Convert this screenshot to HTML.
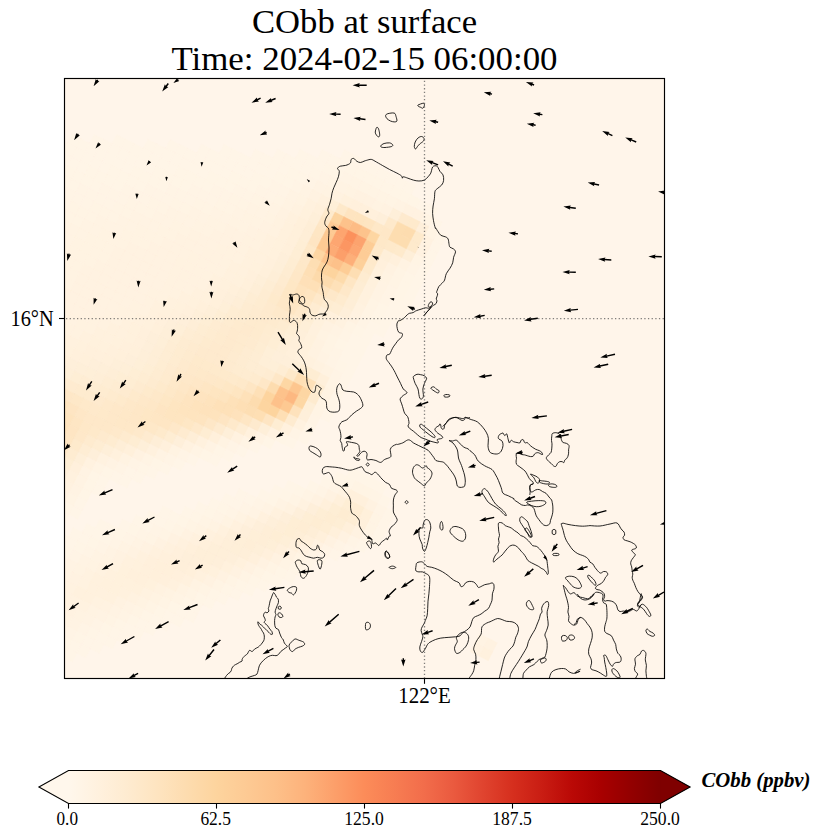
<!DOCTYPE html>
<html><head><meta charset="utf-8"><style>
html,body{margin:0;padding:0;background:#fff;width:820px;height:839px;overflow:hidden}
svg{display:block}
text{font-family:"Liberation Serif","DejaVu Serif",serif;fill:#000}
</style></head><body>
<svg width="820" height="839" viewBox="0 0 820 839">
<defs>
<linearGradient id="cb" x1="68.5" x2="660.5" y1="0" y2="0" gradientUnits="userSpaceOnUse">
<stop offset="0.00" stop-color="#fff7ec"/>
<stop offset="0.05" stop-color="#fff1de"/>
<stop offset="0.10" stop-color="#feebd0"/>
<stop offset="0.15" stop-color="#fee4c0"/>
<stop offset="0.20" stop-color="#fddcaf"/>
<stop offset="0.25" stop-color="#fdd49e"/>
<stop offset="0.30" stop-color="#fdca94"/>
<stop offset="0.35" stop-color="#fdc089"/>
<stop offset="0.40" stop-color="#fdb27b"/>
<stop offset="0.45" stop-color="#fc9f6a"/>
<stop offset="0.50" stop-color="#fc8c59"/>
<stop offset="0.55" stop-color="#f77d52"/>
<stop offset="0.60" stop-color="#f26d4b"/>
<stop offset="0.65" stop-color="#ea5a3f"/>
<stop offset="0.70" stop-color="#e0442f"/>
<stop offset="0.75" stop-color="#d62f1e"/>
<stop offset="0.80" stop-color="#c91d13"/>
<stop offset="0.85" stop-color="#ba0906"/>
<stop offset="0.90" stop-color="#a80000"/>
<stop offset="0.95" stop-color="#930000"/>
<stop offset="1.00" stop-color="#7f0000"/>
</linearGradient>
<clipPath id="ax"><rect x="64.5" y="78.5" width="600" height="600"/></clipPath>
</defs>
<!-- title -->
<text x="364.5" y="33" font-size="34.2" text-anchor="middle" textLength="225" lengthAdjust="spacingAndGlyphs">CObb at surface</text>
<text x="364.5" y="70.2" font-size="34.2" text-anchor="middle" textLength="386" lengthAdjust="spacingAndGlyphs">Time: 2024-02-15 06:00:00</text>
<!-- map -->
<g clip-path="url(#ax)">
<rect x="64.5" y="78.5" width="600" height="600" fill="#fff5ea"/>
<g id="plume"><g>
<path fill="#fff5e7" stroke="#fff5e7" stroke-width="0.6" d="M344.5 149.7l8.91 4.54 -4.54 8.91 -8.91 -4.54zM353.4 154.3l8.91 4.54 -4.54 8.91 -8.91 -4.54zM362.3 158.8l8.91 4.54 -4.54 8.91 -8.91 -4.54zM371.2 163.4l8.91 4.54 -4.54 8.91 -8.91 -4.54zM380.1 167.9l8.91 4.54 -4.54 8.91 -8.91 -4.54zM389.0 172.4l8.91 4.54 -4.54 8.91 -8.91 -4.54zM397.9 177.0l8.91 4.54 -4.54 8.91 -8.91 -4.54zM406.8 181.5l8.91 4.54 -4.54 8.91 -8.91 -4.54zM322.1 149.6l8.91 4.54 -4.54 8.91 -8.91 -4.54zM331.0 154.1l8.91 4.54 -4.54 8.91 -8.91 -4.54zM339.9 158.7l8.91 4.54 -4.54 8.91 -8.91 -4.54zM420.1 199.5l8.91 4.54 -4.54 8.91 -8.91 -4.54zM429.0 204.1l8.91 4.54 -4.54 8.91 -8.91 -4.54zM299.7 149.4l8.91 4.54 -4.54 8.91 -8.91 -4.54zM308.6 153.9l8.91 4.54 -4.54 8.91 -8.91 -4.54zM317.6 158.5l8.91 4.54 -4.54 8.91 -8.91 -4.54zM433.4 217.5l8.91 4.54 -4.54 8.91 -8.91 -4.54zM277.4 149.2l8.91 4.54 -4.54 8.91 -8.91 -4.54zM286.3 153.8l8.91 4.54 -4.54 8.91 -8.91 -4.54zM295.2 158.3l8.91 4.54 -4.54 8.91 -8.91 -4.54zM304.1 162.9l8.91 4.54 -4.54 8.91 -8.91 -4.54zM437.8 231.0l8.91 4.54 -4.54 8.91 -8.91 -4.54zM255.0 149.1l8.91 4.54 -4.54 8.91 -8.91 -4.54zM263.9 153.6l8.91 4.54 -4.54 8.91 -8.91 -4.54zM272.8 158.1l8.91 4.54 -4.54 8.91 -8.91 -4.54zM281.7 162.7l8.91 4.54 -4.54 8.91 -8.91 -4.54zM433.2 239.9l8.91 4.54 -4.54 8.91 -8.91 -4.54zM223.7 144.4l8.91 4.54 -4.54 8.91 -8.91 -4.54zM232.7 148.9l8.91 4.54 -4.54 8.91 -8.91 -4.54zM241.6 153.4l8.91 4.54 -4.54 8.91 -8.91 -4.54zM250.5 158.0l8.91 4.54 -4.54 8.91 -8.91 -4.54zM259.4 162.5l8.91 4.54 -4.54 8.91 -8.91 -4.54zM268.3 167.1l8.91 4.54 -4.54 8.91 -8.91 -4.54zM428.7 248.8l8.91 4.54 -4.54 8.91 -8.91 -4.54zM201.4 144.2l8.91 4.54 -4.54 8.91 -8.91 -4.54zM210.3 148.7l8.91 4.54 -4.54 8.91 -8.91 -4.54zM219.2 153.3l8.91 4.54 -4.54 8.91 -8.91 -4.54zM228.1 157.8l8.91 4.54 -4.54 8.91 -8.91 -4.54zM237.0 162.3l8.91 4.54 -4.54 8.91 -8.91 -4.54zM245.9 166.9l8.91 4.54 -4.54 8.91 -8.91 -4.54zM424.1 257.7l8.91 4.54 -4.54 8.91 -8.91 -4.54zM170.1 139.5l8.91 4.54 -4.54 8.91 -8.91 -4.54zM179.0 144.0l8.91 4.54 -4.54 8.91 -8.91 -4.54zM187.9 148.6l8.91 4.54 -4.54 8.91 -8.91 -4.54zM196.8 153.1l8.91 4.54 -4.54 8.91 -8.91 -4.54zM205.8 157.6l8.91 4.54 -4.54 8.91 -8.91 -4.54zM214.7 162.2l8.91 4.54 -4.54 8.91 -8.91 -4.54zM223.6 166.7l8.91 4.54 -4.54 8.91 -8.91 -4.54zM419.6 266.6l8.91 4.54 -4.54 8.91 -8.91 -4.54zM147.8 139.3l8.91 4.54 -4.54 8.91 -8.91 -4.54zM156.7 143.8l8.91 4.54 -4.54 8.91 -8.91 -4.54zM165.6 148.4l8.91 4.54 -4.54 8.91 -8.91 -4.54zM174.5 152.9l8.91 4.54 -4.54 8.91 -8.91 -4.54zM183.4 157.5l8.91 4.54 -4.54 8.91 -8.91 -4.54zM192.3 162.0l8.91 4.54 -4.54 8.91 -8.91 -4.54zM201.2 166.5l8.91 4.54 -4.54 8.91 -8.91 -4.54zM415.1 275.5l8.91 4.54 -4.54 8.91 -8.91 -4.54zM116.5 134.6l8.91 4.54 -4.54 8.91 -8.91 -4.54zM125.4 139.1l8.91 4.54 -4.54 8.91 -8.91 -4.54zM134.3 143.7l8.91 4.54 -4.54 8.91 -8.91 -4.54zM143.2 148.2l8.91 4.54 -4.54 8.91 -8.91 -4.54zM152.1 152.8l8.91 4.54 -4.54 8.91 -8.91 -4.54zM161.0 157.3l8.91 4.54 -4.54 8.91 -8.91 -4.54zM169.9 161.8l8.91 4.54 -4.54 8.91 -8.91 -4.54zM410.5 284.4l8.91 4.54 -4.54 8.91 -8.91 -4.54zM94.1 134.4l8.91 4.54 -4.54 8.91 -8.91 -4.54zM103.0 139.0l8.91 4.54 -4.54 8.91 -8.91 -4.54zM111.9 143.5l8.91 4.54 -4.54 8.91 -8.91 -4.54zM120.9 148.0l8.91 4.54 -4.54 8.91 -8.91 -4.54zM129.8 152.6l8.91 4.54 -4.54 8.91 -8.91 -4.54zM138.7 157.1l8.91 4.54 -4.54 8.91 -8.91 -4.54zM147.6 161.7l8.91 4.54 -4.54 8.91 -8.91 -4.54zM406.0 293.3l8.91 4.54 -4.54 8.91 -8.91 -4.54zM71.8 134.3l8.91 4.54 -4.54 8.91 -8.91 -4.54zM80.7 138.8l8.91 4.54 -4.54 8.91 -8.91 -4.54zM89.6 143.3l8.91 4.54 -4.54 8.91 -8.91 -4.54zM98.5 147.9l8.91 4.54 -4.54 8.91 -8.91 -4.54zM107.4 152.4l8.91 4.54 -4.54 8.91 -8.91 -4.54zM116.3 157.0l8.91 4.54 -4.54 8.91 -8.91 -4.54zM125.2 161.5l8.91 4.54 -4.54 8.91 -8.91 -4.54zM392.5 297.7l8.91 4.54 -4.54 8.91 -8.91 -4.54zM401.4 302.2l8.91 4.54 -4.54 8.91 -8.91 -4.54zM58.3 138.6l8.91 4.54 -4.54 8.91 -8.91 -4.54zM67.2 143.2l8.91 4.54 -4.54 8.91 -8.91 -4.54zM76.1 147.7l8.91 4.54 -4.54 8.91 -8.91 -4.54zM85.0 152.2l8.91 4.54 -4.54 8.91 -8.91 -4.54zM94.0 156.8l8.91 4.54 -4.54 8.91 -8.91 -4.54zM102.9 161.3l8.91 4.54 -4.54 8.91 -8.91 -4.54zM388.0 306.6l8.91 4.54 -4.54 8.91 -8.91 -4.54zM396.9 311.1l8.91 4.54 -4.54 8.91 -8.91 -4.54zM53.8 147.5l8.91 4.54 -4.54 8.91 -8.91 -4.54zM62.7 152.1l8.91 4.54 -4.54 8.91 -8.91 -4.54zM71.6 156.6l8.91 4.54 -4.54 8.91 -8.91 -4.54zM80.5 161.2l8.91 4.54 -4.54 8.91 -8.91 -4.54zM383.4 315.5l8.91 4.54 -4.54 8.91 -8.91 -4.54zM58.1 161.0l8.91 4.54 -4.54 8.91 -8.91 -4.54zM370.0 319.9l8.91 4.54 -4.54 8.91 -8.91 -4.54zM378.9 324.4l8.91 4.54 -4.54 8.91 -8.91 -4.54zM365.5 328.8l8.91 4.54 -4.54 8.91 -8.91 -4.54zM352.0 333.2l8.91 4.54 -4.54 8.91 -8.91 -4.54zM360.9 337.7l8.91 4.54 -4.54 8.91 -8.91 -4.54zM347.5 342.1l8.91 4.54 -4.54 8.91 -8.91 -4.54zM356.4 346.6l8.91 4.54 -4.54 8.91 -8.91 -4.54zM342.9 351.0l8.91 4.54 -4.54 8.91 -8.91 -4.54zM351.8 355.5l8.91 4.54 -4.54 8.91 -8.91 -4.54zM347.3 364.4l8.91 4.54 -4.54 8.91 -8.91 -4.54zM342.8 373.3l8.91 4.54 -4.54 8.91 -8.91 -4.54zM338.2 382.3l8.91 4.54 -4.54 8.91 -8.91 -4.54zM333.7 391.2l8.91 4.54 -4.54 8.91 -8.91 -4.54zM329.1 400.1l8.91 4.54 -4.54 8.91 -8.91 -4.54zM324.6 409.0l8.91 4.54 -4.54 8.91 -8.91 -4.54zM302.1 431.2l8.91 4.54 -4.54 8.91 -8.91 -4.54zM288.6 435.5l8.91 4.54 -4.54 8.91 -8.91 -4.54zM351.0 467.3l8.91 4.54 -4.54 8.91 -8.91 -4.54zM359.9 471.9l8.91 4.54 -4.54 8.91 -8.91 -4.54zM368.8 476.4l8.91 4.54 -4.54 8.91 -8.91 -4.54zM377.7 480.9l8.91 4.54 -4.54 8.91 -8.91 -4.54zM337.5 471.7l8.91 4.54 -4.54 8.91 -8.91 -4.54zM382.1 494.4l8.91 4.54 -4.54 8.91 -8.91 -4.54zM252.8 439.7l8.91 4.54 -4.54 8.91 -8.91 -4.54zM324.1 476.1l8.91 4.54 -4.54 8.91 -8.91 -4.54zM386.5 507.8l8.91 4.54 -4.54 8.91 -8.91 -4.54zM239.4 444.1l8.91 4.54 -4.54 8.91 -8.91 -4.54zM310.6 480.4l8.91 4.54 -4.54 8.91 -8.91 -4.54zM381.9 516.8l8.91 4.54 -4.54 8.91 -8.91 -4.54zM225.9 448.5l8.91 4.54 -4.54 8.91 -8.91 -4.54zM288.3 480.3l8.91 4.54 -4.54 8.91 -8.91 -4.54zM377.4 525.7l8.91 4.54 -4.54 8.91 -8.91 -4.54zM212.5 452.9l8.91 4.54 -4.54 8.91 -8.91 -4.54zM274.8 484.6l8.91 4.54 -4.54 8.91 -8.91 -4.54zM372.8 534.6l8.91 4.54 -4.54 8.91 -8.91 -4.54zM190.1 452.7l8.91 4.54 -4.54 8.91 -8.91 -4.54zM261.4 489.0l8.91 4.54 -4.54 8.91 -8.91 -4.54zM359.4 538.9l8.91 4.54 -4.54 8.91 -8.91 -4.54zM176.6 457.1l8.91 4.54 -4.54 8.91 -8.91 -4.54zM239.0 488.8l8.91 4.54 -4.54 8.91 -8.91 -4.54zM247.9 493.4l8.91 4.54 -4.54 8.91 -8.91 -4.54zM345.9 543.3l8.91 4.54 -4.54 8.91 -8.91 -4.54zM163.2 461.4l8.91 4.54 -4.54 8.91 -8.91 -4.54zM225.6 493.2l8.91 4.54 -4.54 8.91 -8.91 -4.54zM234.5 497.7l8.91 4.54 -4.54 8.91 -8.91 -4.54zM332.5 547.7l8.91 4.54 -4.54 8.91 -8.91 -4.54zM149.7 465.8l8.91 4.54 -4.54 8.91 -8.91 -4.54zM212.1 497.6l8.91 4.54 -4.54 8.91 -8.91 -4.54zM319.0 552.1l8.91 4.54 -4.54 8.91 -8.91 -4.54zM127.4 465.6l8.91 4.54 -4.54 8.91 -8.91 -4.54zM136.3 470.2l8.91 4.54 -4.54 8.91 -8.91 -4.54zM198.7 501.9l8.91 4.54 -4.54 8.91 -8.91 -4.54zM305.6 556.4l8.91 4.54 -4.54 8.91 -8.91 -4.54zM113.9 470.0l8.91 4.54 -4.54 8.91 -8.91 -4.54zM122.8 474.5l8.91 4.54 -4.54 8.91 -8.91 -4.54zM185.2 506.3l8.91 4.54 -4.54 8.91 -8.91 -4.54zM301.0 565.3l8.91 4.54 -4.54 8.91 -8.91 -4.54zM100.5 474.4l8.91 4.54 -4.54 8.91 -8.91 -4.54zM162.9 506.1l8.91 4.54 -4.54 8.91 -8.91 -4.54zM171.8 510.7l8.91 4.54 -4.54 8.91 -8.91 -4.54zM287.6 569.7l8.91 4.54 -4.54 8.91 -8.91 -4.54zM95.9 483.3l8.91 4.54 -4.54 8.91 -8.91 -4.54zM149.4 510.5l8.91 4.54 -4.54 8.91 -8.91 -4.54zM158.3 515.1l8.91 4.54 -4.54 8.91 -8.91 -4.54zM274.1 574.1l8.91 4.54 -4.54 8.91 -8.91 -4.54zM136.0 514.9l8.91 4.54 -4.54 8.91 -8.91 -4.54zM144.9 519.4l8.91 4.54 -4.54 8.91 -8.91 -4.54zM260.7 578.4l8.91 4.54 -4.54 8.91 -8.91 -4.54zM78.0 496.6l8.91 4.54 -4.54 8.91 -8.91 -4.54zM122.5 519.3l8.91 4.54 -4.54 8.91 -8.91 -4.54zM247.2 582.8l8.91 4.54 -4.54 8.91 -8.91 -4.54zM73.4 505.5l8.91 4.54 -4.54 8.91 -8.91 -4.54zM100.1 519.1l8.91 4.54 -4.54 8.91 -8.91 -4.54zM109.1 523.6l8.91 4.54 -4.54 8.91 -8.91 -4.54zM233.8 587.2l8.91 4.54 -4.54 8.91 -8.91 -4.54zM60.0 509.8l8.91 4.54 -4.54 8.91 -8.91 -4.54zM86.7 523.5l8.91 4.54 -4.54 8.91 -8.91 -4.54zM95.6 528.0l8.91 4.54 -4.54 8.91 -8.91 -4.54zM220.3 591.6l8.91 4.54 -4.54 8.91 -8.91 -4.54zM73.2 527.8l8.91 4.54 -4.54 8.91 -8.91 -4.54zM82.2 532.4l8.91 4.54 -4.54 8.91 -8.91 -4.54zM206.9 595.9l8.91 4.54 -4.54 8.91 -8.91 -4.54zM59.8 532.2l8.91 4.54 -4.54 8.91 -8.91 -4.54zM68.7 536.7l8.91 4.54 -4.54 8.91 -8.91 -4.54zM193.4 600.3l8.91 4.54 -4.54 8.91 -8.91 -4.54zM55.3 541.1l8.91 4.54 -4.54 8.91 -8.91 -4.54zM180.0 604.7l8.91 4.54 -4.54 8.91 -8.91 -4.54zM188.9 609.2l8.91 4.54 -4.54 8.91 -8.91 -4.54zM166.5 609.0l8.91 4.54 -4.54 8.91 -8.91 -4.54zM175.5 613.6l8.91 4.54 -4.54 8.91 -8.91 -4.54zM153.1 613.4l8.91 4.54 -4.54 8.91 -8.91 -4.54zM162.0 617.9l8.91 4.54 -4.54 8.91 -8.91 -4.54zM139.6 617.8l8.91 4.54 -4.54 8.91 -8.91 -4.54zM148.6 622.3l8.91 4.54 -4.54 8.91 -8.91 -4.54zM126.2 622.1l8.91 4.54 -4.54 8.91 -8.91 -4.54zM135.1 626.7l8.91 4.54 -4.54 8.91 -8.91 -4.54zM112.7 626.5l8.91 4.54 -4.54 8.91 -8.91 -4.54zM121.7 631.1l8.91 4.54 -4.54 8.91 -8.91 -4.54zM99.3 630.9l8.91 4.54 -4.54 8.91 -8.91 -4.54zM108.2 635.4l8.91 4.54 -4.54 8.91 -8.91 -4.54zM85.8 635.3l8.91 4.54 -4.54 8.91 -8.91 -4.54zM94.8 639.8l8.91 4.54 -4.54 8.91 -8.91 -4.54zM72.4 639.6l8.91 4.54 -4.54 8.91 -8.91 -4.54zM81.3 644.2l8.91 4.54 -4.54 8.91 -8.91 -4.54zM58.9 644.0l8.91 4.54 -4.54 8.91 -8.91 -4.54zM67.9 648.5l8.91 4.54 -4.54 8.91 -8.91 -4.54z"/>
<path fill="#fff5e6" stroke="#fff5e6" stroke-width="0.6" d="M348.8 163.2l8.91 4.54 -4.54 8.91 -8.91 -4.54zM357.7 167.7l8.91 4.54 -4.54 8.91 -8.91 -4.54zM366.6 172.3l8.91 4.54 -4.54 8.91 -8.91 -4.54zM375.6 176.8l8.91 4.54 -4.54 8.91 -8.91 -4.54zM384.5 181.4l8.91 4.54 -4.54 8.91 -8.91 -4.54zM393.4 185.9l8.91 4.54 -4.54 8.91 -8.91 -4.54zM402.3 190.4l8.91 4.54 -4.54 8.91 -8.91 -4.54zM411.2 195.0l8.91 4.54 -4.54 8.91 -8.91 -4.54zM326.5 163.0l8.91 4.54 -4.54 8.91 -8.91 -4.54zM335.4 167.6l8.91 4.54 -4.54 8.91 -8.91 -4.54zM313.0 167.4l8.91 4.54 -4.54 8.91 -8.91 -4.54zM290.7 167.2l8.91 4.54 -4.54 8.91 -8.91 -4.54zM299.6 171.8l8.91 4.54 -4.54 8.91 -8.91 -4.54zM277.2 171.6l8.91 4.54 -4.54 8.91 -8.91 -4.54zM286.1 176.1l8.91 4.54 -4.54 8.91 -8.91 -4.54zM254.8 171.4l8.91 4.54 -4.54 8.91 -8.91 -4.54zM263.8 176.0l8.91 4.54 -4.54 8.91 -8.91 -4.54zM232.5 171.3l8.91 4.54 -4.54 8.91 -8.91 -4.54zM241.4 175.8l8.91 4.54 -4.54 8.91 -8.91 -4.54zM250.3 180.3l8.91 4.54 -4.54 8.91 -8.91 -4.54zM210.1 171.1l8.91 4.54 -4.54 8.91 -8.91 -4.54zM219.0 175.6l8.91 4.54 -4.54 8.91 -8.91 -4.54zM227.9 180.2l8.91 4.54 -4.54 8.91 -8.91 -4.54zM406.1 271.0l8.91 4.54 -4.54 8.91 -8.91 -4.54zM178.9 166.4l8.91 4.54 -4.54 8.91 -8.91 -4.54zM187.8 170.9l8.91 4.54 -4.54 8.91 -8.91 -4.54zM196.7 175.5l8.91 4.54 -4.54 8.91 -8.91 -4.54zM205.6 180.0l8.91 4.54 -4.54 8.91 -8.91 -4.54zM401.6 279.9l8.91 4.54 -4.54 8.91 -8.91 -4.54zM156.5 166.2l8.91 4.54 -4.54 8.91 -8.91 -4.54zM165.4 170.7l8.91 4.54 -4.54 8.91 -8.91 -4.54zM174.3 175.3l8.91 4.54 -4.54 8.91 -8.91 -4.54zM183.2 179.8l8.91 4.54 -4.54 8.91 -8.91 -4.54zM397.1 288.8l8.91 4.54 -4.54 8.91 -8.91 -4.54zM134.1 166.0l8.91 4.54 -4.54 8.91 -8.91 -4.54zM143.0 170.6l8.91 4.54 -4.54 8.91 -8.91 -4.54zM152.0 175.1l8.91 4.54 -4.54 8.91 -8.91 -4.54zM160.9 179.7l8.91 4.54 -4.54 8.91 -8.91 -4.54zM111.8 165.9l8.91 4.54 -4.54 8.91 -8.91 -4.54zM120.7 170.4l8.91 4.54 -4.54 8.91 -8.91 -4.54zM129.6 174.9l8.91 4.54 -4.54 8.91 -8.91 -4.54zM138.5 179.5l8.91 4.54 -4.54 8.91 -8.91 -4.54zM379.1 302.1l8.91 4.54 -4.54 8.91 -8.91 -4.54zM89.4 165.7l8.91 4.54 -4.54 8.91 -8.91 -4.54zM98.3 170.2l8.91 4.54 -4.54 8.91 -8.91 -4.54zM107.2 174.8l8.91 4.54 -4.54 8.91 -8.91 -4.54zM116.1 179.3l8.91 4.54 -4.54 8.91 -8.91 -4.54zM374.5 311.0l8.91 4.54 -4.54 8.91 -8.91 -4.54zM67.1 165.5l8.91 4.54 -4.54 8.91 -8.91 -4.54zM76.0 170.1l8.91 4.54 -4.54 8.91 -8.91 -4.54zM84.9 174.6l8.91 4.54 -4.54 8.91 -8.91 -4.54zM93.8 179.1l8.91 4.54 -4.54 8.91 -8.91 -4.54zM53.6 169.9l8.91 4.54 -4.54 8.91 -8.91 -4.54zM62.5 174.4l8.91 4.54 -4.54 8.91 -8.91 -4.54zM71.4 179.0l8.91 4.54 -4.54 8.91 -8.91 -4.54zM356.5 324.3l8.91 4.54 -4.54 8.91 -8.91 -4.54zM58.0 183.3l8.91 4.54 -4.54 8.91 -8.91 -4.54zM338.6 337.5l8.91 4.54 -4.54 8.91 -8.91 -4.54zM338.4 359.9l8.91 4.54 -4.54 8.91 -8.91 -4.54zM306.6 422.3l8.91 4.54 -4.54 8.91 -8.91 -4.54zM279.7 431.0l8.91 4.54 -4.54 8.91 -8.91 -4.54zM266.3 435.4l8.91 4.54 -4.54 8.91 -8.91 -4.54zM346.4 476.2l8.91 4.54 -4.54 8.91 -8.91 -4.54zM217.0 443.9l8.91 4.54 -4.54 8.91 -8.91 -4.54zM297.2 484.8l8.91 4.54 -4.54 8.91 -8.91 -4.54zM203.5 448.3l8.91 4.54 -4.54 8.91 -8.91 -4.54zM283.7 489.2l8.91 4.54 -4.54 8.91 -8.91 -4.54zM270.3 493.5l8.91 4.54 -4.54 8.91 -8.91 -4.54zM154.3 456.9l8.91 4.54 -4.54 8.91 -8.91 -4.54zM140.8 461.3l8.91 4.54 -4.54 8.91 -8.91 -4.54zM221.0 502.1l8.91 4.54 -4.54 8.91 -8.91 -4.54zM207.6 506.5l8.91 4.54 -4.54 8.91 -8.91 -4.54zM105.0 465.5l8.91 4.54 -4.54 8.91 -8.91 -4.54zM194.1 510.9l8.91 4.54 -4.54 8.91 -8.91 -4.54zM292.1 560.8l8.91 4.54 -4.54 8.91 -8.91 -4.54zM91.6 469.8l8.91 4.54 -4.54 8.91 -8.91 -4.54zM180.7 515.2l8.91 4.54 -4.54 8.91 -8.91 -4.54zM278.7 565.2l8.91 4.54 -4.54 8.91 -8.91 -4.54zM87.0 478.7l8.91 4.54 -4.54 8.91 -8.91 -4.54zM167.2 519.6l8.91 4.54 -4.54 8.91 -8.91 -4.54zM265.2 569.5l8.91 4.54 -4.54 8.91 -8.91 -4.54zM82.5 487.6l8.91 4.54 -4.54 8.91 -8.91 -4.54zM251.8 573.9l8.91 4.54 -4.54 8.91 -8.91 -4.54zM131.4 523.8l8.91 4.54 -4.54 8.91 -8.91 -4.54zM238.3 578.3l8.91 4.54 -4.54 8.91 -8.91 -4.54zM64.5 500.9l8.91 4.54 -4.54 8.91 -8.91 -4.54zM118.0 528.2l8.91 4.54 -4.54 8.91 -8.91 -4.54zM224.9 582.6l8.91 4.54 -4.54 8.91 -8.91 -4.54zM104.5 532.5l8.91 4.54 -4.54 8.91 -8.91 -4.54zM211.4 587.0l8.91 4.54 -4.54 8.91 -8.91 -4.54zM91.1 536.9l8.91 4.54 -4.54 8.91 -8.91 -4.54zM198.0 591.4l8.91 4.54 -4.54 8.91 -8.91 -4.54zM77.6 541.3l8.91 4.54 -4.54 8.91 -8.91 -4.54zM184.5 595.8l8.91 4.54 -4.54 8.91 -8.91 -4.54zM64.2 545.6l8.91 4.54 -4.54 8.91 -8.91 -4.54zM171.1 600.1l8.91 4.54 -4.54 8.91 -8.91 -4.54zM157.6 604.5l8.91 4.54 -4.54 8.91 -8.91 -4.54zM144.2 608.9l8.91 4.54 -4.54 8.91 -8.91 -4.54zM130.7 613.2l8.91 4.54 -4.54 8.91 -8.91 -4.54zM117.3 617.6l8.91 4.54 -4.54 8.91 -8.91 -4.54zM103.8 622.0l8.91 4.54 -4.54 8.91 -8.91 -4.54zM90.4 626.3l8.91 4.54 -4.54 8.91 -8.91 -4.54zM76.9 630.7l8.91 4.54 -4.54 8.91 -8.91 -4.54zM54.6 630.5l8.91 4.54 -4.54 8.91 -8.91 -4.54zM63.5 635.1l8.91 4.54 -4.54 8.91 -8.91 -4.54z"/>
<path fill="#fff4e5" stroke="#fff4e5" stroke-width="0.6" d="M344.3 172.1l8.91 4.54 -4.54 8.91 -8.91 -4.54zM321.9 171.9l8.91 4.54 -4.54 8.91 -8.91 -4.54zM308.5 176.3l8.91 4.54 -4.54 8.91 -8.91 -4.54zM295.0 180.7l8.91 4.54 -4.54 8.91 -8.91 -4.54zM272.7 180.5l8.91 4.54 -4.54 8.91 -8.91 -4.54zM281.6 185.0l8.91 4.54 -4.54 8.91 -8.91 -4.54zM259.2 184.9l8.91 4.54 -4.54 8.91 -8.91 -4.54zM268.1 189.4l8.91 4.54 -4.54 8.91 -8.91 -4.54zM410.7 262.1l8.91 4.54 -4.54 8.91 -8.91 -4.54zM236.9 184.7l8.91 4.54 -4.54 8.91 -8.91 -4.54zM245.8 189.2l8.91 4.54 -4.54 8.91 -8.91 -4.54zM214.5 184.5l8.91 4.54 -4.54 8.91 -8.91 -4.54zM223.4 189.1l8.91 4.54 -4.54 8.91 -8.91 -4.54zM192.1 184.4l8.91 4.54 -4.54 8.91 -8.91 -4.54zM201.0 188.9l8.91 4.54 -4.54 8.91 -8.91 -4.54zM210.0 193.4l8.91 4.54 -4.54 8.91 -8.91 -4.54zM388.2 284.2l8.91 4.54 -4.54 8.91 -8.91 -4.54zM169.8 184.2l8.91 4.54 -4.54 8.91 -8.91 -4.54zM178.7 188.7l8.91 4.54 -4.54 8.91 -8.91 -4.54zM187.6 193.3l8.91 4.54 -4.54 8.91 -8.91 -4.54zM383.6 293.2l8.91 4.54 -4.54 8.91 -8.91 -4.54zM147.4 184.0l8.91 4.54 -4.54 8.91 -8.91 -4.54zM156.3 188.6l8.91 4.54 -4.54 8.91 -8.91 -4.54zM165.2 193.1l8.91 4.54 -4.54 8.91 -8.91 -4.54zM125.1 183.9l8.91 4.54 -4.54 8.91 -8.91 -4.54zM134.0 188.4l8.91 4.54 -4.54 8.91 -8.91 -4.54zM142.9 192.9l8.91 4.54 -4.54 8.91 -8.91 -4.54zM102.7 183.7l8.91 4.54 -4.54 8.91 -8.91 -4.54zM111.6 188.2l8.91 4.54 -4.54 8.91 -8.91 -4.54zM120.5 192.8l8.91 4.54 -4.54 8.91 -8.91 -4.54zM361.1 315.3l8.91 4.54 -4.54 8.91 -8.91 -4.54zM80.3 183.5l8.91 4.54 -4.54 8.91 -8.91 -4.54zM89.2 188.1l8.91 4.54 -4.54 8.91 -8.91 -4.54zM98.2 192.6l8.91 4.54 -4.54 8.91 -8.91 -4.54zM107.1 197.1l8.91 4.54 -4.54 8.91 -8.91 -4.54zM66.9 187.9l8.91 4.54 -4.54 8.91 -8.91 -4.54zM75.8 192.4l8.91 4.54 -4.54 8.91 -8.91 -4.54zM84.7 197.0l8.91 4.54 -4.54 8.91 -8.91 -4.54zM343.1 328.6l8.91 4.54 -4.54 8.91 -8.91 -4.54zM53.4 192.3l8.91 4.54 -4.54 8.91 -8.91 -4.54zM62.3 196.8l8.91 4.54 -4.54 8.91 -8.91 -4.54zM334.0 346.4l8.91 4.54 -4.54 8.91 -8.91 -4.54zM329.5 355.4l8.91 4.54 -4.54 8.91 -8.91 -4.54zM333.8 368.8l8.91 4.54 -4.54 8.91 -8.91 -4.54zM311.1 413.4l8.91 4.54 -4.54 8.91 -8.91 -4.54zM293.2 426.6l8.91 4.54 -4.54 8.91 -8.91 -4.54zM373.2 489.9l8.91 4.54 -4.54 8.91 -8.91 -4.54zM333.0 480.6l8.91 4.54 -4.54 8.91 -8.91 -4.54zM377.5 503.3l8.91 4.54 -4.54 8.91 -8.91 -4.54zM230.4 439.6l8.91 4.54 -4.54 8.91 -8.91 -4.54zM319.5 485.0l8.91 4.54 -4.54 8.91 -8.91 -4.54zM363.9 530.0l8.91 4.54 -4.54 8.91 -8.91 -4.54zM181.2 448.1l8.91 4.54 -4.54 8.91 -8.91 -4.54zM350.5 534.4l8.91 4.54 -4.54 8.91 -8.91 -4.54zM167.7 452.5l8.91 4.54 -4.54 8.91 -8.91 -4.54zM256.8 497.9l8.91 4.54 -4.54 8.91 -8.91 -4.54zM337.0 538.8l8.91 4.54 -4.54 8.91 -8.91 -4.54zM243.4 502.3l8.91 4.54 -4.54 8.91 -8.91 -4.54zM323.6 543.1l8.91 4.54 -4.54 8.91 -8.91 -4.54zM131.9 456.7l8.91 4.54 -4.54 8.91 -8.91 -4.54zM229.9 506.7l8.91 4.54 -4.54 8.91 -8.91 -4.54zM310.1 547.5l8.91 4.54 -4.54 8.91 -8.91 -4.54zM118.5 461.1l8.91 4.54 -4.54 8.91 -8.91 -4.54zM216.5 511.0l8.91 4.54 -4.54 8.91 -8.91 -4.54zM153.8 524.0l8.91 4.54 -4.54 8.91 -8.91 -4.54zM140.3 528.3l8.91 4.54 -4.54 8.91 -8.91 -4.54zM126.9 532.7l8.91 4.54 -4.54 8.91 -8.91 -4.54zM113.4 537.1l8.91 4.54 -4.54 8.91 -8.91 -4.54zM100.0 541.4l8.91 4.54 -4.54 8.91 -8.91 -4.54zM86.5 545.8l8.91 4.54 -4.54 8.91 -8.91 -4.54zM73.1 550.2l8.91 4.54 -4.54 8.91 -8.91 -4.54zM59.6 554.6l8.91 4.54 -4.54 8.91 -8.91 -4.54zM94.9 617.4l8.91 4.54 -4.54 8.91 -8.91 -4.54zM81.5 621.8l8.91 4.54 -4.54 8.91 -8.91 -4.54zM68.0 626.2l8.91 4.54 -4.54 8.91 -8.91 -4.54z"/>
<path fill="#fff4e4" stroke="#fff4e4" stroke-width="0.6" d="M353.2 176.6l8.91 4.54 -4.54 8.91 -8.91 -4.54zM362.1 181.2l8.91 4.54 -4.54 8.91 -8.91 -4.54zM371.0 185.7l8.91 4.54 -4.54 8.91 -8.91 -4.54zM379.9 190.3l8.91 4.54 -4.54 8.91 -8.91 -4.54zM388.8 194.8l8.91 4.54 -4.54 8.91 -8.91 -4.54zM424.5 213.0l8.91 4.54 -4.54 8.91 -8.91 -4.54zM330.8 176.5l8.91 4.54 -4.54 8.91 -8.91 -4.54zM428.8 226.4l8.91 4.54 -4.54 8.91 -8.91 -4.54zM415.2 253.1l8.91 4.54 -4.54 8.91 -8.91 -4.54zM277.0 194.0l8.91 4.54 -4.54 8.91 -8.91 -4.54zM254.7 193.8l8.91 4.54 -4.54 8.91 -8.91 -4.54zM263.6 198.3l8.91 4.54 -4.54 8.91 -8.91 -4.54zM397.2 266.4l8.91 4.54 -4.54 8.91 -8.91 -4.54zM232.3 193.6l8.91 4.54 -4.54 8.91 -8.91 -4.54zM241.2 198.2l8.91 4.54 -4.54 8.91 -8.91 -4.54zM392.7 275.3l8.91 4.54 -4.54 8.91 -8.91 -4.54zM218.9 198.0l8.91 4.54 -4.54 8.91 -8.91 -4.54zM227.8 202.5l8.91 4.54 -4.54 8.91 -8.91 -4.54zM196.5 197.8l8.91 4.54 -4.54 8.91 -8.91 -4.54zM205.4 202.4l8.91 4.54 -4.54 8.91 -8.91 -4.54zM174.1 197.6l8.91 4.54 -4.54 8.91 -8.91 -4.54zM183.1 202.2l8.91 4.54 -4.54 8.91 -8.91 -4.54zM370.2 297.5l8.91 4.54 -4.54 8.91 -8.91 -4.54zM151.8 197.5l8.91 4.54 -4.54 8.91 -8.91 -4.54zM160.7 202.0l8.91 4.54 -4.54 8.91 -8.91 -4.54zM365.6 306.4l8.91 4.54 -4.54 8.91 -8.91 -4.54zM129.4 197.3l8.91 4.54 -4.54 8.91 -8.91 -4.54zM138.3 201.8l8.91 4.54 -4.54 8.91 -8.91 -4.54zM147.2 206.4l8.91 4.54 -4.54 8.91 -8.91 -4.54zM116.0 201.7l8.91 4.54 -4.54 8.91 -8.91 -4.54zM124.9 206.2l8.91 4.54 -4.54 8.91 -8.91 -4.54zM347.6 319.7l8.91 4.54 -4.54 8.91 -8.91 -4.54zM93.6 201.5l8.91 4.54 -4.54 8.91 -8.91 -4.54zM102.5 206.0l8.91 4.54 -4.54 8.91 -8.91 -4.54zM111.4 210.6l8.91 4.54 -4.54 8.91 -8.91 -4.54zM71.3 201.3l8.91 4.54 -4.54 8.91 -8.91 -4.54zM80.2 205.9l8.91 4.54 -4.54 8.91 -8.91 -4.54zM89.1 210.4l8.91 4.54 -4.54 8.91 -8.91 -4.54zM329.6 333.0l8.91 4.54 -4.54 8.91 -8.91 -4.54zM57.8 205.7l8.91 4.54 -4.54 8.91 -8.91 -4.54zM66.7 210.2l8.91 4.54 -4.54 8.91 -8.91 -4.54zM75.6 214.8l8.91 4.54 -4.54 8.91 -8.91 -4.54zM325.1 341.9l8.91 4.54 -4.54 8.91 -8.91 -4.54zM53.3 214.6l8.91 4.54 -4.54 8.91 -8.91 -4.54zM329.3 377.7l8.91 4.54 -4.54 8.91 -8.91 -4.54zM320.2 395.5l8.91 4.54 -4.54 8.91 -8.91 -4.54zM315.7 404.4l8.91 4.54 -4.54 8.91 -8.91 -4.54zM355.4 480.8l8.91 4.54 -4.54 8.91 -8.91 -4.54zM364.3 485.3l8.91 4.54 -4.54 8.91 -8.91 -4.54zM243.9 435.2l8.91 4.54 -4.54 8.91 -8.91 -4.54zM373.0 512.2l8.91 4.54 -4.54 8.91 -8.91 -4.54zM306.1 489.3l8.91 4.54 -4.54 8.91 -8.91 -4.54zM368.5 521.1l8.91 4.54 -4.54 8.91 -8.91 -4.54zM194.6 443.8l8.91 4.54 -4.54 8.91 -8.91 -4.54zM292.6 493.7l8.91 4.54 -4.54 8.91 -8.91 -4.54zM145.4 452.3l8.91 4.54 -4.54 8.91 -8.91 -4.54zM296.7 551.9l8.91 4.54 -4.54 8.91 -8.91 -4.54zM96.1 460.9l8.91 4.54 -4.54 8.91 -8.91 -4.54zM203.0 515.4l8.91 4.54 -4.54 8.91 -8.91 -4.54zM283.2 556.3l8.91 4.54 -4.54 8.91 -8.91 -4.54zM189.6 519.8l8.91 4.54 -4.54 8.91 -8.91 -4.54zM269.8 560.6l8.91 4.54 -4.54 8.91 -8.91 -4.54zM176.1 524.1l8.91 4.54 -4.54 8.91 -8.91 -4.54zM256.3 565.0l8.91 4.54 -4.54 8.91 -8.91 -4.54zM162.7 528.5l8.91 4.54 -4.54 8.91 -8.91 -4.54zM242.9 569.4l8.91 4.54 -4.54 8.91 -8.91 -4.54zM69.0 492.0l8.91 4.54 -4.54 8.91 -8.91 -4.54zM149.2 532.9l8.91 4.54 -4.54 8.91 -8.91 -4.54zM229.4 573.7l8.91 4.54 -4.54 8.91 -8.91 -4.54zM55.6 496.4l8.91 4.54 -4.54 8.91 -8.91 -4.54zM216.0 578.1l8.91 4.54 -4.54 8.91 -8.91 -4.54zM202.5 582.5l8.91 4.54 -4.54 8.91 -8.91 -4.54zM189.1 586.8l8.91 4.54 -4.54 8.91 -8.91 -4.54zM175.6 591.2l8.91 4.54 -4.54 8.91 -8.91 -4.54zM162.2 595.6l8.91 4.54 -4.54 8.91 -8.91 -4.54zM148.7 600.0l8.91 4.54 -4.54 8.91 -8.91 -4.54zM55.1 563.5l8.91 4.54 -4.54 8.91 -8.91 -4.54zM135.3 604.3l8.91 4.54 -4.54 8.91 -8.91 -4.54zM121.8 608.7l8.91 4.54 -4.54 8.91 -8.91 -4.54zM108.4 613.1l8.91 4.54 -4.54 8.91 -8.91 -4.54zM59.1 621.6l8.91 4.54 -4.54 8.91 -8.91 -4.54z"/>
<path fill="#fff3e3" stroke="#fff3e3" stroke-width="0.6" d="M397.7 199.3l8.91 4.54 -4.54 8.91 -8.91 -4.54zM339.7 181.0l8.91 4.54 -4.54 8.91 -8.91 -4.54zM317.4 180.8l8.91 4.54 -4.54 8.91 -8.91 -4.54zM303.9 185.2l8.91 4.54 -4.54 8.91 -8.91 -4.54zM290.5 189.6l8.91 4.54 -4.54 8.91 -8.91 -4.54zM272.5 202.9l8.91 4.54 -4.54 8.91 -8.91 -4.54zM250.1 202.7l8.91 4.54 -4.54 8.91 -8.91 -4.54zM259.0 207.2l8.91 4.54 -4.54 8.91 -8.91 -4.54zM236.7 207.1l8.91 4.54 -4.54 8.91 -8.91 -4.54zM379.2 279.7l8.91 4.54 -4.54 8.91 -8.91 -4.54zM214.3 206.9l8.91 4.54 -4.54 8.91 -8.91 -4.54zM223.2 211.4l8.91 4.54 -4.54 8.91 -8.91 -4.54zM374.7 288.6l8.91 4.54 -4.54 8.91 -8.91 -4.54zM192.0 206.7l8.91 4.54 -4.54 8.91 -8.91 -4.54zM200.9 211.3l8.91 4.54 -4.54 8.91 -8.91 -4.54zM169.6 206.6l8.91 4.54 -4.54 8.91 -8.91 -4.54zM178.5 211.1l8.91 4.54 -4.54 8.91 -8.91 -4.54zM187.4 215.6l8.91 4.54 -4.54 8.91 -8.91 -4.54zM156.2 210.9l8.91 4.54 -4.54 8.91 -8.91 -4.54zM165.1 215.5l8.91 4.54 -4.54 8.91 -8.91 -4.54zM133.8 210.8l8.91 4.54 -4.54 8.91 -8.91 -4.54zM142.7 215.3l8.91 4.54 -4.54 8.91 -8.91 -4.54zM151.6 219.8l8.91 4.54 -4.54 8.91 -8.91 -4.54zM120.3 215.1l8.91 4.54 -4.54 8.91 -8.91 -4.54zM129.3 219.7l8.91 4.54 -4.54 8.91 -8.91 -4.54zM334.2 324.1l8.91 4.54 -4.54 8.91 -8.91 -4.54zM98.0 215.0l8.91 4.54 -4.54 8.91 -8.91 -4.54zM106.9 219.5l8.91 4.54 -4.54 8.91 -8.91 -4.54zM115.8 224.0l8.91 4.54 -4.54 8.91 -8.91 -4.54zM84.5 219.3l8.91 4.54 -4.54 8.91 -8.91 -4.54zM93.4 223.9l8.91 4.54 -4.54 8.91 -8.91 -4.54zM62.2 219.2l8.91 4.54 -4.54 8.91 -8.91 -4.54zM71.1 223.7l8.91 4.54 -4.54 8.91 -8.91 -4.54zM80.0 228.2l8.91 4.54 -4.54 8.91 -8.91 -4.54zM320.6 350.8l8.91 4.54 -4.54 8.91 -8.91 -4.54zM57.6 228.1l8.91 4.54 -4.54 8.91 -8.91 -4.54zM66.5 232.6l8.91 4.54 -4.54 8.91 -8.91 -4.54zM53.1 237.0l8.91 4.54 -4.54 8.91 -8.91 -4.54zM257.3 430.8l8.91 4.54 -4.54 8.91 -8.91 -4.54zM208.1 439.4l8.91 4.54 -4.54 8.91 -8.91 -4.54zM279.2 498.1l8.91 4.54 -4.54 8.91 -8.91 -4.54zM158.8 448.0l8.91 4.54 -4.54 8.91 -8.91 -4.54zM265.7 502.5l8.91 4.54 -4.54 8.91 -8.91 -4.54zM252.3 506.8l8.91 4.54 -4.54 8.91 -8.91 -4.54zM479.4 633.8l8.91 4.54 -4.54 8.91 -8.91 -4.54zM109.6 456.5l8.91 4.54 -4.54 8.91 -8.91 -4.54zM82.7 465.3l8.91 4.54 -4.54 8.91 -8.91 -4.54zM78.1 474.2l8.91 4.54 -4.54 8.91 -8.91 -4.54zM73.6 483.1l8.91 4.54 -4.54 8.91 -8.91 -4.54zM135.8 537.2l8.91 4.54 -4.54 8.91 -8.91 -4.54zM122.3 541.6l8.91 4.54 -4.54 8.91 -8.91 -4.54zM108.9 546.0l8.91 4.54 -4.54 8.91 -8.91 -4.54zM95.4 550.4l8.91 4.54 -4.54 8.91 -8.91 -4.54zM82.0 554.7l8.91 4.54 -4.54 8.91 -8.91 -4.54zM68.5 559.1l8.91 4.54 -4.54 8.91 -8.91 -4.54zM126.4 599.8l8.91 4.54 -4.54 8.91 -8.91 -4.54zM112.9 604.2l8.91 4.54 -4.54 8.91 -8.91 -4.54zM99.5 608.5l8.91 4.54 -4.54 8.91 -8.91 -4.54zM86.0 612.9l8.91 4.54 -4.54 8.91 -8.91 -4.54zM72.6 617.3l8.91 4.54 -4.54 8.91 -8.91 -4.54z"/>
<path fill="#fff3e2" stroke="#fff3e2" stroke-width="0.6" d="M348.7 185.6l8.91 4.54 -4.54 8.91 -8.91 -4.54zM375.4 199.2l8.91 4.54 -4.54 8.91 -8.91 -4.54zM326.3 185.4l8.91 4.54 -4.54 8.91 -8.91 -4.54zM299.4 194.1l8.91 4.54 -4.54 8.91 -8.91 -4.54zM285.9 198.5l8.91 4.54 -4.54 8.91 -8.91 -4.54zM401.8 257.5l8.91 4.54 -4.54 8.91 -8.91 -4.54zM268.0 211.8l8.91 4.54 -4.54 8.91 -8.91 -4.54zM383.8 270.8l8.91 4.54 -4.54 8.91 -8.91 -4.54zM245.6 211.6l8.91 4.54 -4.54 8.91 -8.91 -4.54zM254.5 216.1l8.91 4.54 -4.54 8.91 -8.91 -4.54zM232.1 216.0l8.91 4.54 -4.54 8.91 -8.91 -4.54zM241.1 220.5l8.91 4.54 -4.54 8.91 -8.91 -4.54zM209.8 215.8l8.91 4.54 -4.54 8.91 -8.91 -4.54zM218.7 220.3l8.91 4.54 -4.54 8.91 -8.91 -4.54zM196.3 220.2l8.91 4.54 -4.54 8.91 -8.91 -4.54zM205.2 224.7l8.91 4.54 -4.54 8.91 -8.91 -4.54zM174.0 220.0l8.91 4.54 -4.54 8.91 -8.91 -4.54zM182.9 224.5l8.91 4.54 -4.54 8.91 -8.91 -4.54zM160.5 224.4l8.91 4.54 -4.54 8.91 -8.91 -4.54zM169.4 228.9l8.91 4.54 -4.54 8.91 -8.91 -4.54zM138.2 224.2l8.91 4.54 -4.54 8.91 -8.91 -4.54zM147.1 228.7l8.91 4.54 -4.54 8.91 -8.91 -4.54zM156.0 233.3l8.91 4.54 -4.54 8.91 -8.91 -4.54zM124.7 228.6l8.91 4.54 -4.54 8.91 -8.91 -4.54zM133.6 233.1l8.91 4.54 -4.54 8.91 -8.91 -4.54zM142.5 237.7l8.91 4.54 -4.54 8.91 -8.91 -4.54zM320.7 328.5l8.91 4.54 -4.54 8.91 -8.91 -4.54zM102.4 228.4l8.91 4.54 -4.54 8.91 -8.91 -4.54zM111.3 232.9l8.91 4.54 -4.54 8.91 -8.91 -4.54zM120.2 237.5l8.91 4.54 -4.54 8.91 -8.91 -4.54zM88.9 232.8l8.91 4.54 -4.54 8.91 -8.91 -4.54zM97.8 237.3l8.91 4.54 -4.54 8.91 -8.91 -4.54zM106.7 241.9l8.91 4.54 -4.54 8.91 -8.91 -4.54zM75.5 237.1l8.91 4.54 -4.54 8.91 -8.91 -4.54zM84.4 241.7l8.91 4.54 -4.54 8.91 -8.91 -4.54zM93.3 246.2l8.91 4.54 -4.54 8.91 -8.91 -4.54zM102.2 250.8l8.91 4.54 -4.54 8.91 -8.91 -4.54zM324.9 364.3l8.91 4.54 -4.54 8.91 -8.91 -4.54zM62.0 241.5l8.91 4.54 -4.54 8.91 -8.91 -4.54zM70.9 246.1l8.91 4.54 -4.54 8.91 -8.91 -4.54zM79.8 250.6l8.91 4.54 -4.54 8.91 -8.91 -4.54zM88.7 255.1l8.91 4.54 -4.54 8.91 -8.91 -4.54zM57.5 250.4l8.91 4.54 -4.54 8.91 -8.91 -4.54zM66.4 255.0l8.91 4.54 -4.54 8.91 -8.91 -4.54zM75.3 259.5l8.91 4.54 -4.54 8.91 -8.91 -4.54zM324.8 386.6l8.91 4.54 -4.54 8.91 -8.91 -4.54zM52.9 259.3l8.91 4.54 -4.54 8.91 -8.91 -4.54zM61.8 263.9l8.91 4.54 -4.54 8.91 -8.91 -4.54zM70.7 268.4l8.91 4.54 -4.54 8.91 -8.91 -4.54zM57.3 272.8l8.91 4.54 -4.54 8.91 -8.91 -4.54zM66.2 277.3l8.91 4.54 -4.54 8.91 -8.91 -4.54zM52.8 281.7l8.91 4.54 -4.54 8.91 -8.91 -4.54zM341.9 485.1l8.91 4.54 -4.54 8.91 -8.91 -4.54zM221.5 435.0l8.91 4.54 -4.54 8.91 -8.91 -4.54zM172.3 443.6l8.91 4.54 -4.54 8.91 -8.91 -4.54zM123.0 452.2l8.91 4.54 -4.54 8.91 -8.91 -4.54zM238.8 511.2l8.91 4.54 -4.54 8.91 -8.91 -4.54zM225.4 515.6l8.91 4.54 -4.54 8.91 -8.91 -4.54zM211.9 519.9l8.91 4.54 -4.54 8.91 -8.91 -4.54zM198.5 524.3l8.91 4.54 -4.54 8.91 -8.91 -4.54zM193.6 577.9l8.91 4.54 -4.54 8.91 -8.91 -4.54zM180.2 582.3l8.91 4.54 -4.54 8.91 -8.91 -4.54zM104.3 554.9l8.91 4.54 -4.54 8.91 -8.91 -4.54zM166.7 586.7l8.91 4.54 -4.54 8.91 -8.91 -4.54zM90.9 559.3l8.91 4.54 -4.54 8.91 -8.91 -4.54zM153.3 591.0l8.91 4.54 -4.54 8.91 -8.91 -4.54zM77.4 563.6l8.91 4.54 -4.54 8.91 -8.91 -4.54zM139.8 595.4l8.91 4.54 -4.54 8.91 -8.91 -4.54zM64.0 568.0l8.91 4.54 -4.54 8.91 -8.91 -4.54zM90.6 604.0l8.91 4.54 -4.54 8.91 -8.91 -4.54zM77.1 608.4l8.91 4.54 -4.54 8.91 -8.91 -4.54zM54.7 608.2l8.91 4.54 -4.54 8.91 -8.91 -4.54zM63.7 612.7l8.91 4.54 -4.54 8.91 -8.91 -4.54z"/>
<path fill="#fff2e1" stroke="#fff2e1" stroke-width="0.6" d="M406.7 203.9l8.91 4.54 -4.54 8.91 -8.91 -4.54zM415.6 208.4l8.91 4.54 -4.54 8.91 -8.91 -4.54zM357.6 190.1l8.91 4.54 -4.54 8.91 -8.91 -4.54zM366.5 194.6l8.91 4.54 -4.54 8.91 -8.91 -4.54zM384.3 203.7l8.91 4.54 -4.54 8.91 -8.91 -4.54zM424.3 235.3l8.91 4.54 -4.54 8.91 -8.91 -4.54zM312.8 189.8l8.91 4.54 -4.54 8.91 -8.91 -4.54zM419.8 244.2l8.91 4.54 -4.54 8.91 -8.91 -4.54zM281.4 207.4l8.91 4.54 -4.54 8.91 -8.91 -4.54zM388.3 261.9l8.91 4.54 -4.54 8.91 -8.91 -4.54zM263.4 220.7l8.91 4.54 -4.54 8.91 -8.91 -4.54zM250.0 225.1l8.91 4.54 -4.54 8.91 -8.91 -4.54zM227.6 224.9l8.91 4.54 -4.54 8.91 -8.91 -4.54zM236.5 229.4l8.91 4.54 -4.54 8.91 -8.91 -4.54zM214.2 229.3l8.91 4.54 -4.54 8.91 -8.91 -4.54zM223.1 233.8l8.91 4.54 -4.54 8.91 -8.91 -4.54zM191.8 229.1l8.91 4.54 -4.54 8.91 -8.91 -4.54zM200.7 233.6l8.91 4.54 -4.54 8.91 -8.91 -4.54zM209.6 238.2l8.91 4.54 -4.54 8.91 -8.91 -4.54zM352.2 310.8l8.91 4.54 -4.54 8.91 -8.91 -4.54zM178.3 233.5l8.91 4.54 -4.54 8.91 -8.91 -4.54zM187.3 238.0l8.91 4.54 -4.54 8.91 -8.91 -4.54zM196.2 242.5l8.91 4.54 -4.54 8.91 -8.91 -4.54zM164.9 237.8l8.91 4.54 -4.54 8.91 -8.91 -4.54zM173.8 242.4l8.91 4.54 -4.54 8.91 -8.91 -4.54zM182.7 246.9l8.91 4.54 -4.54 8.91 -8.91 -4.54zM325.3 319.5l8.91 4.54 -4.54 8.91 -8.91 -4.54zM151.4 242.2l8.91 4.54 -4.54 8.91 -8.91 -4.54zM160.4 246.7l8.91 4.54 -4.54 8.91 -8.91 -4.54zM169.3 251.3l8.91 4.54 -4.54 8.91 -8.91 -4.54zM129.1 242.0l8.91 4.54 -4.54 8.91 -8.91 -4.54zM138.0 246.6l8.91 4.54 -4.54 8.91 -8.91 -4.54zM146.9 251.1l8.91 4.54 -4.54 8.91 -8.91 -4.54zM155.8 255.6l8.91 4.54 -4.54 8.91 -8.91 -4.54zM164.7 260.2l8.91 4.54 -4.54 8.91 -8.91 -4.54zM316.2 337.4l8.91 4.54 -4.54 8.91 -8.91 -4.54zM115.6 246.4l8.91 4.54 -4.54 8.91 -8.91 -4.54zM124.5 250.9l8.91 4.54 -4.54 8.91 -8.91 -4.54zM133.5 255.5l8.91 4.54 -4.54 8.91 -8.91 -4.54zM142.4 260.0l8.91 4.54 -4.54 8.91 -8.91 -4.54zM151.3 264.6l8.91 4.54 -4.54 8.91 -8.91 -4.54zM160.2 269.1l8.91 4.54 -4.54 8.91 -8.91 -4.54zM311.7 346.3l8.91 4.54 -4.54 8.91 -8.91 -4.54zM111.1 255.3l8.91 4.54 -4.54 8.91 -8.91 -4.54zM120.0 259.8l8.91 4.54 -4.54 8.91 -8.91 -4.54zM128.9 264.4l8.91 4.54 -4.54 8.91 -8.91 -4.54zM137.8 268.9l8.91 4.54 -4.54 8.91 -8.91 -4.54zM146.7 273.5l8.91 4.54 -4.54 8.91 -8.91 -4.54zM155.6 278.0l8.91 4.54 -4.54 8.91 -8.91 -4.54zM97.6 259.7l8.91 4.54 -4.54 8.91 -8.91 -4.54zM106.6 264.2l8.91 4.54 -4.54 8.91 -8.91 -4.54zM115.5 268.8l8.91 4.54 -4.54 8.91 -8.91 -4.54zM124.4 273.3l8.91 4.54 -4.54 8.91 -8.91 -4.54zM133.3 277.8l8.91 4.54 -4.54 8.91 -8.91 -4.54zM142.2 282.4l8.91 4.54 -4.54 8.91 -8.91 -4.54zM84.2 264.0l8.91 4.54 -4.54 8.91 -8.91 -4.54zM93.1 268.6l8.91 4.54 -4.54 8.91 -8.91 -4.54zM102.0 273.1l8.91 4.54 -4.54 8.91 -8.91 -4.54zM110.9 277.7l8.91 4.54 -4.54 8.91 -8.91 -4.54zM119.8 282.2l8.91 4.54 -4.54 8.91 -8.91 -4.54zM128.7 286.7l8.91 4.54 -4.54 8.91 -8.91 -4.54zM137.7 291.3l8.91 4.54 -4.54 8.91 -8.91 -4.54zM79.7 273.0l8.91 4.54 -4.54 8.91 -8.91 -4.54zM88.6 277.5l8.91 4.54 -4.54 8.91 -8.91 -4.54zM97.5 282.0l8.91 4.54 -4.54 8.91 -8.91 -4.54zM106.4 286.6l8.91 4.54 -4.54 8.91 -8.91 -4.54zM115.3 291.1l8.91 4.54 -4.54 8.91 -8.91 -4.54zM124.2 295.7l8.91 4.54 -4.54 8.91 -8.91 -4.54zM75.1 281.9l8.91 4.54 -4.54 8.91 -8.91 -4.54zM84.0 286.4l8.91 4.54 -4.54 8.91 -8.91 -4.54zM92.9 290.9l8.91 4.54 -4.54 8.91 -8.91 -4.54zM101.8 295.5l8.91 4.54 -4.54 8.91 -8.91 -4.54zM110.8 300.0l8.91 4.54 -4.54 8.91 -8.91 -4.54zM61.7 286.2l8.91 4.54 -4.54 8.91 -8.91 -4.54zM70.6 290.8l8.91 4.54 -4.54 8.91 -8.91 -4.54zM79.5 295.3l8.91 4.54 -4.54 8.91 -8.91 -4.54zM88.4 299.9l8.91 4.54 -4.54 8.91 -8.91 -4.54zM97.3 304.4l8.91 4.54 -4.54 8.91 -8.91 -4.54zM57.1 295.1l8.91 4.54 -4.54 8.91 -8.91 -4.54zM66.0 299.7l8.91 4.54 -4.54 8.91 -8.91 -4.54zM74.9 304.2l8.91 4.54 -4.54 8.91 -8.91 -4.54zM83.9 308.8l8.91 4.54 -4.54 8.91 -8.91 -4.54zM52.6 304.1l8.91 4.54 -4.54 8.91 -8.91 -4.54zM61.5 308.6l8.91 4.54 -4.54 8.91 -8.91 -4.54zM70.4 313.1l8.91 4.54 -4.54 8.91 -8.91 -4.54zM270.8 426.5l8.91 4.54 -4.54 8.91 -8.91 -4.54zM368.6 498.8l8.91 4.54 -4.54 8.91 -8.91 -4.54zM328.5 489.5l8.91 4.54 -4.54 8.91 -8.91 -4.54zM315.0 493.9l8.91 4.54 -4.54 8.91 -8.91 -4.54zM355.0 525.5l8.91 4.54 -4.54 8.91 -8.91 -4.54zM341.6 529.9l8.91 4.54 -4.54 8.91 -8.91 -4.54zM328.1 534.2l8.91 4.54 -4.54 8.91 -8.91 -4.54zM136.5 447.8l8.91 4.54 -4.54 8.91 -8.91 -4.54zM314.7 538.6l8.91 4.54 -4.54 8.91 -8.91 -4.54zM301.2 543.0l8.91 4.54 -4.54 8.91 -8.91 -4.54zM488.3 638.3l8.91 4.54 -4.54 8.91 -8.91 -4.54zM287.8 547.3l8.91 4.54 -4.54 8.91 -8.91 -4.54zM474.9 642.7l8.91 4.54 -4.54 8.91 -8.91 -4.54zM274.3 551.7l8.91 4.54 -4.54 8.91 -8.91 -4.54zM260.9 556.1l8.91 4.54 -4.54 8.91 -8.91 -4.54zM185.0 528.7l8.91 4.54 -4.54 8.91 -8.91 -4.54zM247.4 560.5l8.91 4.54 -4.54 8.91 -8.91 -4.54zM171.6 533.0l8.91 4.54 -4.54 8.91 -8.91 -4.54zM234.0 564.8l8.91 4.54 -4.54 8.91 -8.91 -4.54zM60.1 487.5l8.91 4.54 -4.54 8.91 -8.91 -4.54zM158.1 537.4l8.91 4.54 -4.54 8.91 -8.91 -4.54zM220.5 569.2l8.91 4.54 -4.54 8.91 -8.91 -4.54zM144.7 541.8l8.91 4.54 -4.54 8.91 -8.91 -4.54zM207.1 573.6l8.91 4.54 -4.54 8.91 -8.91 -4.54zM131.2 546.2l8.91 4.54 -4.54 8.91 -8.91 -4.54zM117.8 550.5l8.91 4.54 -4.54 8.91 -8.91 -4.54zM72.9 572.5l8.91 4.54 -4.54 8.91 -8.91 -4.54zM117.5 595.2l8.91 4.54 -4.54 8.91 -8.91 -4.54zM59.5 576.9l8.91 4.54 -4.54 8.91 -8.91 -4.54zM104.0 599.6l8.91 4.54 -4.54 8.91 -8.91 -4.54zM68.2 603.8l8.91 4.54 -4.54 8.91 -8.91 -4.54z"/>
<path fill="#fff2e0" stroke="#fff2e0" stroke-width="0.6" d="M335.2 189.9l8.91 4.54 -4.54 8.91 -8.91 -4.54zM294.9 203.0l8.91 4.54 -4.54 8.91 -8.91 -4.54zM276.9 216.3l8.91 4.54 -4.54 8.91 -8.91 -4.54zM272.3 225.2l8.91 4.54 -4.54 8.91 -8.91 -4.54zM258.9 229.6l8.91 4.54 -4.54 8.91 -8.91 -4.54zM245.4 234.0l8.91 4.54 -4.54 8.91 -8.91 -4.54zM254.3 238.5l8.91 4.54 -4.54 8.91 -8.91 -4.54zM232.0 238.3l8.91 4.54 -4.54 8.91 -8.91 -4.54zM240.9 242.9l8.91 4.54 -4.54 8.91 -8.91 -4.54zM356.7 301.9l8.91 4.54 -4.54 8.91 -8.91 -4.54zM218.5 242.7l8.91 4.54 -4.54 8.91 -8.91 -4.54zM227.4 247.2l8.91 4.54 -4.54 8.91 -8.91 -4.54zM236.3 251.8l8.91 4.54 -4.54 8.91 -8.91 -4.54zM205.1 247.1l8.91 4.54 -4.54 8.91 -8.91 -4.54zM214.0 251.6l8.91 4.54 -4.54 8.91 -8.91 -4.54zM222.9 256.2l8.91 4.54 -4.54 8.91 -8.91 -4.54zM338.7 315.2l8.91 4.54 -4.54 8.91 -8.91 -4.54zM191.6 251.4l8.91 4.54 -4.54 8.91 -8.91 -4.54zM200.5 256.0l8.91 4.54 -4.54 8.91 -8.91 -4.54zM209.4 260.5l8.91 4.54 -4.54 8.91 -8.91 -4.54zM218.4 265.1l8.91 4.54 -4.54 8.91 -8.91 -4.54zM178.2 255.8l8.91 4.54 -4.54 8.91 -8.91 -4.54zM187.1 260.4l8.91 4.54 -4.54 8.91 -8.91 -4.54zM196.0 264.9l8.91 4.54 -4.54 8.91 -8.91 -4.54zM204.9 269.4l8.91 4.54 -4.54 8.91 -8.91 -4.54zM173.6 264.7l8.91 4.54 -4.54 8.91 -8.91 -4.54zM182.5 269.3l8.91 4.54 -4.54 8.91 -8.91 -4.54zM191.5 273.8l8.91 4.54 -4.54 8.91 -8.91 -4.54zM200.4 278.3l8.91 4.54 -4.54 8.91 -8.91 -4.54zM169.1 273.6l8.91 4.54 -4.54 8.91 -8.91 -4.54zM178.0 278.2l8.91 4.54 -4.54 8.91 -8.91 -4.54zM186.9 282.7l8.91 4.54 -4.54 8.91 -8.91 -4.54zM164.6 282.5l8.91 4.54 -4.54 8.91 -8.91 -4.54zM173.5 287.1l8.91 4.54 -4.54 8.91 -8.91 -4.54zM316.0 359.7l8.91 4.54 -4.54 8.91 -8.91 -4.54zM151.1 286.9l8.91 4.54 -4.54 8.91 -8.91 -4.54zM160.0 291.5l8.91 4.54 -4.54 8.91 -8.91 -4.54zM146.6 295.8l8.91 4.54 -4.54 8.91 -8.91 -4.54zM133.1 300.2l8.91 4.54 -4.54 8.91 -8.91 -4.54zM142.0 304.7l8.91 4.54 -4.54 8.91 -8.91 -4.54zM119.7 304.6l8.91 4.54 -4.54 8.91 -8.91 -4.54zM128.6 309.1l8.91 4.54 -4.54 8.91 -8.91 -4.54zM106.2 308.9l8.91 4.54 -4.54 8.91 -8.91 -4.54zM115.1 313.5l8.91 4.54 -4.54 8.91 -8.91 -4.54zM92.8 313.3l8.91 4.54 -4.54 8.91 -8.91 -4.54zM101.7 317.8l8.91 4.54 -4.54 8.91 -8.91 -4.54zM297.7 417.7l8.91 4.54 -4.54 8.91 -8.91 -4.54zM79.3 317.7l8.91 4.54 -4.54 8.91 -8.91 -4.54zM88.2 322.2l8.91 4.54 -4.54 8.91 -8.91 -4.54zM57.0 317.5l8.91 4.54 -4.54 8.91 -8.91 -4.54zM65.9 322.0l8.91 4.54 -4.54 8.91 -8.91 -4.54zM74.8 326.6l8.91 4.54 -4.54 8.91 -8.91 -4.54zM52.4 326.4l8.91 4.54 -4.54 8.91 -8.91 -4.54zM235.0 430.7l8.91 4.54 -4.54 8.91 -8.91 -4.54zM185.7 439.2l8.91 4.54 -4.54 8.91 -8.91 -4.54zM301.6 498.3l8.91 4.54 -4.54 8.91 -8.91 -4.54zM288.1 502.6l8.91 4.54 -4.54 8.91 -8.91 -4.54zM100.7 452.0l8.91 4.54 -4.54 8.91 -8.91 -4.54zM87.2 456.4l8.91 4.54 -4.54 8.91 -8.91 -4.54zM64.7 478.6l8.91 4.54 -4.54 8.91 -8.91 -4.54zM113.3 559.4l8.91 4.54 -4.54 8.91 -8.91 -4.54zM157.8 582.1l8.91 4.54 -4.54 8.91 -8.91 -4.54zM99.8 563.8l8.91 4.54 -4.54 8.91 -8.91 -4.54zM144.4 586.5l8.91 4.54 -4.54 8.91 -8.91 -4.54zM86.4 568.2l8.91 4.54 -4.54 8.91 -8.91 -4.54zM130.9 590.9l8.91 4.54 -4.54 8.91 -8.91 -4.54zM81.8 577.1l8.91 4.54 -4.54 8.91 -8.91 -4.54zM68.4 581.5l8.91 4.54 -4.54 8.91 -8.91 -4.54zM95.1 595.1l8.91 4.54 -4.54 8.91 -8.91 -4.54zM54.9 585.8l8.91 4.54 -4.54 8.91 -8.91 -4.54zM63.8 590.4l8.91 4.54 -4.54 8.91 -8.91 -4.54zM72.7 594.9l8.91 4.54 -4.54 8.91 -8.91 -4.54zM81.6 599.4l8.91 4.54 -4.54 8.91 -8.91 -4.54zM59.3 599.3l8.91 4.54 -4.54 8.91 -8.91 -4.54z"/>
<path fill="#fff1de" stroke="#fff1de" stroke-width="0.6" d="M321.8 194.3l8.91 4.54 -4.54 8.91 -8.91 -4.54zM308.3 198.7l8.91 4.54 -4.54 8.91 -8.91 -4.54zM290.3 211.9l8.91 4.54 -4.54 8.91 -8.91 -4.54zM267.8 234.1l8.91 4.54 -4.54 8.91 -8.91 -4.54zM365.8 284.1l8.91 4.54 -4.54 8.91 -8.91 -4.54zM263.2 243.0l8.91 4.54 -4.54 8.91 -8.91 -4.54zM361.3 293.0l8.91 4.54 -4.54 8.91 -8.91 -4.54zM249.8 247.4l8.91 4.54 -4.54 8.91 -8.91 -4.54zM258.7 252.0l8.91 4.54 -4.54 8.91 -8.91 -4.54zM245.3 256.3l8.91 4.54 -4.54 8.91 -8.91 -4.54zM231.8 260.7l8.91 4.54 -4.54 8.91 -8.91 -4.54zM240.7 265.2l8.91 4.54 -4.54 8.91 -8.91 -4.54zM227.3 269.6l8.91 4.54 -4.54 8.91 -8.91 -4.54zM213.8 274.0l8.91 4.54 -4.54 8.91 -8.91 -4.54zM311.8 323.9l8.91 4.54 -4.54 8.91 -8.91 -4.54zM209.3 282.9l8.91 4.54 -4.54 8.91 -8.91 -4.54zM195.8 287.3l8.91 4.54 -4.54 8.91 -8.91 -4.54zM182.4 291.6l8.91 4.54 -4.54 8.91 -8.91 -4.54zM307.1 355.2l8.91 4.54 -4.54 8.91 -8.91 -4.54zM168.9 296.0l8.91 4.54 -4.54 8.91 -8.91 -4.54zM155.5 300.4l8.91 4.54 -4.54 8.91 -8.91 -4.54zM150.9 309.3l8.91 4.54 -4.54 8.91 -8.91 -4.54zM137.5 313.6l8.91 4.54 -4.54 8.91 -8.91 -4.54zM124.0 318.0l8.91 4.54 -4.54 8.91 -8.91 -4.54zM110.6 322.4l8.91 4.54 -4.54 8.91 -8.91 -4.54zM119.5 326.9l8.91 4.54 -4.54 8.91 -8.91 -4.54zM97.1 326.8l8.91 4.54 -4.54 8.91 -8.91 -4.54zM106.0 331.3l8.91 4.54 -4.54 8.91 -8.91 -4.54zM284.2 422.1l8.91 4.54 -4.54 8.91 -8.91 -4.54zM83.7 331.1l8.91 4.54 -4.54 8.91 -8.91 -4.54zM61.3 331.0l8.91 4.54 -4.54 8.91 -8.91 -4.54zM70.2 335.5l8.91 4.54 -4.54 8.91 -8.91 -4.54zM199.2 434.9l8.91 4.54 -4.54 8.91 -8.91 -4.54zM149.9 443.4l8.91 4.54 -4.54 8.91 -8.91 -4.54zM274.7 507.0l8.91 4.54 -4.54 8.91 -8.91 -4.54zM261.2 511.4l8.91 4.54 -4.54 8.91 -8.91 -4.54zM247.8 515.7l8.91 4.54 -4.54 8.91 -8.91 -4.54zM234.3 520.1l8.91 4.54 -4.54 8.91 -8.91 -4.54zM483.8 647.2l8.91 4.54 -4.54 8.91 -8.91 -4.54zM220.9 524.5l8.91 4.54 -4.54 8.91 -8.91 -4.54zM207.4 528.8l8.91 4.54 -4.54 8.91 -8.91 -4.54zM69.2 469.7l8.91 4.54 -4.54 8.91 -8.91 -4.54zM194.0 533.2l8.91 4.54 -4.54 8.91 -8.91 -4.54zM180.5 537.6l8.91 4.54 -4.54 8.91 -8.91 -4.54zM167.1 542.0l8.91 4.54 -4.54 8.91 -8.91 -4.54zM153.6 546.3l8.91 4.54 -4.54 8.91 -8.91 -4.54zM198.2 569.0l8.91 4.54 -4.54 8.91 -8.91 -4.54zM140.2 550.7l8.91 4.54 -4.54 8.91 -8.91 -4.54zM184.7 573.4l8.91 4.54 -4.54 8.91 -8.91 -4.54zM126.7 555.1l8.91 4.54 -4.54 8.91 -8.91 -4.54zM171.3 577.8l8.91 4.54 -4.54 8.91 -8.91 -4.54zM108.7 568.3l8.91 4.54 -4.54 8.91 -8.91 -4.54zM95.3 572.7l8.91 4.54 -4.54 8.91 -8.91 -4.54zM122.0 586.3l8.91 4.54 -4.54 8.91 -8.91 -4.54zM90.7 581.6l8.91 4.54 -4.54 8.91 -8.91 -4.54zM99.6 586.2l8.91 4.54 -4.54 8.91 -8.91 -4.54zM108.5 590.7l8.91 4.54 -4.54 8.91 -8.91 -4.54zM77.3 586.0l8.91 4.54 -4.54 8.91 -8.91 -4.54zM86.2 590.5l8.91 4.54 -4.54 8.91 -8.91 -4.54z"/>
<path fill="#fff1dd" stroke="#fff1dd" stroke-width="0.6" d="M344.1 194.5l8.91 4.54 -4.54 8.91 -8.91 -4.54zM303.8 207.6l8.91 4.54 -4.54 8.91 -8.91 -4.54zM285.8 220.9l8.91 4.54 -4.54 8.91 -8.91 -4.54zM374.9 266.3l8.91 4.54 -4.54 8.91 -8.91 -4.54zM281.2 229.8l8.91 4.54 -4.54 8.91 -8.91 -4.54zM370.3 275.2l8.91 4.54 -4.54 8.91 -8.91 -4.54zM276.7 238.7l8.91 4.54 -4.54 8.91 -8.91 -4.54zM272.2 247.6l8.91 4.54 -4.54 8.91 -8.91 -4.54zM254.2 260.9l8.91 4.54 -4.54 8.91 -8.91 -4.54zM236.2 274.1l8.91 4.54 -4.54 8.91 -8.91 -4.54zM316.4 315.0l8.91 4.54 -4.54 8.91 -8.91 -4.54zM222.7 278.5l8.91 4.54 -4.54 8.91 -8.91 -4.54zM307.3 332.8l8.91 4.54 -4.54 8.91 -8.91 -4.54zM204.7 291.8l8.91 4.54 -4.54 8.91 -8.91 -4.54zM302.7 341.7l8.91 4.54 -4.54 8.91 -8.91 -4.54zM191.3 296.2l8.91 4.54 -4.54 8.91 -8.91 -4.54zM298.2 350.6l8.91 4.54 -4.54 8.91 -8.91 -4.54zM177.8 300.5l8.91 4.54 -4.54 8.91 -8.91 -4.54zM164.4 304.9l8.91 4.54 -4.54 8.91 -8.91 -4.54zM146.4 318.2l8.91 4.54 -4.54 8.91 -8.91 -4.54zM132.9 322.6l8.91 4.54 -4.54 8.91 -8.91 -4.54zM128.4 331.5l8.91 4.54 -4.54 8.91 -8.91 -4.54zM115.0 335.8l8.91 4.54 -4.54 8.91 -8.91 -4.54zM92.6 335.7l8.91 4.54 -4.54 8.91 -8.91 -4.54zM101.5 340.2l8.91 4.54 -4.54 8.91 -8.91 -4.54zM79.1 340.0l8.91 4.54 -4.54 8.91 -8.91 -4.54zM248.4 426.3l8.91 4.54 -4.54 8.91 -8.91 -4.54zM56.8 339.9l8.91 4.54 -4.54 8.91 -8.91 -4.54zM65.7 344.4l8.91 4.54 -4.54 8.91 -8.91 -4.54zM114.1 447.6l8.91 4.54 -4.54 8.91 -8.91 -4.54zM238.5 555.9l8.91 4.54 -4.54 8.91 -8.91 -4.54zM55.8 474.0l8.91 4.54 -4.54 8.91 -8.91 -4.54zM225.1 560.3l8.91 4.54 -4.54 8.91 -8.91 -4.54zM211.6 564.7l8.91 4.54 -4.54 8.91 -8.91 -4.54zM135.6 559.6l8.91 4.54 -4.54 8.91 -8.91 -4.54zM122.2 564.0l8.91 4.54 -4.54 8.91 -8.91 -4.54zM148.9 577.6l8.91 4.54 -4.54 8.91 -8.91 -4.54zM117.6 572.9l8.91 4.54 -4.54 8.91 -8.91 -4.54zM126.5 577.4l8.91 4.54 -4.54 8.91 -8.91 -4.54zM135.4 582.0l8.91 4.54 -4.54 8.91 -8.91 -4.54zM104.2 577.3l8.91 4.54 -4.54 8.91 -8.91 -4.54zM113.1 581.8l8.91 4.54 -4.54 8.91 -8.91 -4.54z"/>
<path fill="#fff0dc" stroke="#fff0dc" stroke-width="0.6" d="M353.0 199.0l8.91 4.54 -4.54 8.91 -8.91 -4.54zM361.9 203.5l8.91 4.54 -4.54 8.91 -8.91 -4.54zM370.8 208.1l8.91 4.54 -4.54 8.91 -8.91 -4.54zM392.9 253.0l8.91 4.54 -4.54 8.91 -8.91 -4.54zM379.4 257.3l8.91 4.54 -4.54 8.91 -8.91 -4.54zM267.6 256.5l8.91 4.54 -4.54 8.91 -8.91 -4.54zM249.6 269.8l8.91 4.54 -4.54 8.91 -8.91 -4.54zM329.8 310.6l8.91 4.54 -4.54 8.91 -8.91 -4.54zM218.2 287.4l8.91 4.54 -4.54 8.91 -8.91 -4.54zM186.7 305.1l8.91 4.54 -4.54 8.91 -8.91 -4.54zM173.3 309.4l8.91 4.54 -4.54 8.91 -8.91 -4.54zM159.8 313.8l8.91 4.54 -4.54 8.91 -8.91 -4.54zM141.9 327.1l8.91 4.54 -4.54 8.91 -8.91 -4.54zM137.3 336.0l8.91 4.54 -4.54 8.91 -8.91 -4.54zM123.9 340.4l8.91 4.54 -4.54 8.91 -8.91 -4.54zM110.4 344.7l8.91 4.54 -4.54 8.91 -8.91 -4.54zM88.1 344.6l8.91 4.54 -4.54 8.91 -8.91 -4.54zM97.0 349.1l8.91 4.54 -4.54 8.91 -8.91 -4.54zM74.6 348.9l8.91 4.54 -4.54 8.91 -8.91 -4.54zM350.8 489.7l8.91 4.54 -4.54 8.91 -8.91 -4.54zM359.7 494.2l8.91 4.54 -4.54 8.91 -8.91 -4.54zM359.6 516.6l8.91 4.54 -4.54 8.91 -8.91 -4.54zM163.4 439.1l8.91 4.54 -4.54 8.91 -8.91 -4.54zM292.3 538.4l8.91 4.54 -4.54 8.91 -8.91 -4.54zM278.9 542.8l8.91 4.54 -4.54 8.91 -8.91 -4.54zM265.4 547.2l8.91 4.54 -4.54 8.91 -8.91 -4.54zM73.8 460.7l8.91 4.54 -4.54 8.91 -8.91 -4.54zM252.0 551.5l8.91 4.54 -4.54 8.91 -8.91 -4.54zM176.0 546.5l8.91 4.54 -4.54 8.91 -8.91 -4.54zM162.5 550.9l8.91 4.54 -4.54 8.91 -8.91 -4.54zM149.1 555.2l8.91 4.54 -4.54 8.91 -8.91 -4.54zM175.8 568.9l8.91 4.54 -4.54 8.91 -8.91 -4.54zM144.5 564.1l8.91 4.54 -4.54 8.91 -8.91 -4.54zM162.3 573.2l8.91 4.54 -4.54 8.91 -8.91 -4.54zM131.1 568.5l8.91 4.54 -4.54 8.91 -8.91 -4.54zM140.0 573.1l8.91 4.54 -4.54 8.91 -8.91 -4.54z"/>
<path fill="#fff0db" stroke="#fff0db" stroke-width="0.6" d="M317.2 203.2l8.91 4.54 -4.54 8.91 -8.91 -4.54zM299.2 216.5l8.91 4.54 -4.54 8.91 -8.91 -4.54zM294.7 225.4l8.91 4.54 -4.54 8.91 -8.91 -4.54zM290.1 234.3l8.91 4.54 -4.54 8.91 -8.91 -4.54zM285.6 243.2l8.91 4.54 -4.54 8.91 -8.91 -4.54zM263.1 265.4l8.91 4.54 -4.54 8.91 -8.91 -4.54zM245.1 278.7l8.91 4.54 -4.54 8.91 -8.91 -4.54zM231.6 283.1l8.91 4.54 -4.54 8.91 -8.91 -4.54zM213.6 296.3l8.91 4.54 -4.54 8.91 -8.91 -4.54zM200.2 300.7l8.91 4.54 -4.54 8.91 -8.91 -4.54zM289.3 346.1l8.91 4.54 -4.54 8.91 -8.91 -4.54zM320.4 373.2l8.91 4.54 -4.54 8.91 -8.91 -4.54zM155.3 322.7l8.91 4.54 -4.54 8.91 -8.91 -4.54zM132.8 344.9l8.91 4.54 -4.54 8.91 -8.91 -4.54zM119.3 349.3l8.91 4.54 -4.54 8.91 -8.91 -4.54zM105.9 353.7l8.91 4.54 -4.54 8.91 -8.91 -4.54zM83.5 353.5l8.91 4.54 -4.54 8.91 -8.91 -4.54zM61.2 353.3l8.91 4.54 -4.54 8.91 -8.91 -4.54zM212.6 430.5l8.91 4.54 -4.54 8.91 -8.91 -4.54zM337.4 494.1l8.91 4.54 -4.54 8.91 -8.91 -4.54zM364.1 507.7l8.91 4.54 -4.54 8.91 -8.91 -4.54zM323.9 498.4l8.91 4.54 -4.54 8.91 -8.91 -4.54zM346.1 521.0l8.91 4.54 -4.54 8.91 -8.91 -4.54zM332.7 525.3l8.91 4.54 -4.54 8.91 -8.91 -4.54zM319.2 529.7l8.91 4.54 -4.54 8.91 -8.91 -4.54zM127.6 443.3l8.91 4.54 -4.54 8.91 -8.91 -4.54zM305.8 534.1l8.91 4.54 -4.54 8.91 -8.91 -4.54zM216.3 533.4l8.91 4.54 -4.54 8.91 -8.91 -4.54zM202.9 537.8l8.91 4.54 -4.54 8.91 -8.91 -4.54zM189.4 542.1l8.91 4.54 -4.54 8.91 -8.91 -4.54zM202.7 560.1l8.91 4.54 -4.54 8.91 -8.91 -4.54zM171.4 555.4l8.91 4.54 -4.54 8.91 -8.91 -4.54zM189.2 564.5l8.91 4.54 -4.54 8.91 -8.91 -4.54zM158.0 559.8l8.91 4.54 -4.54 8.91 -8.91 -4.54zM166.9 564.3l8.91 4.54 -4.54 8.91 -8.91 -4.54zM153.4 568.7l8.91 4.54 -4.54 8.91 -8.91 -4.54z"/>
<path fill="#feefda" stroke="#feefda" stroke-width="0.6" d="M419.9 221.9l8.91 4.54 -4.54 8.91 -8.91 -4.54zM379.8 212.6l8.91 4.54 -4.54 8.91 -8.91 -4.54zM281.1 252.1l8.91 4.54 -4.54 8.91 -8.91 -4.54zM343.3 306.3l8.91 4.54 -4.54 8.91 -8.91 -4.54zM227.1 292.0l8.91 4.54 -4.54 8.91 -8.91 -4.54zM298.4 328.3l8.91 4.54 -4.54 8.91 -8.91 -4.54zM293.8 337.2l8.91 4.54 -4.54 8.91 -8.91 -4.54zM275.8 350.5l8.91 4.54 -4.54 8.91 -8.91 -4.54zM284.8 355.0l8.91 4.54 -4.54 8.91 -8.91 -4.54zM182.2 314.0l8.91 4.54 -4.54 8.91 -8.91 -4.54zM168.8 318.4l8.91 4.54 -4.54 8.91 -8.91 -4.54zM150.8 331.6l8.91 4.54 -4.54 8.91 -8.91 -4.54zM302.2 408.8l8.91 4.54 -4.54 8.91 -8.91 -4.54zM146.2 340.5l8.91 4.54 -4.54 8.91 -8.91 -4.54zM128.2 353.8l8.91 4.54 -4.54 8.91 -8.91 -4.54zM92.4 358.0l8.91 4.54 -4.54 8.91 -8.91 -4.54zM70.1 357.9l8.91 4.54 -4.54 8.91 -8.91 -4.54zM176.8 434.7l8.91 4.54 -4.54 8.91 -8.91 -4.54zM310.5 502.8l8.91 4.54 -4.54 8.91 -8.91 -4.54zM297.0 507.2l8.91 4.54 -4.54 8.91 -8.91 -4.54zM283.6 511.5l8.91 4.54 -4.54 8.91 -8.91 -4.54zM270.1 515.9l8.91 4.54 -4.54 8.91 -8.91 -4.54zM256.7 520.3l8.91 4.54 -4.54 8.91 -8.91 -4.54zM91.7 447.5l8.91 4.54 -4.54 8.91 -8.91 -4.54zM243.2 524.6l8.91 4.54 -4.54 8.91 -8.91 -4.54zM229.8 529.0l8.91 4.54 -4.54 8.91 -8.91 -4.54zM60.3 465.1l8.91 4.54 -4.54 8.91 -8.91 -4.54zM229.6 551.4l8.91 4.54 -4.54 8.91 -8.91 -4.54zM216.1 555.7l8.91 4.54 -4.54 8.91 -8.91 -4.54zM184.9 551.0l8.91 4.54 -4.54 8.91 -8.91 -4.54zM193.8 555.6l8.91 4.54 -4.54 8.91 -8.91 -4.54zM180.3 559.9l8.91 4.54 -4.54 8.91 -8.91 -4.54z"/>
<path fill="#feefd9" stroke="#feefd9" stroke-width="0.6" d="M393.2 208.3l8.91 4.54 -4.54 8.91 -8.91 -4.54zM406.3 248.6l8.91 4.54 -4.54 8.91 -8.91 -4.54zM312.7 212.1l8.91 4.54 -4.54 8.91 -8.91 -4.54zM384.0 248.4l8.91 4.54 -4.54 8.91 -8.91 -4.54zM276.5 261.0l8.91 4.54 -4.54 8.91 -8.91 -4.54zM258.5 274.3l8.91 4.54 -4.54 8.91 -8.91 -4.54zM320.9 306.1l8.91 4.54 -4.54 8.91 -8.91 -4.54zM240.5 287.6l8.91 4.54 -4.54 8.91 -8.91 -4.54zM209.1 305.2l8.91 4.54 -4.54 8.91 -8.91 -4.54zM280.4 341.6l8.91 4.54 -4.54 8.91 -8.91 -4.54zM195.7 309.6l8.91 4.54 -4.54 8.91 -8.91 -4.54zM293.7 359.6l8.91 4.54 -4.54 8.91 -8.91 -4.54zM164.2 327.3l8.91 4.54 -4.54 8.91 -8.91 -4.54zM141.7 349.5l8.91 4.54 -4.54 8.91 -8.91 -4.54zM261.9 421.9l8.91 4.54 -4.54 8.91 -8.91 -4.54zM114.8 358.2l8.91 4.54 -4.54 8.91 -8.91 -4.54zM101.3 362.6l8.91 4.54 -4.54 8.91 -8.91 -4.54zM226.1 426.1l8.91 4.54 -4.54 8.91 -8.91 -4.54zM79.0 362.4l8.91 4.54 -4.54 8.91 -8.91 -4.54zM56.6 362.2l8.91 4.54 -4.54 8.91 -8.91 -4.54zM141.0 438.9l8.91 4.54 -4.54 8.91 -8.91 -4.54zM105.2 443.1l8.91 4.54 -4.54 8.91 -8.91 -4.54zM78.3 451.8l8.91 4.54 -4.54 8.91 -8.91 -4.54zM256.5 542.6l8.91 4.54 -4.54 8.91 -8.91 -4.54zM225.2 537.9l8.91 4.54 -4.54 8.91 -8.91 -4.54zM243.0 547.0l8.91 4.54 -4.54 8.91 -8.91 -4.54zM211.8 542.3l8.91 4.54 -4.54 8.91 -8.91 -4.54zM220.7 546.8l8.91 4.54 -4.54 8.91 -8.91 -4.54zM198.3 546.7l8.91 4.54 -4.54 8.91 -8.91 -4.54zM207.2 551.2l8.91 4.54 -4.54 8.91 -8.91 -4.54z"/>
<path fill="#feefd8" stroke="#feefd8" stroke-width="0.6" d="M330.7 198.8l8.91 4.54 -4.54 8.91 -8.91 -4.54zM302.9 319.4l8.91 4.54 -4.54 8.91 -8.91 -4.54zM222.6 300.9l8.91 4.54 -4.54 8.91 -8.91 -4.54zM284.9 332.7l8.91 4.54 -4.54 8.91 -8.91 -4.54zM266.9 345.9l8.91 4.54 -4.54 8.91 -8.91 -4.54zM262.4 354.8l8.91 4.54 -4.54 8.91 -8.91 -4.54zM271.3 359.4l8.91 4.54 -4.54 8.91 -8.91 -4.54zM177.7 322.9l8.91 4.54 -4.54 8.91 -8.91 -4.54zM306.8 399.9l8.91 4.54 -4.54 8.91 -8.91 -4.54zM159.7 336.2l8.91 4.54 -4.54 8.91 -8.91 -4.54zM137.1 358.4l8.91 4.54 -4.54 8.91 -8.91 -4.54zM123.7 362.7l8.91 4.54 -4.54 8.91 -8.91 -4.54zM87.9 366.9l8.91 4.54 -4.54 8.91 -8.91 -4.54zM65.5 366.8l8.91 4.54 -4.54 8.91 -8.91 -4.54zM283.4 533.9l8.91 4.54 -4.54 8.91 -8.91 -4.54zM252.1 529.2l8.91 4.54 -4.54 8.91 -8.91 -4.54zM269.9 538.3l8.91 4.54 -4.54 8.91 -8.91 -4.54zM238.7 533.6l8.91 4.54 -4.54 8.91 -8.91 -4.54zM234.1 542.5l8.91 4.54 -4.54 8.91 -8.91 -4.54z"/>
<path fill="#feeed7" stroke="#feeed7" stroke-width="0.6" d="M308.1 221.0l8.91 4.54 -4.54 8.91 -8.91 -4.54zM303.6 229.9l8.91 4.54 -4.54 8.91 -8.91 -4.54zM347.8 297.4l8.91 4.54 -4.54 8.91 -8.91 -4.54zM272.0 269.9l8.91 4.54 -4.54 8.91 -8.91 -4.54zM254.0 283.2l8.91 4.54 -4.54 8.91 -8.91 -4.54zM236.0 296.5l8.91 4.54 -4.54 8.91 -8.91 -4.54zM191.1 318.5l8.91 4.54 -4.54 8.91 -8.91 -4.54zM155.1 345.1l8.91 4.54 -4.54 8.91 -8.91 -4.54zM150.6 354.0l8.91 4.54 -4.54 8.91 -8.91 -4.54zM110.2 367.1l8.91 4.54 -4.54 8.91 -8.91 -4.54zM96.8 371.5l8.91 4.54 -4.54 8.91 -8.91 -4.54zM190.3 430.3l8.91 4.54 -4.54 8.91 -8.91 -4.54zM154.5 434.5l8.91 4.54 -4.54 8.91 -8.91 -4.54zM310.3 525.2l8.91 4.54 -4.54 8.91 -8.91 -4.54zM118.6 438.7l8.91 4.54 -4.54 8.91 -8.91 -4.54zM279.0 520.4l8.91 4.54 -4.54 8.91 -8.91 -4.54zM296.8 529.5l8.91 4.54 -4.54 8.91 -8.91 -4.54zM265.6 524.8l8.91 4.54 -4.54 8.91 -8.91 -4.54zM261.0 533.7l8.91 4.54 -4.54 8.91 -8.91 -4.54zM247.6 538.1l8.91 4.54 -4.54 8.91 -8.91 -4.54z"/>
<path fill="#feeed5" stroke="#feeed5" stroke-width="0.6" d="M299.1 238.8l8.91 4.54 -4.54 8.91 -8.91 -4.54zM294.5 247.8l8.91 4.54 -4.54 8.91 -8.91 -4.54zM352.3 288.4l8.91 4.54 -4.54 8.91 -8.91 -4.54zM307.5 310.5l8.91 4.54 -4.54 8.91 -8.91 -4.54zM289.5 323.7l8.91 4.54 -4.54 8.91 -8.91 -4.54zM218.0 309.8l8.91 4.54 -4.54 8.91 -8.91 -4.54zM271.5 337.0l8.91 4.54 -4.54 8.91 -8.91 -4.54zM204.6 314.2l8.91 4.54 -4.54 8.91 -8.91 -4.54zM173.1 331.8l8.91 4.54 -4.54 8.91 -8.91 -4.54zM146.1 362.9l8.91 4.54 -4.54 8.91 -8.91 -4.54zM132.6 367.3l8.91 4.54 -4.54 8.91 -8.91 -4.54zM119.2 371.6l8.91 4.54 -4.54 8.91 -8.91 -4.54zM346.3 498.6l8.91 4.54 -4.54 8.91 -8.91 -4.54zM74.4 371.3l8.91 4.54 -4.54 8.91 -8.91 -4.54zM332.8 503.0l8.91 4.54 -4.54 8.91 -8.91 -4.54zM319.4 507.3l8.91 4.54 -4.54 8.91 -8.91 -4.54zM337.2 516.4l8.91 4.54 -4.54 8.91 -8.91 -4.54zM305.9 511.7l8.91 4.54 -4.54 8.91 -8.91 -4.54zM323.7 520.8l8.91 4.54 -4.54 8.91 -8.91 -4.54zM292.5 516.1l8.91 4.54 -4.54 8.91 -8.91 -4.54zM287.9 525.0l8.91 4.54 -4.54 8.91 -8.91 -4.54zM274.5 529.4l8.91 4.54 -4.54 8.91 -8.91 -4.54zM64.8 456.2l8.91 4.54 -4.54 8.91 -8.91 -4.54z"/>
<path fill="#feedd4" stroke="#feedd4" stroke-width="0.6" d="M356.9 279.5l8.91 4.54 -4.54 8.91 -8.91 -4.54zM334.4 301.7l8.91 4.54 -4.54 8.91 -8.91 -4.54zM267.4 278.9l8.91 4.54 -4.54 8.91 -8.91 -4.54zM249.5 292.1l8.91 4.54 -4.54 8.91 -8.91 -4.54zM276.0 328.1l8.91 4.54 -4.54 8.91 -8.91 -4.54zM302.6 364.1l8.91 4.54 -4.54 8.91 -8.91 -4.54zM253.5 350.3l8.91 4.54 -4.54 8.91 -8.91 -4.54zM280.2 363.9l8.91 4.54 -4.54 8.91 -8.91 -4.54zM186.6 327.4l8.91 4.54 -4.54 8.91 -8.91 -4.54zM248.9 359.2l8.91 4.54 -4.54 8.91 -8.91 -4.54zM257.9 363.8l8.91 4.54 -4.54 8.91 -8.91 -4.54zM168.6 340.7l8.91 4.54 -4.54 8.91 -8.91 -4.54zM164.0 349.6l8.91 4.54 -4.54 8.91 -8.91 -4.54zM239.5 421.8l8.91 4.54 -4.54 8.91 -8.91 -4.54zM105.7 376.0l8.91 4.54 -4.54 8.91 -8.91 -4.54zM355.2 503.1l8.91 4.54 -4.54 8.91 -8.91 -4.54zM83.3 375.8l8.91 4.54 -4.54 8.91 -8.91 -4.54zM350.6 512.0l8.91 4.54 -4.54 8.91 -8.91 -4.54zM301.4 520.6l8.91 4.54 -4.54 8.91 -8.91 -4.54zM82.8 442.9l8.91 4.54 -4.54 8.91 -8.91 -4.54z"/>
<path fill="#feedd3" stroke="#feedd3" stroke-width="0.6" d="M290.0 256.7l8.91 4.54 -4.54 8.91 -8.91 -4.54zM231.5 305.4l8.91 4.54 -4.54 8.91 -8.91 -4.54zM258.0 341.4l8.91 4.54 -4.54 8.91 -8.91 -4.54zM311.5 368.6l8.91 4.54 -4.54 8.91 -8.91 -4.54zM200.0 323.1l8.91 4.54 -4.54 8.91 -8.91 -4.54zM315.9 382.1l8.91 4.54 -4.54 8.91 -8.91 -4.54zM159.5 358.5l8.91 4.54 -4.54 8.91 -8.91 -4.54zM275.3 417.6l8.91 4.54 -4.54 8.91 -8.91 -4.54zM141.5 371.8l8.91 4.54 -4.54 8.91 -8.91 -4.54zM128.1 376.2l8.91 4.54 -4.54 8.91 -8.91 -4.54zM203.7 426.0l8.91 4.54 -4.54 8.91 -8.91 -4.54zM92.3 380.4l8.91 4.54 -4.54 8.91 -8.91 -4.54zM167.9 430.2l8.91 4.54 -4.54 8.91 -8.91 -4.54zM328.3 511.9l8.91 4.54 -4.54 8.91 -8.91 -4.54zM314.8 516.2l8.91 4.54 -4.54 8.91 -8.91 -4.54zM132.1 434.4l8.91 4.54 -4.54 8.91 -8.91 -4.54zM96.3 438.6l8.91 4.54 -4.54 8.91 -8.91 -4.54z"/>
<path fill="#feecd2" stroke="#feecd2" stroke-width="0.6" d="M285.4 265.6l8.91 4.54 -4.54 8.91 -8.91 -4.54zM312.0 301.6l8.91 4.54 -4.54 8.91 -8.91 -4.54zM262.9 287.8l8.91 4.54 -4.54 8.91 -8.91 -4.54zM244.9 301.0l8.91 4.54 -4.54 8.91 -8.91 -4.54zM262.6 332.5l8.91 4.54 -4.54 8.91 -8.91 -4.54zM213.5 318.7l8.91 4.54 -4.54 8.91 -8.91 -4.54zM244.6 345.8l8.91 4.54 -4.54 8.91 -8.91 -4.54zM195.5 332.0l8.91 4.54 -4.54 8.91 -8.91 -4.54zM240.0 354.7l8.91 4.54 -4.54 8.91 -8.91 -4.54zM266.8 368.3l8.91 4.54 -4.54 8.91 -8.91 -4.54zM182.0 336.3l8.91 4.54 -4.54 8.91 -8.91 -4.54zM155.0 367.4l8.91 4.54 -4.54 8.91 -8.91 -4.54zM114.6 380.6l8.91 4.54 -4.54 8.91 -8.91 -4.54zM341.7 507.5l8.91 4.54 -4.54 8.91 -8.91 -4.54zM61.0 375.7l8.91 4.54 -4.54 8.91 -8.91 -4.54z"/>
<path fill="#feecd1" stroke="#feecd1" stroke-width="0.6" d="M361.4 270.6l8.91 4.54 -4.54 8.91 -8.91 -4.54zM325.4 297.2l8.91 4.54 -4.54 8.91 -8.91 -4.54zM258.4 296.7l8.91 4.54 -4.54 8.91 -8.91 -4.54zM294.0 314.8l8.91 4.54 -4.54 8.91 -8.91 -4.54zM280.6 319.2l8.91 4.54 -4.54 8.91 -8.91 -4.54zM240.4 310.0l8.91 4.54 -4.54 8.91 -8.91 -4.54zM267.1 323.6l8.91 4.54 -4.54 8.91 -8.91 -4.54zM226.9 314.3l8.91 4.54 -4.54 8.91 -8.91 -4.54zM208.9 327.6l8.91 4.54 -4.54 8.91 -8.91 -4.54zM235.5 363.6l8.91 4.54 -4.54 8.91 -8.91 -4.54zM244.4 368.1l8.91 4.54 -4.54 8.91 -8.91 -4.54zM177.5 345.3l8.91 4.54 -4.54 8.91 -8.91 -4.54zM173.0 354.2l8.91 4.54 -4.54 8.91 -8.91 -4.54zM101.2 384.9l8.91 4.54 -4.54 8.91 -8.91 -4.54zM109.7 434.2l8.91 4.54 -4.54 8.91 -8.91 -4.54zM69.4 447.3l8.91 4.54 -4.54 8.91 -8.91 -4.54zM55.9 451.7l8.91 4.54 -4.54 8.91 -8.91 -4.54z"/>
<path fill="#feebd0" stroke="#feebd0" stroke-width="0.6" d="M280.9 274.5l8.91 4.54 -4.54 8.91 -8.91 -4.54zM253.8 305.6l8.91 4.54 -4.54 8.91 -8.91 -4.54zM222.4 323.2l8.91 4.54 -4.54 8.91 -8.91 -4.54zM249.1 336.9l8.91 4.54 -4.54 8.91 -8.91 -4.54zM231.1 350.1l8.91 4.54 -4.54 8.91 -8.91 -4.54zM190.9 340.9l8.91 4.54 -4.54 8.91 -8.91 -4.54zM226.6 359.0l8.91 4.54 -4.54 8.91 -8.91 -4.54zM288.8 413.2l8.91 4.54 -4.54 8.91 -8.91 -4.54zM168.4 363.1l8.91 4.54 -4.54 8.91 -8.91 -4.54zM150.4 376.4l8.91 4.54 -4.54 8.91 -8.91 -4.54zM137.0 380.7l8.91 4.54 -4.54 8.91 -8.91 -4.54zM217.2 421.6l8.91 4.54 -4.54 8.91 -8.91 -4.54zM123.5 385.1l8.91 4.54 -4.54 8.91 -8.91 -4.54zM181.4 425.8l8.91 4.54 -4.54 8.91 -8.91 -4.54zM69.9 380.2l8.91 4.54 -4.54 8.91 -8.91 -4.54zM145.5 430.0l8.91 4.54 -4.54 8.91 -8.91 -4.54z"/>
<path fill="#feebcf" stroke="#feebcf" stroke-width="0.6" d="M338.9 292.8l8.91 4.54 -4.54 8.91 -8.91 -4.54zM271.6 314.7l8.91 4.54 -4.54 8.91 -8.91 -4.54zM249.3 314.5l8.91 4.54 -4.54 8.91 -8.91 -4.54zM258.2 319.0l8.91 4.54 -4.54 8.91 -8.91 -4.54zM235.8 318.9l8.91 4.54 -4.54 8.91 -8.91 -4.54zM253.7 327.9l8.91 4.54 -4.54 8.91 -8.91 -4.54zM240.2 332.3l8.91 4.54 -4.54 8.91 -8.91 -4.54zM217.8 332.1l8.91 4.54 -4.54 8.91 -8.91 -4.54zM235.7 341.2l8.91 4.54 -4.54 8.91 -8.91 -4.54zM204.4 336.5l8.91 4.54 -4.54 8.91 -8.91 -4.54zM311.3 391.0l8.91 4.54 -4.54 8.91 -8.91 -4.54zM253.3 372.7l8.91 4.54 -4.54 8.91 -8.91 -4.54zM186.4 349.8l8.91 4.54 -4.54 8.91 -8.91 -4.54zM163.9 372.0l8.91 4.54 -4.54 8.91 -8.91 -4.54zM110.1 389.5l8.91 4.54 -4.54 8.91 -8.91 -4.54zM78.8 384.8l8.91 4.54 -4.54 8.91 -8.91 -4.54zM87.7 389.3l8.91 4.54 -4.54 8.91 -8.91 -4.54zM123.2 429.8l8.91 4.54 -4.54 8.91 -8.91 -4.54zM87.4 434.0l8.91 4.54 -4.54 8.91 -8.91 -4.54z"/>
<path fill="#feeace" stroke="#feeace" stroke-width="0.6" d="M402.1 212.8l8.91 4.54 -4.54 8.91 -8.91 -4.54zM276.4 283.4l8.91 4.54 -4.54 8.91 -8.91 -4.54zM267.3 301.2l8.91 4.54 -4.54 8.91 -8.91 -4.54zM262.7 310.1l8.91 4.54 -4.54 8.91 -8.91 -4.54zM244.7 323.4l8.91 4.54 -4.54 8.91 -8.91 -4.54zM231.3 327.8l8.91 4.54 -4.54 8.91 -8.91 -4.54zM226.8 336.7l8.91 4.54 -4.54 8.91 -8.91 -4.54zM213.3 341.1l8.91 4.54 -4.54 8.91 -8.91 -4.54zM222.2 345.6l8.91 4.54 -4.54 8.91 -8.91 -4.54zM199.9 345.4l8.91 4.54 -4.54 8.91 -8.91 -4.54zM208.8 350.0l8.91 4.54 -4.54 8.91 -8.91 -4.54zM217.7 354.5l8.91 4.54 -4.54 8.91 -8.91 -4.54zM181.9 358.7l8.91 4.54 -4.54 8.91 -8.91 -4.54zM253.0 417.4l8.91 4.54 -4.54 8.91 -8.91 -4.54zM96.6 393.8l8.91 4.54 -4.54 8.91 -8.91 -4.54zM100.8 429.6l8.91 4.54 -4.54 8.91 -8.91 -4.54z"/>
<path fill="#feeacc" stroke="#feeacc" stroke-width="0.6" d="M411.0 217.3l8.91 4.54 -4.54 8.91 -8.91 -4.54zM415.4 230.8l8.91 4.54 -4.54 8.91 -8.91 -4.54zM410.9 239.7l8.91 4.54 -4.54 8.91 -8.91 -4.54zM326.1 207.7l8.91 4.54 -4.54 8.91 -8.91 -4.54zM397.4 244.1l8.91 4.54 -4.54 8.91 -8.91 -4.54zM366.0 261.7l8.91 4.54 -4.54 8.91 -8.91 -4.54zM271.8 292.3l8.91 4.54 -4.54 8.91 -8.91 -4.54zM195.3 354.3l8.91 4.54 -4.54 8.91 -8.91 -4.54zM204.2 358.9l8.91 4.54 -4.54 8.91 -8.91 -4.54zM213.1 363.4l8.91 4.54 -4.54 8.91 -8.91 -4.54zM222.0 368.0l8.91 4.54 -4.54 8.91 -8.91 -4.54zM231.0 372.5l8.91 4.54 -4.54 8.91 -8.91 -4.54zM177.3 367.6l8.91 4.54 -4.54 8.91 -8.91 -4.54zM159.3 380.9l8.91 4.54 -4.54 8.91 -8.91 -4.54zM145.9 385.3l8.91 4.54 -4.54 8.91 -8.91 -4.54zM132.4 389.6l8.91 4.54 -4.54 8.91 -8.91 -4.54zM119.0 394.0l8.91 4.54 -4.54 8.91 -8.91 -4.54zM159.0 425.6l8.91 4.54 -4.54 8.91 -8.91 -4.54zM73.9 438.4l8.91 4.54 -4.54 8.91 -8.91 -4.54z"/>
<path fill="#fee9cb" stroke="#fee9cb" stroke-width="0.6" d="M388.7 217.2l8.91 4.54 -4.54 8.91 -8.91 -4.54zM370.5 252.8l8.91 4.54 -4.54 8.91 -8.91 -4.54zM316.5 292.6l8.91 4.54 -4.54 8.91 -8.91 -4.54zM298.5 305.9l8.91 4.54 -4.54 8.91 -8.91 -4.54zM276.2 305.8l8.91 4.54 -4.54 8.91 -8.91 -4.54zM285.1 310.3l8.91 4.54 -4.54 8.91 -8.91 -4.54zM190.8 363.2l8.91 4.54 -4.54 8.91 -8.91 -4.54zM230.6 417.2l8.91 4.54 -4.54 8.91 -8.91 -4.54zM194.8 421.4l8.91 4.54 -4.54 8.91 -8.91 -4.54zM105.5 398.4l8.91 4.54 -4.54 8.91 -8.91 -4.54zM92.1 402.7l8.91 4.54 -4.54 8.91 -8.91 -4.54zM136.6 425.4l8.91 4.54 -4.54 8.91 -8.91 -4.54zM114.3 425.3l8.91 4.54 -4.54 8.91 -8.91 -4.54z"/>
<path fill="#fee9ca" stroke="#fee9ca" stroke-width="0.6" d="M339.6 203.4l8.91 4.54 -4.54 8.91 -8.91 -4.54zM388.5 239.5l8.91 4.54 -4.54 8.91 -8.91 -4.54zM375.0 243.9l8.91 4.54 -4.54 8.91 -8.91 -4.54zM289.1 368.5l8.91 4.54 -4.54 8.91 -8.91 -4.54zM239.9 377.0l8.91 4.54 -4.54 8.91 -8.91 -4.54zM199.7 367.8l8.91 4.54 -4.54 8.91 -8.91 -4.54zM172.8 376.5l8.91 4.54 -4.54 8.91 -8.91 -4.54zM56.4 384.6l8.91 4.54 -4.54 8.91 -8.91 -4.54zM83.2 398.2l8.91 4.54 -4.54 8.91 -8.91 -4.54zM101.0 407.3l8.91 4.54 -4.54 8.91 -8.91 -4.54zM91.9 425.1l8.91 4.54 -4.54 8.91 -8.91 -4.54z"/>
<path fill="#fee8c9" stroke="#fee8c9" stroke-width="0.6" d="M303.4 252.3l8.91 4.54 -4.54 8.91 -8.91 -4.54zM343.4 283.9l8.91 4.54 -4.54 8.91 -8.91 -4.54zM330.0 288.3l8.91 4.54 -4.54 8.91 -8.91 -4.54zM208.6 372.3l8.91 4.54 -4.54 8.91 -8.91 -4.54zM186.2 372.2l8.91 4.54 -4.54 8.91 -8.91 -4.54zM154.8 389.8l8.91 4.54 -4.54 8.91 -8.91 -4.54zM141.3 394.2l8.91 4.54 -4.54 8.91 -8.91 -4.54zM127.9 398.5l8.91 4.54 -4.54 8.91 -8.91 -4.54zM172.4 421.2l8.91 4.54 -4.54 8.91 -8.91 -4.54zM114.4 402.9l8.91 4.54 -4.54 8.91 -8.91 -4.54zM109.9 411.8l8.91 4.54 -4.54 8.91 -8.91 -4.54zM87.5 411.7l8.91 4.54 -4.54 8.91 -8.91 -4.54zM96.5 416.2l8.91 4.54 -4.54 8.91 -8.91 -4.54zM105.4 420.7l8.91 4.54 -4.54 8.91 -8.91 -4.54zM78.5 429.5l8.91 4.54 -4.54 8.91 -8.91 -4.54zM60.5 442.8l8.91 4.54 -4.54 8.91 -8.91 -4.54z"/>
<path fill="#fee8c8" stroke="#fee8c8" stroke-width="0.6" d="M375.2 221.5l8.91 4.54 -4.54 8.91 -8.91 -4.54zM379.6 235.0l8.91 4.54 -4.54 8.91 -8.91 -4.54zM308.0 243.4l8.91 4.54 -4.54 8.91 -8.91 -4.54zM298.9 261.2l8.91 4.54 -4.54 8.91 -8.91 -4.54zM303.1 297.0l8.91 4.54 -4.54 8.91 -8.91 -4.54zM217.5 376.9l8.91 4.54 -4.54 8.91 -8.91 -4.54zM168.2 385.4l8.91 4.54 -4.54 8.91 -8.91 -4.54zM123.4 407.5l8.91 4.54 -4.54 8.91 -8.91 -4.54zM150.1 421.1l8.91 4.54 -4.54 8.91 -8.91 -4.54zM74.3 393.7l8.91 4.54 -4.54 8.91 -8.91 -4.54zM118.8 416.4l8.91 4.54 -4.54 8.91 -8.91 -4.54zM127.7 420.9l8.91 4.54 -4.54 8.91 -8.91 -4.54zM83.0 420.6l8.91 4.54 -4.54 8.91 -8.91 -4.54z"/>
<path fill="#fee7c7" stroke="#fee7c7" stroke-width="0.6" d="M384.1 226.1l8.91 4.54 -4.54 8.91 -8.91 -4.54zM321.6 216.7l8.91 4.54 -4.54 8.91 -8.91 -4.54zM294.3 270.1l8.91 4.54 -4.54 8.91 -8.91 -4.54zM280.7 296.8l8.91 4.54 -4.54 8.91 -8.91 -4.54zM275.7 372.8l8.91 4.54 -4.54 8.91 -8.91 -4.54zM262.2 377.2l8.91 4.54 -4.54 8.91 -8.91 -4.54zM195.1 376.7l8.91 4.54 -4.54 8.91 -8.91 -4.54zM181.7 381.1l8.91 4.54 -4.54 8.91 -8.91 -4.54zM208.3 417.0l8.91 4.54 -4.54 8.91 -8.91 -4.54zM150.3 398.7l8.91 4.54 -4.54 8.91 -8.91 -4.54zM136.8 403.1l8.91 4.54 -4.54 8.91 -8.91 -4.54zM132.3 412.0l8.91 4.54 -4.54 8.91 -8.91 -4.54zM65.4 389.1l8.91 4.54 -4.54 8.91 -8.91 -4.54zM78.6 407.1l8.91 4.54 -4.54 8.91 -8.91 -4.54z"/>
<path fill="#fee7c5" stroke="#fee7c5" stroke-width="0.6" d="M289.8 279.0l8.91 4.54 -4.54 8.91 -8.91 -4.54zM285.3 287.9l8.91 4.54 -4.54 8.91 -8.91 -4.54zM226.4 381.4l8.91 4.54 -4.54 8.91 -8.91 -4.54zM163.7 394.3l8.91 4.54 -4.54 8.91 -8.91 -4.54zM185.9 416.9l8.91 4.54 -4.54 8.91 -8.91 -4.54zM145.7 407.6l8.91 4.54 -4.54 8.91 -8.91 -4.54zM141.2 416.5l8.91 4.54 -4.54 8.91 -8.91 -4.54z"/>
<path fill="#fee6c4" stroke="#fee6c4" stroke-width="0.6" d="M317.0 225.6l8.91 4.54 -4.54 8.91 -8.91 -4.54zM348.0 275.0l8.91 4.54 -4.54 8.91 -8.91 -4.54zM289.6 301.4l8.91 4.54 -4.54 8.91 -8.91 -4.54zM248.8 381.6l8.91 4.54 -4.54 8.91 -8.91 -4.54zM204.1 381.2l8.91 4.54 -4.54 8.91 -8.91 -4.54zM244.1 412.8l8.91 4.54 -4.54 8.91 -8.91 -4.54zM177.2 390.0l8.91 4.54 -4.54 8.91 -8.91 -4.54zM154.6 412.2l8.91 4.54 -4.54 8.91 -8.91 -4.54zM163.5 416.7l8.91 4.54 -4.54 8.91 -8.91 -4.54zM74.1 416.0l8.91 4.54 -4.54 8.91 -8.91 -4.54zM65.0 433.8l8.91 4.54 -4.54 8.91 -8.91 -4.54z"/>
<path fill="#fee5c3" stroke="#fee5c3" stroke-width="0.6" d="M312.5 234.5l8.91 4.54 -4.54 8.91 -8.91 -4.54zM266.4 413.0l8.91 4.54 -4.54 8.91 -8.91 -4.54zM190.6 385.6l8.91 4.54 -4.54 8.91 -8.91 -4.54zM221.7 412.7l8.91 4.54 -4.54 8.91 -8.91 -4.54zM159.2 403.3l8.91 4.54 -4.54 8.91 -8.91 -4.54zM69.7 402.6l8.91 4.54 -4.54 8.91 -8.91 -4.54zM69.6 424.9l8.91 4.54 -4.54 8.91 -8.91 -4.54z"/>
<path fill="#fee5c1" stroke="#fee5c1" stroke-width="0.6" d="M366.3 217.0l8.91 4.54 -4.54 8.91 -8.91 -4.54zM307.6 288.1l8.91 4.54 -4.54 8.91 -8.91 -4.54zM294.2 292.5l8.91 4.54 -4.54 8.91 -8.91 -4.54zM235.3 385.9l8.91 4.54 -4.54 8.91 -8.91 -4.54zM213.0 385.8l8.91 4.54 -4.54 8.91 -8.91 -4.54zM172.6 398.9l8.91 4.54 -4.54 8.91 -8.91 -4.54zM168.1 407.8l8.91 4.54 -4.54 8.91 -8.91 -4.54zM177.0 412.3l8.91 4.54 -4.54 8.91 -8.91 -4.54z"/>
<path fill="#fee4c0" stroke="#fee4c0" stroke-width="0.6" d="M348.5 207.9l8.91 4.54 -4.54 8.91 -8.91 -4.54zM321.1 283.7l8.91 4.54 -4.54 8.91 -8.91 -4.54zM199.5 390.1l8.91 4.54 -4.54 8.91 -8.91 -4.54zM186.1 394.5l8.91 4.54 -4.54 8.91 -8.91 -4.54zM199.3 412.5l8.91 4.54 -4.54 8.91 -8.91 -4.54zM56.1 429.3l8.91 4.54 -4.54 8.91 -8.91 -4.54z"/>
<path fill="#fee4bf" stroke="#fee4bf" stroke-width="0.6" d="M357.4 212.5l8.91 4.54 -4.54 8.91 -8.91 -4.54zM221.9 390.3l8.91 4.54 -4.54 8.91 -8.91 -4.54zM181.5 403.4l8.91 4.54 -4.54 8.91 -8.91 -4.54zM190.4 408.0l8.91 4.54 -4.54 8.91 -8.91 -4.54zM60.8 398.0l8.91 4.54 -4.54 8.91 -8.91 -4.54zM65.2 411.5l8.91 4.54 -4.54 8.91 -8.91 -4.54z"/>
<path fill="#fee3bd" stroke="#fee3bd" stroke-width="0.6" d="M298.7 283.6l8.91 4.54 -4.54 8.91 -8.91 -4.54zM208.4 394.7l8.91 4.54 -4.54 8.91 -8.91 -4.54zM195.0 399.1l8.91 4.54 -4.54 8.91 -8.91 -4.54zM212.8 408.1l8.91 4.54 -4.54 8.91 -8.91 -4.54zM56.3 406.9l8.91 4.54 -4.54 8.91 -8.91 -4.54zM60.6 420.4l8.91 4.54 -4.54 8.91 -8.91 -4.54z"/>
<path fill="#fee2bc" stroke="#fee2bc" stroke-width="0.6" d="M293.3 404.3l8.91 4.54 -4.54 8.91 -8.91 -4.54zM235.2 408.3l8.91 4.54 -4.54 8.91 -8.91 -4.54zM203.9 403.6l8.91 4.54 -4.54 8.91 -8.91 -4.54z"/>
<path fill="#fee1b9" stroke="#fee1b9" stroke-width="0.6" d="M334.5 279.4l8.91 4.54 -4.54 8.91 -8.91 -4.54zM306.9 377.5l8.91 4.54 -4.54 8.91 -8.91 -4.54zM244.2 390.5l8.91 4.54 -4.54 8.91 -8.91 -4.54zM230.8 394.9l8.91 4.54 -4.54 8.91 -8.91 -4.54zM217.3 399.2l8.91 4.54 -4.54 8.91 -8.91 -4.54zM226.2 403.8l8.91 4.54 -4.54 8.91 -8.91 -4.54z"/>
<path fill="#fee0b8" stroke="#fee0b8" stroke-width="0.6" d="M303.3 274.7l8.91 4.54 -4.54 8.91 -8.91 -4.54z"/>
<path fill="#fee0b7" stroke="#fee0b7" stroke-width="0.6" d="M312.2 279.2l8.91 4.54 -4.54 8.91 -8.91 -4.54zM257.7 386.1l8.91 4.54 -4.54 8.91 -8.91 -4.54z"/>
<path fill="#fedfb5" stroke="#fedfb5" stroke-width="0.6" d="M307.8 265.7l8.91 4.54 -4.54 8.91 -8.91 -4.54zM298.0 373.0l8.91 4.54 -4.54 8.91 -8.91 -4.54zM279.9 408.6l8.91 4.54 -4.54 8.91 -8.91 -4.54zM239.7 399.4l8.91 4.54 -4.54 8.91 -8.91 -4.54z"/>
<path fill="#fedfb4" stroke="#fedfb4" stroke-width="0.6" d="M257.5 408.5l8.91 4.54 -4.54 8.91 -8.91 -4.54z"/>
<path fill="#fddeb3" stroke="#fddeb3" stroke-width="0.6" d="M352.5 266.1l8.91 4.54 -4.54 8.91 -8.91 -4.54zM312.3 256.8l8.91 4.54 -4.54 8.91 -8.91 -4.54zM248.6 403.9l8.91 4.54 -4.54 8.91 -8.91 -4.54z"/>
<path fill="#fdddb0" stroke="#fdddb0" stroke-width="0.6" d="M397.6 221.7l8.91 4.54 -4.54 8.91 -8.91 -4.54zM393.0 230.6l8.91 4.54 -4.54 8.91 -8.91 -4.54zM401.9 235.2l8.91 4.54 -4.54 8.91 -8.91 -4.54z"/>
<path fill="#fddcaf" stroke="#fddcaf" stroke-width="0.6" d="M406.5 226.2l8.91 4.54 -4.54 8.91 -8.91 -4.54zM325.6 274.8l8.91 4.54 -4.54 8.91 -8.91 -4.54zM271.1 381.7l8.91 4.54 -4.54 8.91 -8.91 -4.54zM253.1 395.0l8.91 4.54 -4.54 8.91 -8.91 -4.54z"/>
<path fill="#fddbac" stroke="#fddbac" stroke-width="0.6" d="M339.1 270.5l8.91 4.54 -4.54 8.91 -8.91 -4.54z"/>
<path fill="#fddaab" stroke="#fddaab" stroke-width="0.6" d="M316.7 270.3l8.91 4.54 -4.54 8.91 -8.91 -4.54z"/>
<path fill="#fdd7a4" stroke="#fdd7a4" stroke-width="0.6" d="M284.6 377.4l8.91 4.54 -4.54 8.91 -8.91 -4.54zM297.9 395.4l8.91 4.54 -4.54 8.91 -8.91 -4.54z"/>
<path fill="#fdd6a3" stroke="#fdd6a3" stroke-width="0.6" d="M316.9 247.9l8.91 4.54 -4.54 8.91 -8.91 -4.54zM302.4 386.5l8.91 4.54 -4.54 8.91 -8.91 -4.54z"/>
<path fill="#fdd6a2" stroke="#fdd6a2" stroke-width="0.6" d="M370.7 230.4l8.91 4.54 -4.54 8.91 -8.91 -4.54z"/>
<path fill="#fdd5a0" stroke="#fdd5a0" stroke-width="0.6" d="M262.1 399.6l8.91 4.54 -4.54 8.91 -8.91 -4.54z"/>
<path fill="#fdd49f" stroke="#fdd49f" stroke-width="0.6" d="M335.0 212.3l8.91 4.54 -4.54 8.91 -8.91 -4.54zM321.2 261.4l8.91 4.54 -4.54 8.91 -8.91 -4.54z"/>
<path fill="#fdd49e" stroke="#fdd49e" stroke-width="0.6" d="M330.2 265.9l8.91 4.54 -4.54 8.91 -8.91 -4.54zM266.6 390.7l8.91 4.54 -4.54 8.91 -8.91 -4.54zM271.0 404.1l8.91 4.54 -4.54 8.91 -8.91 -4.54z"/>
<path fill="#fdd09a" stroke="#fdd09a" stroke-width="0.6" d="M357.1 257.2l8.91 4.54 -4.54 8.91 -8.91 -4.54z"/>
<path fill="#fdcd96" stroke="#fdcd96" stroke-width="0.6" d="M366.1 239.4l8.91 4.54 -4.54 8.91 -8.91 -4.54zM343.6 261.5l8.91 4.54 -4.54 8.91 -8.91 -4.54z"/>
<path fill="#fdcc96" stroke="#fdcc96" stroke-width="0.6" d="M361.6 248.3l8.91 4.54 -4.54 8.91 -8.91 -4.54z"/>
<path fill="#fdca94" stroke="#fdca94" stroke-width="0.6" d="M330.5 221.2l8.91 4.54 -4.54 8.91 -8.91 -4.54z"/>
<path fill="#fdca93" stroke="#fdca93" stroke-width="0.6" d="M321.4 239.0l8.91 4.54 -4.54 8.91 -8.91 -4.54z"/>
<path fill="#fdc992" stroke="#fdc992" stroke-width="0.6" d="M326.0 230.1l8.91 4.54 -4.54 8.91 -8.91 -4.54zM284.4 399.7l8.91 4.54 -4.54 8.91 -8.91 -4.54z"/>
<path fill="#fdc68f" stroke="#fdc68f" stroke-width="0.6" d="M293.5 381.9l8.91 4.54 -4.54 8.91 -8.91 -4.54z"/>
<path fill="#fdc58e" stroke="#fdc58e" stroke-width="0.6" d="M325.8 252.5l8.91 4.54 -4.54 8.91 -8.91 -4.54z"/>
<path fill="#fdc38c" stroke="#fdc38c" stroke-width="0.6" d="M361.8 225.9l8.91 4.54 -4.54 8.91 -8.91 -4.54z"/>
<path fill="#fdc28b" stroke="#fdc28b" stroke-width="0.6" d="M343.9 216.8l8.91 4.54 -4.54 8.91 -8.91 -4.54zM280.0 386.3l8.91 4.54 -4.54 8.91 -8.91 -4.54z"/>
<path fill="#fdc18a" stroke="#fdc18a" stroke-width="0.6" d="M334.7 257.0l8.91 4.54 -4.54 8.91 -8.91 -4.54zM275.5 395.2l8.91 4.54 -4.54 8.91 -8.91 -4.54z"/>
<path fill="#fdbc85" stroke="#fdbc85" stroke-width="0.6" d="M352.9 221.4l8.91 4.54 -4.54 8.91 -8.91 -4.54z"/>
<path fill="#fdb881" stroke="#fdb881" stroke-width="0.6" d="M289.0 390.8l8.91 4.54 -4.54 8.91 -8.91 -4.54z"/>
<path fill="#fdaf79" stroke="#fdaf79" stroke-width="0.6" d="M348.1 252.6l8.91 4.54 -4.54 8.91 -8.91 -4.54z"/>
<path fill="#fdab75" stroke="#fdab75" stroke-width="0.6" d="M330.3 243.6l8.91 4.54 -4.54 8.91 -8.91 -4.54z"/>
<path fill="#fda671" stroke="#fda671" stroke-width="0.6" d="M334.9 234.6l8.91 4.54 -4.54 8.91 -8.91 -4.54zM352.7 243.7l8.91 4.54 -4.54 8.91 -8.91 -4.54z"/>
<path fill="#fda56f" stroke="#fda56f" stroke-width="0.6" d="M339.4 225.7l8.91 4.54 -4.54 8.91 -8.91 -4.54z"/>
<path fill="#fca36e" stroke="#fca36e" stroke-width="0.6" d="M357.2 234.8l8.91 4.54 -4.54 8.91 -8.91 -4.54z"/>
<path fill="#fc9f6a" stroke="#fc9f6a" stroke-width="0.6" d="M339.2 248.1l8.91 4.54 -4.54 8.91 -8.91 -4.54z"/>
<path fill="#fc9662" stroke="#fc9662" stroke-width="0.6" d="M343.8 239.2l8.91 4.54 -4.54 8.91 -8.91 -4.54z"/>
<path fill="#fc915c" stroke="#fc915c" stroke-width="0.6" d="M348.3 230.3l8.91 4.54 -4.54 8.91 -8.91 -4.54z"/>
</g></g>
<g id="coast" fill="none" stroke="#000" stroke-width="0.85" stroke-linejoin="round"><path d="M470.0,417.6 C469.5,417.7 467.9,418.0 467.1,418.0 C466.3,418.0 465.5,417.4 465.1,417.6 C464.7,417.9 465.1,419.0 464.6,419.5 C464.1,420.0 463.1,420.6 462.2,420.5 C461.3,420.4 460.3,419.5 459.3,419.0 C458.3,418.5 457.5,417.8 456.3,417.6 C455.1,417.4 453.7,417.5 452.4,417.8 C451.1,418.1 449.5,418.7 448.5,419.5 C447.5,420.3 447.2,421.4 446.6,422.4 C446.0,423.4 445.0,424.4 444.6,425.4 C444.2,426.4 444.4,427.6 444.1,428.3 C443.8,429.0 443.2,429.4 442.7,429.3 C442.2,429.2 441.5,428.5 441.2,427.8 C440.9,427.1 440.9,425.5 440.7,424.9 C440.5,424.2 440.1,423.7 439.8,423.9 C439.5,424.1 439.3,425.4 438.8,425.9 C438.3,426.4 437.5,426.2 436.8,426.8 C436.1,427.4 435.0,428.6 434.9,429.3 C434.8,430.0 435.4,430.6 435.9,431.2 C436.4,431.8 437.0,432.5 437.8,433.2 C438.6,433.9 439.9,434.5 440.7,435.1 C441.5,435.8 442.5,436.5 442.7,437.1 C442.9,437.7 442.3,438.2 441.7,438.5 C441.1,438.8 439.6,438.8 438.8,439.0 C438.0,439.2 436.9,439.6 436.8,440.0 C436.7,440.4 438.1,441.0 438.3,441.5 C438.5,442.0 438.5,442.8 437.8,442.9 C437.1,443.0 435.2,442.4 433.9,442.1 C432.6,441.8 431.5,441.5 430.0,441.0 C428.5,440.5 426.6,439.6 425.1,439.0 C423.6,438.4 422.5,438.3 421.2,437.6 C419.9,436.9 418.6,435.7 417.3,434.6 C416.0,433.5 414.7,432.2 413.4,431.2 C412.1,430.1 410.4,429.2 409.5,428.3 C408.6,427.4 408.1,426.7 408.0,425.9 C407.9,425.1 408.9,424.5 409.0,423.4 C409.1,422.3 408.7,420.6 408.5,419.5 C408.3,418.4 408.2,417.7 407.6,416.6 C407.0,415.6 405.3,414.5 404.6,413.2 C403.9,411.9 403.7,410.4 403.2,408.8 C402.7,407.2 402.2,405.4 401.7,403.9 C401.2,402.4 400.4,401.0 400.2,400.0 C400.0,399.0 400.1,398.9 400.6,398.1 C401.1,397.3 402.2,396.3 403.3,395.4 C404.4,394.5 407.0,393.7 407.0,392.6 C407.0,391.5 404.4,390.5 403.3,389.0 C402.2,387.5 401.5,385.3 400.6,383.5 C399.7,381.7 398.6,379.5 397.8,378.0 C397.0,376.5 396.6,375.5 396.0,374.3 C395.4,373.1 395.0,372.1 394.2,370.7 C393.4,369.3 392.3,367.5 391.4,366.1 C390.5,364.7 389.5,363.6 388.7,362.4 C387.9,361.2 386.6,360.0 386.3,358.8 C386.0,357.6 386.3,355.9 386.9,355.1 C387.4,354.3 388.9,354.9 389.6,354.2 C390.4,353.4 390.8,351.8 391.4,350.6 C392.0,349.4 392.5,348.1 393.3,346.9 C394.1,345.7 395.1,344.4 396.0,343.2 C396.9,342.0 397.9,340.6 398.8,339.6 C399.7,338.6 400.9,338.4 401.5,337.4 C402.1,336.4 402.8,334.5 402.4,333.7 C401.9,332.9 399.6,333.1 398.8,332.3 C398.0,331.5 397.6,330.0 397.3,328.6 C397.0,327.2 396.6,325.4 396.9,324.0 C397.1,322.6 398.3,321.0 398.8,320.4 C399.3,319.8 399.1,321.1 400.0,320.6 C400.9,320.2 403.2,318.7 404.4,317.7 C405.6,316.7 406.4,315.4 407.3,314.7 C408.2,314.0 408.5,313.6 409.5,313.3 C410.5,313.0 412.2,313.0 413.2,312.6 C414.2,312.2 414.5,311.5 415.4,311.1 C416.2,310.7 417.2,310.4 418.3,310.0 C419.4,309.6 420.8,309.2 421.9,308.9 C423.0,308.5 424.2,308.1 424.9,307.9 C425.6,307.7 425.7,307.8 426.3,307.8 C426.9,307.9 427.8,308.3 428.5,308.2 C429.2,308.1 429.8,307.7 430.7,307.2 C431.6,306.7 432.8,305.8 433.7,305.2 C434.6,304.6 435.7,304.2 436.2,303.4 C436.7,302.6 436.9,301.2 436.9,300.5 C436.9,299.8 436.2,299.6 436.2,299.0 C436.2,298.4 436.6,297.7 436.9,296.8 C437.1,295.9 437.8,294.6 437.7,293.9 C437.6,293.2 436.7,293.0 436.6,292.4 C436.5,291.8 436.9,291.2 437.3,290.2 C437.7,289.2 438.0,287.8 438.8,286.6 C439.6,285.4 441.4,284.0 442.4,282.9 C443.4,281.8 444.0,281.5 444.6,280.0 C445.2,278.5 445.4,275.7 446.3,273.7 C447.2,271.7 448.9,270.0 450.0,268.2 C451.1,266.4 452.1,264.6 452.7,262.8 C453.3,261.0 453.1,259.1 453.6,257.3 C454.1,255.5 455.5,253.2 455.5,251.8 C455.5,250.4 454.5,249.8 453.6,249.0 C452.7,248.2 450.8,247.9 450.0,247.2 C449.2,246.4 449.4,245.9 449.1,244.5 C448.8,243.1 448.7,240.3 448.1,239.0 C447.5,237.7 446.6,237.4 445.4,236.8 C444.2,236.2 442.0,236.2 440.8,235.3 C439.6,234.5 439.0,232.9 438.1,231.7 C437.2,230.5 436.2,228.6 435.7,228.0 C435.2,227.4 435.7,229.2 435.3,228.0 C434.9,226.8 433.9,223.1 433.5,220.7 C433.1,218.3 432.7,215.8 432.6,213.4 C432.5,211.0 432.8,208.4 433.1,206.0 C433.4,203.6 434.1,201.1 434.4,198.7 C434.7,196.3 434.5,193.1 435.0,191.4 C435.5,189.7 436.1,189.8 437.2,188.7 C438.3,187.6 440.6,186.4 441.7,185.0 C442.8,183.6 443.4,182.1 443.6,180.4 C443.8,178.7 443.6,176.4 443.0,174.9 C442.4,173.4 440.7,172.5 439.9,171.3 C439.1,170.1 438.7,168.5 438.1,167.6 C437.5,166.7 437.1,166.0 436.3,165.8 C435.5,165.6 434.2,165.8 433.5,166.2 C432.8,166.6 432.4,167.3 432.0,168.5 C431.6,169.7 431.5,171.7 430.8,173.1 C430.1,174.5 429.1,175.6 428.0,176.8 C426.9,178.0 425.9,179.4 424.4,180.1 C422.9,180.8 420.7,181.0 418.9,181.0 C417.1,181.0 415.2,180.6 413.4,180.1 C411.6,179.6 409.6,178.8 407.9,178.2 C406.2,177.6 404.2,176.8 403.3,176.8 C402.4,176.8 402.7,178.3 402.4,178.2 C402.1,178.0 402.4,176.8 401.5,175.9 C400.6,175.1 398.9,174.2 396.9,173.1 C394.9,172.0 392.0,170.8 389.6,169.5 C387.2,168.2 384.7,166.8 382.3,165.4 C379.9,164.0 376.8,162.2 375.0,161.2 C373.2,160.2 372.7,159.6 371.3,159.4 C369.9,159.2 367.9,160.0 366.7,160.3 C365.5,160.6 365.1,160.8 364.0,161.2 C362.9,161.6 361.5,162.5 360.3,162.5 C359.1,162.5 357.8,161.9 356.7,161.2 C355.6,160.5 354.8,158.8 353.9,158.5 C353.0,158.2 351.8,158.6 351.2,159.4 C350.6,160.2 351.2,162.1 350.3,163.1 C349.4,164.1 347.4,164.9 345.7,165.4 C344.0,165.9 341.6,165.7 340.2,166.2 C338.8,166.7 337.6,167.7 337.5,168.5 C337.4,169.3 339.2,169.9 339.3,171.3 C339.4,172.7 338.9,175.0 338.4,176.8 C337.9,178.6 337.0,180.5 336.2,182.3 C335.4,184.1 334.5,185.9 333.8,187.7 C333.1,189.5 332.4,191.4 332.0,193.2 C331.6,195.0 331.5,196.9 331.1,198.7 C330.7,200.5 330.2,202.4 329.6,204.2 C329.1,206.0 327.9,208.2 327.8,209.7 C327.7,211.2 329.1,212.2 328.9,213.4 C328.7,214.6 327.2,215.5 326.5,217.0 C325.8,218.5 324.8,221.0 324.7,222.5 C324.6,224.0 325.4,225.3 326.0,226.2 C326.6,227.1 327.8,227.0 328.3,228.0 C328.8,229.0 329.0,230.0 329.0,232.0 C329.0,234.0 328.5,237.3 328.5,240.0 C328.5,242.7 329.0,245.3 329.0,248.0 C329.0,250.7 328.8,253.7 328.5,256.0 C328.2,258.3 327.7,260.3 327.0,262.0 C326.3,263.7 325.3,264.7 324.5,266.0 C323.7,267.3 322.8,268.5 322.3,270.0 C321.8,271.5 321.6,273.3 321.5,275.0 C321.4,276.7 321.6,278.8 321.7,280.0 C321.8,281.2 322.1,281.2 322.1,282.2 C322.1,283.2 321.8,284.8 321.8,285.9 C321.8,287.0 322.1,287.7 322.3,288.8 C322.5,289.9 323.0,291.1 323.2,292.4 C323.4,293.7 323.5,295.6 323.7,296.8 C323.9,298.0 324.2,299.1 324.6,299.8 C325.0,300.5 325.6,300.6 326.1,301.2 C326.6,301.8 327.1,302.5 327.5,303.4 C327.9,304.2 328.3,305.3 328.3,306.3 C328.3,307.3 327.9,308.4 327.5,309.3 C327.1,310.2 326.6,310.8 326.1,311.5 C325.6,312.2 325.1,312.9 324.6,313.3 C324.1,313.7 323.8,313.9 323.2,314.0 C322.6,314.1 321.7,313.9 321.0,314.0 C320.3,314.1 319.7,314.1 318.8,314.4 C317.9,314.7 316.8,315.6 315.8,315.8 C314.8,316.0 313.7,315.7 312.9,315.5 C312.1,315.3 311.6,314.9 311.1,314.4 C310.6,313.8 310.2,313.0 310.0,312.2 C309.8,311.4 309.9,310.0 309.6,309.3 C309.4,308.6 309.1,308.2 308.5,307.8 C307.9,307.4 307.0,307.0 306.3,306.7 C305.6,306.4 304.7,306.3 304.1,306.0 C303.5,305.7 303.2,305.3 302.7,304.9 C302.2,304.5 301.8,304.1 301.2,303.8 C300.6,303.6 299.8,303.6 299.4,303.4 C299.0,303.1 298.8,302.8 298.7,302.3 C298.6,301.8 298.8,301.1 298.9,300.5 C299.0,299.9 299.3,299.7 299.4,299.0 C299.4,298.3 299.4,296.8 299.2,296.1 C299.0,295.4 298.8,295.0 298.3,294.6 C297.9,294.2 297.1,294.0 296.5,294.0 C295.9,294.0 295.2,294.3 294.6,294.5 C294.0,294.7 293.4,295.0 292.8,295.0 C292.2,295.0 291.7,294.1 291.3,294.6 C290.9,295.2 290.5,297.1 290.2,298.3 C289.9,299.5 289.6,300.9 289.5,301.9 C289.4,302.9 289.3,303.4 289.4,304.1 C289.5,304.8 289.8,305.4 289.9,306.3 C290.0,307.2 290.2,308.3 290.2,309.3 C290.2,310.3 290.0,311.2 289.9,312.2 C289.8,313.2 289.6,314.1 289.5,315.1 C289.4,316.1 289.4,316.9 289.4,318.0 C289.4,319.1 289.3,321.0 289.5,321.7 C289.7,322.4 290.2,322.5 290.6,322.4 C291.0,322.3 291.6,321.7 292.1,321.3 C292.7,320.9 293.3,320.2 293.9,320.2 C294.4,320.1 294.9,320.6 295.4,321.0 C295.9,321.4 296.4,321.7 296.8,322.4 C297.2,323.1 297.5,324.4 297.6,325.4 C297.7,326.4 297.7,327.3 297.6,328.3 C297.5,329.3 297.4,330.4 297.2,331.2 C297.0,332.0 296.4,332.8 296.5,333.4 C296.6,334.0 297.5,334.4 297.9,334.9 C298.3,335.4 298.8,335.7 299.0,336.3 C299.2,336.9 299.4,337.8 299.4,338.5 C299.4,339.2 298.7,339.7 298.8,340.4 C298.9,341.1 299.6,341.8 300.0,342.5 C300.4,343.2 300.8,343.8 301.1,344.7 C301.4,345.6 302.0,347.2 301.7,347.9 C301.4,348.6 300.1,348.3 299.5,349.0 C298.9,349.7 297.6,350.9 297.9,352.2 C298.2,353.4 300.1,355.1 301.1,356.5 C302.1,357.9 303.1,359.4 303.8,360.8 C304.5,362.2 305.0,363.6 305.4,365.1 C305.8,366.6 306.1,368.4 306.3,370.0 C306.5,371.6 306.5,372.9 306.6,374.9 C306.7,376.8 306.7,379.8 307.0,381.7 C307.3,383.6 307.8,385.3 308.3,386.6 C308.8,387.9 309.2,388.6 309.8,389.5 C310.4,390.4 311.4,391.6 312.2,392.0 C313.0,392.4 314.1,392.6 314.6,392.2 C315.1,391.8 315.1,390.6 315.4,389.5 C315.6,388.4 315.7,386.2 316.1,385.6 C316.5,385.0 317.4,385.5 318.0,385.8 C318.6,386.1 319.4,387.2 320.0,387.6 C320.6,388.1 321.3,388.0 321.3,388.5 C321.3,389.0 320.4,389.8 320.0,390.5 C319.6,391.2 319.1,392.1 319.0,392.9 C318.9,393.7 319.0,394.5 319.5,395.4 C320.0,396.3 321.0,397.5 322.0,398.3 C323.0,399.1 324.6,399.4 325.4,400.2 C326.1,401.0 326.3,401.9 326.5,403.2 C326.7,404.5 326.4,406.7 326.8,408.0 C327.2,409.3 327.9,410.3 328.8,411.0 C329.7,411.7 331.0,411.9 332.2,412.1 C333.4,412.3 335.0,412.2 336.1,412.0 C337.2,411.8 338.2,411.8 338.8,411.0 C339.4,410.2 339.7,408.6 339.8,407.1 C339.9,405.6 339.7,403.7 339.5,402.2 C339.3,400.7 338.9,399.6 338.5,398.3 C338.1,397.0 337.4,395.7 337.1,394.4 C336.8,393.1 336.6,391.7 336.6,390.5 C336.6,389.3 336.8,388.1 337.1,387.1 C337.4,386.1 338.1,385.2 338.5,384.6 C338.9,384.0 339.4,383.6 339.8,383.7 C340.2,383.8 340.7,384.5 341.0,385.1 C341.3,385.8 341.5,386.8 341.8,387.6 C342.1,388.4 342.1,389.4 342.9,390.0 C343.7,390.6 345.0,391.0 346.8,391.3 C348.6,391.6 351.9,391.5 353.7,392.0 C355.5,392.5 356.5,393.3 357.6,394.4 C358.7,395.4 359.6,396.5 360.5,398.3 C361.4,400.1 362.9,403.4 362.9,405.1 C362.9,406.8 361.6,407.5 360.5,408.5 C359.4,409.5 358.1,409.9 356.6,411.0 C355.1,412.1 353.3,413.4 351.7,414.9 C350.1,416.4 348.4,418.7 346.8,419.8 C345.2,420.9 343.2,420.9 342.0,421.7 C340.8,422.5 340.3,423.5 339.8,424.4 C339.3,425.3 338.8,426.4 338.8,427.3 C338.8,428.2 339.5,428.7 339.8,429.8 C340.1,430.9 340.5,432.4 340.7,433.7 C340.9,435.0 341.0,436.5 340.9,437.6 C340.8,438.7 340.1,439.5 340.2,440.5 C340.3,441.5 341.4,442.3 341.7,443.4 C342.0,444.5 341.9,446.0 342.2,447.3 C342.4,448.6 342.8,450.5 343.2,451.0 C343.6,451.5 344.2,450.7 344.4,450.2 C344.6,449.7 344.3,448.4 344.6,447.8 C344.9,447.2 345.6,446.7 346.1,446.3 C346.6,445.9 347.4,446.1 347.6,445.6 C347.8,445.1 347.4,444.0 347.1,443.4 C346.9,442.8 346.0,442.3 346.1,442.0 C346.2,441.7 347.1,441.6 348.0,441.7 C348.9,441.8 350.1,442.1 351.5,442.4 C352.9,442.7 355.1,442.9 356.3,443.4 C357.5,443.9 358.3,444.4 358.8,445.4 C359.3,446.4 359.1,448.2 359.3,449.3 C359.5,450.4 360.0,451.0 359.8,451.7 C359.6,452.4 358.8,453.0 358.3,453.7 C357.8,454.4 356.8,455.2 356.8,455.6 C356.8,456.0 357.8,456.4 358.3,456.1 C358.8,455.9 359.2,454.8 359.8,454.1 C360.4,453.5 361.0,452.7 361.7,452.2 C362.4,451.7 363.3,451.2 364.1,451.2 C364.9,451.2 365.8,451.6 366.3,452.2 C366.8,452.8 367.1,453.7 367.1,454.6 C367.2,455.5 366.5,456.7 366.6,457.6 C366.7,458.5 366.9,459.7 367.6,460.0 C368.3,460.3 369.6,459.4 371.0,459.5 C372.4,459.6 374.3,460.0 375.9,460.5 C377.5,461.0 379.2,462.6 380.7,462.4 C382.1,462.2 383.1,460.3 384.6,459.5 C386.1,458.7 388.4,458.2 389.5,457.6 C390.6,457.0 390.8,457.0 391.0,456.1 C391.2,455.2 390.6,453.3 390.5,452.2 C390.4,451.1 390.0,450.3 390.3,449.3 C390.6,448.3 391.4,447.1 392.4,446.3 C393.4,445.5 395.4,444.7 396.3,444.4 C397.2,444.1 396.7,444.6 397.8,444.4 C398.9,444.1 401.1,443.6 402.7,442.9 C404.3,442.2 406.3,440.4 407.6,440.0 C408.9,439.6 409.5,440.0 410.5,440.5 C411.5,441.0 412.1,442.1 413.4,442.9 C414.7,443.7 416.7,444.6 418.3,445.4 C419.9,446.2 421.6,447.0 423.2,447.8 C424.8,448.6 426.7,449.2 428.0,450.2 C429.3,451.2 430.0,452.5 431.0,453.7 C432.0,454.9 433.1,456.5 433.9,457.6 C434.7,458.7 434.9,459.9 435.9,460.5 C436.9,461.1 438.5,461.2 439.8,461.5 C441.1,461.8 442.4,461.6 443.7,462.4 C445.0,463.2 446.5,465.0 447.6,466.3 C448.7,467.6 449.5,468.9 450.5,470.2 C451.5,471.5 452.6,472.8 453.4,474.1 C454.2,475.4 454.9,476.7 455.4,478.0 C455.9,479.3 456.2,480.7 456.5,482.0 C456.8,483.3 456.7,485.1 457.3,486.0 C457.9,486.9 459.1,487.2 460.0,487.4 C460.9,487.6 462.2,487.2 463.0,487.0 C463.8,486.8 464.2,487.0 464.6,486.0 C465.0,485.0 465.3,482.8 465.3,481.0 C465.3,479.2 464.9,476.8 464.5,475.0 C464.1,473.2 463.5,471.6 463.0,470.0 C462.5,468.4 462.0,466.8 461.5,465.5 C461.0,464.2 460.5,463.2 460.0,462.0 C459.5,460.8 458.9,459.7 458.5,458.0 C458.1,456.3 458.1,453.7 457.8,452.0 C457.5,450.3 457.3,449.5 456.5,448.0 C455.7,446.5 454.2,444.2 453.0,443.0 C451.8,441.8 449.1,440.8 449.0,440.5 C448.9,440.2 451.2,441.1 452.4,441.0 C453.6,440.9 455.1,439.9 456.3,440.2 C457.5,440.5 458.3,441.9 459.3,442.9 C460.3,443.8 461.2,445.1 462.2,445.9 C463.2,446.7 464.1,447.3 465.1,447.8 C466.1,448.3 467.2,448.3 468.0,448.8 C468.8,449.3 468.9,449.7 470.0,450.7 C471.1,451.7 473.3,453.1 474.7,454.8 C476.1,456.6 476.6,459.4 478.3,461.2 C480.0,463.0 482.4,464.4 484.7,465.8 C487.0,467.2 490.2,468.0 492.0,469.5 C493.8,471.0 494.6,473.2 495.7,475.0 C496.8,476.8 497.5,478.3 498.4,480.4 C499.3,482.5 500.4,485.6 501.2,487.7 C502.0,489.8 501.8,491.8 503.0,493.2 C504.2,494.6 506.7,495.0 508.5,495.9 C510.3,496.8 513.1,498.2 514.0,498.7"/>
<path d="M442.7,426.5 L450.0,419.2"/>
<path d="M419.8,424.9 C420.0,424.4 420.5,424.0 421.2,424.2 C421.9,424.4 422.8,425.3 424.1,426.3 C425.4,427.3 427.5,429.0 429.0,430.2 C430.5,431.4 431.9,432.6 432.9,433.7 C433.9,434.8 434.9,436.0 435.1,436.6 C435.4,437.2 434.9,437.6 434.4,437.6 C433.9,437.6 433.1,437.2 432.0,436.6 C430.9,436.0 429.5,434.8 428.0,433.7 C426.5,432.6 424.5,430.9 423.2,429.8 C421.9,428.7 420.8,428.1 420.2,427.3 C419.6,426.5 419.6,425.4 419.8,424.9Z"/>
<path d="M299.8,298.3 C300.1,297.8 300.7,297.1 301.2,296.8 C301.7,296.5 302.5,296.4 303.0,296.5 C303.5,296.6 303.8,297.1 304.1,297.6 C304.4,298.2 304.6,299.0 304.7,299.8 C304.8,300.6 304.7,302.0 304.5,302.7 C304.3,303.4 303.8,303.7 303.4,303.8 C303.0,303.9 302.4,303.7 301.9,303.4 C301.4,303.1 300.9,302.4 300.5,301.9 C300.1,301.3 299.5,300.7 299.4,300.1 C299.3,299.5 299.5,298.9 299.8,298.3Z"/>
<path d="M428.9,304.1 C429.1,303.7 429.6,302.7 430.0,302.3 C430.4,301.9 431.1,301.8 431.5,301.9 C431.9,302.0 432.5,302.5 432.6,303.0 C432.7,303.5 432.5,304.3 432.2,304.9 C431.9,305.4 431.2,305.9 430.7,306.3 C430.2,306.7 429.7,307.1 429.3,307.1 C428.9,307.1 428.3,306.7 428.2,306.3 C428.1,305.9 428.4,305.3 428.5,304.9 C428.6,304.5 428.6,304.5 428.9,304.1Z"/>
<path d="M430.7,307.2 C430.5,307.6 429.9,308.6 429.3,309.3 C428.8,310.0 428.0,310.8 427.4,311.5 C426.8,312.2 426.2,313.0 425.6,313.7 C425.0,314.4 423.9,315.7 423.8,315.8 C423.7,315.9 424.4,315.0 424.9,314.4 C425.4,313.8 426.0,312.9 426.7,312.2 C427.4,311.5 428.1,310.8 428.9,310.0 C429.7,309.2 431.1,307.7 431.5,307.2"/>
<path d="M418.0,105.1 C418.8,104.6 422.3,103.2 423.4,103.2 C424.5,103.2 424.5,104.6 424.4,105.4 C424.3,106.2 423.5,107.9 422.9,108.2 C422.3,108.5 421.4,107.6 420.7,107.3 C420.0,107.0 418.9,106.8 418.5,106.4 C418.1,106.0 417.2,105.6 418.0,105.1Z"/>
<path d="M385.6,115.5 C385.8,114.7 386.4,114.1 387.8,113.7 C389.2,113.3 392.8,112.6 394.2,113.1 C395.6,113.5 395.6,115.1 396.0,116.4 C396.4,117.7 397.2,120.1 396.9,121.0 C396.6,121.9 395.3,121.9 394.2,121.9 C393.1,121.9 391.7,121.5 390.5,121.0 C389.3,120.5 387.7,119.5 386.9,118.6 C386.1,117.7 385.5,116.3 385.6,115.5Z"/>
<path d="M376.8,127.4 C377.2,127.3 377.9,127.4 378.3,128.3 C378.8,129.2 379.3,131.6 379.5,132.9 C379.7,134.2 379.8,135.6 379.5,136.2 C379.2,136.8 378.4,137.1 377.7,136.5 C377.0,135.9 375.6,134.1 375.3,132.9 C375.0,131.7 375.6,130.1 375.9,129.2 C376.1,128.3 376.4,127.5 376.8,127.4Z"/>
<path d="M380.8,145.7 C381.2,145.1 382.6,144.0 384.1,143.5 C385.6,143.0 388.2,142.7 389.6,142.9 C391.0,143.1 392.4,144.2 392.7,144.8 C393.0,145.4 392.7,146.2 391.4,146.6 C390.1,147.0 386.7,147.4 385.0,147.5 C383.3,147.6 382.1,147.4 381.4,147.1 C380.7,146.8 380.4,146.3 380.8,145.7Z"/>
<path d="M415.2,142.0 C415.8,140.6 416.9,138.9 418.0,138.0 C419.1,137.1 420.6,136.4 421.6,136.5 C422.6,136.6 423.7,137.6 424.0,138.4 C424.3,139.2 424.1,140.2 423.4,141.1 C422.7,142.0 420.8,143.0 419.8,143.9 C418.8,144.8 418.1,145.8 417.4,146.6 C416.7,147.4 416.1,149.0 415.6,149.0 C415.1,149.0 414.4,147.8 414.3,146.6 C414.2,145.4 414.6,143.4 415.2,142.0Z"/>
<path d="M309.1,447.1 C309.3,446.4 309.8,445.9 310.9,446.0 C312.0,446.1 314.1,446.8 315.5,447.5 C316.9,448.2 318.3,449.2 319.2,450.3 C320.1,451.4 320.9,452.8 321.0,453.9 C321.1,455.0 320.9,456.9 320.1,457.0 C319.3,457.1 317.6,455.5 316.4,454.8 C315.2,454.1 313.9,453.4 312.8,452.6 C311.7,451.9 310.1,451.2 309.5,450.3 C308.9,449.4 308.9,447.8 309.1,447.1Z"/>
<path d="M353.9,456.9 C354.1,456.9 355.2,458.2 355.9,458.5 C356.6,458.8 357.6,458.6 358.3,458.8 C359.0,459.0 359.7,459.2 359.8,459.5 C359.9,459.8 359.4,460.4 358.8,460.5 C358.2,460.6 357.0,460.3 356.3,460.0 C355.6,459.7 354.8,459.0 354.4,458.5 C354.0,458.0 353.6,456.9 353.9,456.9Z"/>
<path d="M413.4,467.6 C414.0,466.4 415.2,465.3 416.1,464.9 C417.0,464.5 417.8,464.9 418.9,465.4 C420.0,465.9 421.3,467.9 422.5,468.0 C423.7,468.1 425.4,465.9 426.2,465.8 C427.0,465.7 426.5,467.0 427.1,467.6 C427.7,468.2 429.0,468.6 429.8,469.5 C430.6,470.4 431.8,471.7 432.0,473.1 C432.2,474.5 431.3,476.5 430.8,477.7 C430.3,478.9 429.7,479.5 428.9,480.4 C428.1,481.3 426.9,482.3 426.2,483.2 C425.4,484.1 425.3,485.9 424.4,485.9 C423.5,485.9 421.9,484.1 420.7,483.2 C419.5,482.3 418.1,481.3 417.0,480.4 C415.9,479.5 415.1,479.1 414.3,477.7 C413.6,476.3 412.6,473.9 412.5,472.2 C412.4,470.5 412.8,468.8 413.4,467.6Z"/>
<path d="M482.9,489.6 C483.3,489.0 483.8,488.2 484.7,488.7 C485.6,489.1 487.2,490.6 488.4,492.3 C489.6,494.0 490.8,496.7 492.0,498.7 C493.2,500.7 494.2,502.5 495.7,504.2 C497.2,505.9 499.7,507.4 501.2,508.8 C502.7,510.2 503.9,511.3 504.8,512.4 C505.7,513.5 506.5,515.3 506.3,515.6 C506.1,515.9 505.0,515.3 503.9,514.3 C502.8,513.3 501.1,511.1 499.4,509.7 C497.7,508.3 495.7,507.2 493.9,506.0 C492.1,504.8 489.9,503.9 488.4,502.4 C486.9,500.9 485.8,498.6 484.7,496.9 C483.6,495.2 482.3,493.5 482.0,492.3 C481.7,491.1 482.4,490.2 482.9,489.6Z"/>
<path d="M413.4,376.5 C414.0,375.9 415.8,374.6 417.0,374.3 C418.2,374.0 419.5,374.4 420.7,374.7 C421.9,374.9 423.4,375.2 424.4,375.8 C425.4,376.4 426.2,377.3 426.5,378.0 C426.8,378.7 426.6,378.9 426.2,379.8 C425.8,380.7 424.9,382.0 424.4,383.5 C423.8,385.0 423.1,386.9 422.9,389.0 C422.7,391.1 423.6,394.6 423.4,396.3 C423.2,398.0 422.2,398.7 421.6,399.0 C421.0,399.3 420.2,398.9 419.8,398.1 C419.4,397.4 419.2,396.0 418.9,394.5 C418.6,393.0 418.6,390.8 418.0,389.0 C417.4,387.2 416.0,385.3 415.2,383.5 C414.4,381.7 413.7,379.2 413.4,378.0 C413.1,376.8 412.8,377.1 413.4,376.5Z"/>
<path d="M430.8,388.1 C430.9,387.6 432.6,386.7 433.5,386.8 C434.4,386.9 435.4,388.3 436.3,389.0 C437.2,389.7 438.7,390.1 439.0,390.8 C439.3,391.5 438.7,392.9 438.1,393.0 C437.5,393.1 436.2,392.2 435.3,391.7 C434.4,391.2 433.4,390.5 432.6,389.9 C431.9,389.3 430.7,388.6 430.8,388.1Z"/>
<path d="M443.7,395.6 C443.9,395.2 445.1,394.6 446.0,394.5 C446.9,394.4 448.3,394.6 449.0,394.8 C449.7,395.1 450.2,395.6 450.0,396.0 C449.8,396.4 448.8,396.8 448.0,397.0 C447.2,397.2 445.7,397.2 445.0,397.0 C444.3,396.8 443.5,396.0 443.7,395.6Z"/>
<path d="M552.4,433.5 C553.1,432.9 555.0,432.6 556.2,432.7 C557.4,432.8 558.9,433.5 559.7,434.4 C560.5,435.2 560.5,436.7 560.9,437.8 C561.2,438.9 561.4,440.0 561.8,440.8 C562.2,441.6 562.3,442.1 563.1,442.5 C563.9,442.9 565.5,442.9 566.5,443.4 C567.5,443.9 568.6,444.4 569.0,445.5 C569.4,446.6 568.7,448.5 568.6,449.8 C568.5,451.1 568.7,452.1 568.6,453.2 C568.5,454.3 568.1,455.7 567.8,456.6 C567.4,457.5 567.0,458.1 566.5,458.7 C566.0,459.3 565.2,459.4 564.8,460.0 C564.4,460.6 564.3,462.3 563.9,462.6 C563.5,462.9 562.9,461.9 562.2,461.7 C561.5,461.5 560.5,461.4 559.7,461.7 C558.9,462.0 558.1,462.6 557.5,463.4 C556.9,464.2 556.4,466.0 555.8,466.4 C555.2,466.8 554.5,466.5 553.7,466.0 C552.9,465.5 552.0,464.2 551.1,463.4 C550.2,462.6 549.3,462.0 548.6,461.3 C547.9,460.6 547.2,459.8 546.8,459.2 C546.4,458.6 546.1,458.2 546.4,457.5 C546.7,456.8 547.8,455.8 548.6,454.9 C549.4,454.0 550.6,453.4 551.1,452.3 C551.6,451.2 551.6,449.5 551.8,448.1 C551.9,446.7 552.0,445.1 552.0,443.8 C552.0,442.5 551.5,441.7 551.5,440.4 C551.5,439.1 551.6,437.2 551.8,436.1 C551.9,435.0 551.7,434.1 552.4,433.5Z"/>
<path d="M503.0,432.9 C503.3,433.3 504.2,435.5 504.8,435.6 C505.4,435.8 506.2,433.3 506.7,433.8 C507.2,434.3 507.6,437.2 508.0,438.7 C508.4,440.2 508.9,442.5 509.3,442.9 C509.7,443.2 510.2,441.2 510.6,440.8 C511.0,440.4 511.3,440.2 511.8,440.4 C512.3,440.5 512.6,441.3 513.5,441.7 C514.4,442.1 515.9,442.3 517.0,442.5 C518.1,442.7 519.3,443.2 519.9,442.9 C520.5,442.6 520.4,441.4 520.8,440.8 C521.2,440.2 521.6,439.6 522.1,439.5 C522.6,439.4 523.4,440.0 523.8,440.4 C524.1,440.8 523.9,441.7 524.2,442.1 C524.5,442.5 525.0,442.8 525.5,442.9 C526.0,443.0 526.6,442.2 527.2,442.5 C527.8,442.8 528.4,443.8 529.3,444.6 C530.1,445.4 531.2,446.4 532.3,447.2 C533.4,448.0 534.6,448.7 535.7,449.3 C536.9,449.9 538.2,450.1 539.2,450.6 C540.2,451.1 541.1,451.7 541.7,452.3 C542.3,452.9 542.7,454.2 542.6,454.5 C542.5,454.8 541.5,454.3 540.9,454.0 C540.2,453.7 539.4,453.0 538.7,452.8 C538.0,452.6 537.3,452.6 536.6,452.8 C535.9,453.0 535.1,453.4 534.5,454.0 C533.9,454.6 533.9,455.8 533.2,456.2 C532.6,456.6 531.6,456.7 530.6,456.6 C529.6,456.5 528.2,456.0 527.2,455.7 C526.2,455.4 525.5,455.1 524.6,454.9 C523.7,454.7 522.6,454.8 521.7,454.5 C520.9,454.2 520.3,453.4 519.5,453.2 C518.7,453.0 517.6,452.9 517.0,453.2 C516.4,453.5 516.2,454.0 516.1,454.9 C516.0,455.8 516.5,457.3 516.5,458.3 C516.5,459.3 516.1,459.9 516.1,460.9 C516.1,461.9 516.0,463.4 516.5,464.3 C517.0,465.2 518.2,465.7 519.1,466.4 C520.0,467.1 521.1,467.8 522.1,468.6 C523.1,469.4 524.2,470.1 525.1,471.1 C526.0,472.1 526.6,473.5 527.2,474.5 C527.8,475.5 528.0,476.2 528.5,477.1 C529.0,478.0 529.5,478.9 530.2,479.7 C530.9,480.5 532.3,481.1 532.8,481.8 C533.3,482.5 533.6,483.4 533.2,483.9 C532.8,484.4 531.2,484.2 530.6,484.8 C530.0,485.4 529.9,486.3 529.8,487.3 C529.7,488.3 530.2,489.5 530.2,490.8 C530.2,492.1 529.9,494.3 529.8,495.0"/>
<path d="M450.0,419.2 C450.9,418.9 453.4,417.4 455.5,417.3 C457.6,417.2 461.1,418.6 462.8,418.6 C464.5,418.6 464.3,417.2 465.5,417.3 C466.7,417.4 468.1,418.4 470.1,419.2 C472.1,420.0 475.3,420.5 477.4,421.9 C479.5,423.3 481.4,425.6 482.9,427.4 C484.4,429.2 485.7,431.1 486.6,432.9 C487.5,434.7 488.2,436.3 488.4,438.4 C488.6,440.5 487.9,443.6 488.0,445.7 C488.1,447.8 488.6,449.9 489.3,451.2 C490.0,452.5 490.6,452.9 492.0,453.4 C493.4,453.8 496.0,454.3 497.5,453.9 C499.0,453.5 500.3,452.6 501.2,451.2 C502.1,449.8 502.9,447.4 503.0,445.7 C503.1,444.0 502.9,442.3 502.1,441.1 C501.3,439.9 498.8,439.5 498.4,438.4 C497.9,437.3 498.6,435.6 499.4,434.7 C500.2,433.8 502.4,433.2 503.0,432.9"/>
<path d="M530.6,474.1 C531.0,474.1 532.9,474.9 534.0,475.4 C535.1,475.9 536.6,476.4 537.5,477.1 C538.4,477.8 539.3,478.9 539.6,479.7 C539.9,480.5 539.6,481.6 539.2,482.2 C538.9,482.8 538.1,483.2 537.5,483.1 C536.9,483.0 536.3,482.3 535.7,481.4 C535.1,480.5 534.7,478.9 534.0,477.9 C533.3,476.9 532.1,476.0 531.5,475.4 C530.9,474.8 530.2,474.1 530.6,474.1Z"/>
<path d="M539.2,480.5 C539.7,480.3 541.3,480.8 542.6,480.9 C543.9,481.0 545.7,481.2 546.8,481.4 C547.9,481.6 549.1,481.8 549.4,482.2 C549.7,482.6 549.3,483.6 548.6,483.9 C547.9,484.2 546.2,484.0 545.1,483.9 C544.0,483.8 542.6,483.4 541.7,483.1 C540.8,482.8 540.0,482.6 539.6,482.2 C539.2,481.8 538.7,480.7 539.2,480.5Z"/>
<path d="M548.6,484.8 C548.9,484.4 550.1,484.0 551.1,483.9 C552.1,483.8 553.6,484.0 554.5,484.3 C555.4,484.6 556.4,485.1 556.7,485.6 C557.0,486.1 556.9,486.9 556.2,487.2 C555.6,487.5 553.9,487.4 552.8,487.3 C551.7,487.2 550.1,486.9 549.4,486.5 C548.7,486.1 548.3,485.2 548.6,484.8Z"/>
<path d="M330.0,466.8 C331.0,466.9 333.9,467.1 335.9,467.3 C337.8,467.6 339.4,467.8 341.7,468.3 C344.0,468.8 347.2,470.1 349.5,470.2 C351.8,470.3 353.4,469.4 355.4,468.8 C357.3,468.2 360.0,467.0 361.2,466.8 C362.4,466.6 362.0,467.0 362.7,467.8 C363.4,468.6 364.1,470.8 365.1,471.7 C366.2,472.6 367.9,472.7 369.0,473.2 C370.1,473.7 371.0,474.8 372.0,474.6 C373.0,474.4 373.9,472.3 374.9,472.2 C375.8,472.1 376.7,473.1 377.7,474.0 C378.7,474.9 379.4,476.2 380.7,477.6 C382.0,479.0 384.1,481.3 385.6,482.4 C387.1,483.5 388.5,483.4 389.5,484.4 C390.5,485.4 390.4,487.4 391.5,488.3 C392.6,489.2 394.9,489.2 395.9,489.8 C396.9,490.4 397.5,490.8 397.3,491.7 C397.1,492.6 395.5,493.7 394.9,495.1 C394.2,496.5 393.6,498.2 393.4,500.0 C393.1,501.8 393.4,503.9 393.4,505.9 C393.4,507.9 393.1,510.4 393.4,512.0 C393.7,513.6 394.6,514.4 395.2,515.6 C395.8,516.8 396.9,518.3 397.1,519.3 C397.3,520.3 397.1,520.7 396.5,521.7 C395.9,522.7 394.3,524.5 393.4,525.4 C392.5,526.3 391.7,526.2 391.0,527.2 C390.3,528.2 389.2,530.1 389.1,531.5 C389.0,532.9 390.4,534.9 390.4,535.7 C390.4,536.5 389.6,535.6 389.1,536.3 C388.6,537.0 387.7,539.7 387.3,540.0 C386.9,540.3 387.2,538.2 386.7,538.2 C386.2,538.2 385.2,539.3 384.3,540.0 C383.4,540.7 382.1,541.5 381.2,542.4 C380.3,543.3 379.7,545.4 378.8,545.5 C377.9,545.6 376.7,543.3 375.7,543.0 C374.7,542.7 373.4,544.3 372.7,543.7 C372.0,543.1 372.1,540.3 371.5,539.4 C370.9,538.5 370.0,538.9 369.0,538.2 C368.0,537.5 366.6,536.4 365.4,535.1 C364.2,533.8 362.7,531.8 361.7,530.2 C360.7,528.6 359.7,527.0 359.3,525.4 C358.9,523.8 359.9,522.1 359.3,520.5 C358.7,518.9 356.8,516.8 355.6,515.6 C354.4,514.4 352.9,514.6 352.0,513.2 C351.1,511.8 350.7,508.9 350.5,507.1 C350.3,505.3 350.9,503.8 350.7,502.2 C350.5,500.6 350.1,498.7 349.5,497.3 C348.9,495.9 348.0,494.9 347.1,493.7 C346.2,492.5 345.0,491.2 344.0,490.0 C343.0,488.8 342.0,487.4 341.0,486.5 C340.0,485.6 339.0,485.6 337.8,484.9 C336.6,484.2 334.9,483.8 333.9,482.4 C332.9,481.0 332.8,478.2 332.0,476.6 C331.2,475.0 330.1,473.3 329.2,472.7 C328.3,472.1 327.4,472.9 326.5,473.1 C325.6,473.3 324.4,474.1 323.7,474.0 C323.0,473.9 322.4,473.1 322.3,472.2 C322.2,471.3 322.2,469.4 322.8,468.5 C323.4,467.6 324.4,467.0 325.6,466.7 C326.8,466.4 329.3,466.8 330.0,466.8"/>
<path d="M366.6,542.4 C366.9,541.9 368.3,541.0 369.0,541.0 C369.7,541.0 370.5,541.4 370.9,542.4 C371.3,543.4 371.6,546.3 371.5,547.3 C371.4,548.3 370.7,548.7 370.2,548.5 C369.7,548.3 368.9,546.8 368.4,546.1 C367.9,545.4 367.5,544.9 367.2,544.3 C366.9,543.7 366.3,542.9 366.6,542.4Z"/>
<path d="M385.5,551.6 C385.9,551.3 386.7,551.7 387.3,552.2 C387.9,552.7 388.7,553.8 389.1,554.6 C389.5,555.4 390.0,556.5 389.8,557.1 C389.6,557.7 388.5,558.4 387.9,558.3 C387.3,558.2 386.6,557.2 386.1,556.5 C385.6,555.8 385.2,554.8 385.1,554.0 C385.0,553.2 385.1,551.9 385.5,551.6Z"/>
<path d="M419.8,528.0 C419.2,528.9 418.9,531.7 418.9,533.5 C418.9,535.3 419.2,537.2 419.8,539.0 C420.4,540.8 421.8,543.0 422.2,544.5 C422.6,546.0 422.1,547.0 422.5,548.1 C422.9,549.2 423.8,551.4 424.4,551.4 C425.0,551.4 425.6,549.6 426.2,548.1 C426.8,546.6 427.2,544.4 427.7,542.6 C428.1,540.8 428.5,538.9 428.9,537.1 C429.2,535.3 429.5,533.2 429.8,531.7 C430.1,530.2 430.8,529.5 430.8,528.0 C430.8,526.5 430.5,524.3 430.0,523.0 C429.5,521.7 428.8,520.5 428.0,520.0 C427.2,519.5 425.8,519.3 425.0,520.0 C424.2,520.7 423.7,522.7 423.3,524.0 C422.9,525.3 423.3,527.3 422.7,528.0 C422.1,528.7 420.4,527.1 419.8,528.0Z"/>
<path d="M450.0,531.7 C450.3,533.2 452.2,534.8 453.6,536.2 C455.0,537.6 456.7,539.1 458.2,539.9 C459.7,540.7 461.6,541.5 462.8,541.2 C464.0,540.9 465.1,539.4 465.5,538.1 C465.9,536.8 465.8,534.9 465.5,533.5 C465.2,532.1 464.5,530.7 463.7,529.8 C462.9,528.9 462.2,528.5 460.9,528.0 C459.6,527.5 457.5,526.6 456.0,526.5 C454.5,526.4 453.0,526.6 452.0,527.5 C451.0,528.4 449.7,530.2 450.0,531.7Z"/>
<path d="M386.0,550.9 C386.6,550.6 388.1,552.5 388.7,553.6 C389.3,554.7 389.9,556.5 389.6,557.3 C389.3,558.1 387.7,558.5 386.9,558.2 C386.1,557.9 385.1,556.6 385.0,555.4 C384.9,554.2 385.4,551.2 386.0,550.9Z"/>
<path d="M365.8,623.1 C366.3,621.9 367.8,622.2 368.6,622.5 C369.4,622.8 370.2,624.0 370.4,625.0 C370.5,626.0 370.3,627.9 369.5,628.6 C368.7,629.4 366.4,630.4 365.8,629.5 C365.2,628.6 365.3,624.3 365.8,623.1Z"/>
<path d="M417.0,562.8 C417.9,562.2 420.4,561.6 421.6,561.8 C422.8,561.9 423.5,562.9 424.4,563.7 C425.3,564.5 425.9,565.8 427.1,566.4 C428.3,567.0 430.0,566.8 431.7,567.3 C433.4,567.8 435.4,568.4 437.2,569.2 C439.0,570.0 440.9,570.8 442.7,571.9 C444.5,573.0 446.3,574.2 448.1,575.6 C449.9,577.0 451.8,578.9 453.6,580.1 C455.4,581.3 457.9,581.8 459.1,582.9 C460.3,584.0 460.1,586.0 460.9,586.5 C461.7,587.0 462.9,586.2 463.7,585.6 C464.5,585.0 464.6,583.6 465.5,582.9 C466.4,582.2 467.8,581.5 469.2,581.4 C470.6,581.2 472.5,581.5 473.7,582.0 C474.9,582.5 475.7,583.8 476.5,584.7 C477.3,585.6 477.5,587.1 478.3,587.4 C479.1,587.7 480.0,587.0 481.1,586.5 C482.2,586.0 483.3,585.2 484.7,584.7 C486.1,584.2 488.1,584.1 489.3,583.8 C490.5,583.5 491.2,582.8 492.0,582.9 C492.8,583.0 493.6,583.6 493.9,584.7 C494.2,585.8 494.1,587.8 493.9,589.3 C493.6,590.8 492.7,592.0 492.4,593.8 C492.1,595.6 492.4,598.5 492.0,600.3 C491.6,602.1 490.8,603.4 490.2,604.8 C489.6,606.2 489.3,607.4 488.4,608.5 C487.5,609.6 485.9,610.3 484.7,611.2 C483.5,612.1 482.3,613.2 481.1,614.0 C479.9,614.8 478.6,615.2 477.4,615.8 C476.2,616.4 474.6,616.7 473.7,617.6 C472.8,618.5 472.5,619.8 471.9,621.3 C471.3,622.8 471.0,625.3 470.1,626.8 C469.2,628.3 467.6,629.4 466.4,630.4 C465.2,631.4 463.9,631.7 462.8,632.6 C461.7,633.5 461.2,635.2 460.0,635.9 C458.8,636.6 457.5,636.5 455.5,636.8 C453.5,637.0 450.6,637.2 448.1,637.4 C445.7,637.6 442.9,637.7 440.8,638.1 C438.7,638.5 437.1,638.9 435.3,639.6 C433.5,640.3 431.2,641.4 429.8,642.3 C428.4,643.2 427.9,644.0 427.1,645.1 C426.4,646.2 426.1,647.5 425.3,648.7 C424.5,649.9 423.3,652.0 422.5,652.4 C421.7,652.8 420.8,651.8 420.3,650.9 C419.9,650.0 419.6,648.5 419.8,646.9 C420.0,645.3 421.1,643.1 421.6,641.4 C422.1,639.7 422.8,638.0 422.9,636.8 C423.0,635.6 422.5,635.2 422.2,634.1 C421.9,633.0 421.1,631.6 421.1,630.4 C421.1,629.2 421.6,628.0 422.2,626.8 C422.8,625.6 423.9,624.2 424.4,623.1 C424.9,622.0 424.9,621.6 425.3,620.4 C425.8,619.2 426.7,617.8 427.1,615.8 C427.5,613.8 427.6,610.9 427.7,608.5 C427.8,606.1 427.8,603.7 428.0,601.2 C428.2,598.8 428.6,596.2 428.9,593.8 C429.1,591.3 429.4,588.9 429.5,586.5 C429.6,584.1 429.9,581.0 429.8,579.2 C429.7,577.4 429.5,576.5 428.9,575.6 C428.3,574.7 427.3,574.3 426.2,573.7 C425.1,573.1 423.7,572.2 422.5,571.9 C421.3,571.6 420.0,572.0 418.9,571.9 C417.8,571.8 416.7,571.5 416.1,571.0 C415.6,570.5 415.6,570.1 415.6,569.2 C415.6,568.3 415.9,566.6 416.1,565.5 C416.3,564.4 416.1,563.4 417.0,562.8Z"/>
<path d="M459.1,634.1 C460.2,633.2 461.6,632.4 462.8,632.3 C464.0,632.1 465.4,632.5 466.4,633.2 C467.4,634.0 468.4,635.3 468.6,636.8 C468.9,638.3 468.4,640.6 467.9,642.3 C467.4,644.0 466.4,645.7 465.5,646.9 C464.6,648.1 463.7,648.7 462.8,649.6 C461.9,650.5 461.1,651.8 460.0,652.4 C458.9,653.0 457.3,653.9 456.4,653.3 C455.5,652.7 454.6,650.1 454.5,648.7 C454.4,647.3 455.0,646.3 455.5,645.1 C456.0,643.9 457.2,642.6 457.3,641.4 C457.4,640.2 456.1,638.9 456.4,637.7 C456.7,636.5 458.0,635.0 459.1,634.1Z"/>
<path d="M469.2,678.0 C469.6,677.4 471.1,675.5 471.9,674.3 C472.6,673.1 473.2,672.2 473.7,670.7 C474.2,669.2 474.3,667.0 474.7,665.2 C475.1,663.4 475.8,661.5 475.9,659.7 C476.0,657.9 476.0,655.9 475.6,654.2 C475.2,652.5 473.9,651.1 473.7,649.6 C473.5,648.1 474.1,646.8 474.7,645.1 C475.3,643.4 476.3,641.4 477.4,639.6 C478.5,637.8 480.3,636.2 481.1,634.1 C481.9,632.0 481.1,628.6 482.0,626.8 C482.9,625.0 485.3,623.9 486.6,623.1 C487.9,622.3 488.9,622.3 490.0,621.8 C491.1,621.3 492.0,620.8 493.3,620.2 C494.6,619.7 496.2,618.6 497.7,618.5 C499.2,618.4 500.6,619.1 502.1,619.6 C503.6,620.1 504.9,620.9 506.5,621.3 C508.1,621.7 510.4,621.3 512.0,621.8 C513.6,622.2 515.2,622.9 516.3,624.0 C517.4,625.1 518.3,626.8 518.5,628.4 C518.7,630.0 517.9,632.4 517.4,633.9 C516.9,635.4 516.2,635.9 515.8,637.2 C515.3,638.5 515.2,640.1 514.7,641.6 C514.2,643.1 513.8,644.7 513.0,646.0 C512.2,647.3 510.9,648.0 509.8,649.3 C508.7,650.6 507.4,652.2 506.5,653.7 C505.6,655.2 504.9,656.2 504.3,658.0 C503.7,659.8 503.2,662.4 502.6,664.6 C502.1,666.8 501.6,669.0 501.0,671.2 C500.4,673.4 499.6,676.9 499.3,678.0"/>
<path d="M509.8,678.0 C510.0,677.2 510.2,675.1 510.9,673.4 C511.6,671.7 512.8,669.9 514.1,667.9 C515.4,665.9 517.2,663.3 518.5,661.3 C519.8,659.3 520.7,657.7 521.8,655.9 C522.9,654.1 524.2,652.0 525.1,650.4 C526.0,648.8 526.8,647.5 527.3,646.0 C527.8,644.5 527.7,643.4 528.4,641.6 C529.1,639.8 530.6,637.0 531.7,635.0 C532.8,633.0 534.1,631.3 535.0,629.5 C535.9,627.7 536.5,625.8 537.2,624.0 C537.9,622.2 538.9,620.1 539.4,618.5 C539.9,616.9 540.0,615.2 540.5,614.1 C541.0,613.0 541.9,612.9 542.1,612.0 C542.3,611.1 541.5,609.8 541.6,608.7 C541.7,607.6 542.2,606.4 542.7,605.4 C543.2,604.4 544.2,603.2 544.9,602.6 C545.6,602.0 546.5,601.6 547.1,601.5 C547.7,601.4 547.9,601.5 548.2,602.1 C548.5,602.8 548.8,604.1 548.7,605.4 C548.6,606.7 547.9,608.5 547.6,609.8 C547.3,611.1 547.1,611.5 547.1,613.0 C547.1,614.5 547.4,616.5 547.6,618.5 C547.8,620.5 548.4,623.1 548.2,625.1 C548.0,627.1 547.0,629.0 546.5,630.6 C546.0,632.2 544.9,633.5 544.9,635.0 C544.9,636.5 546.1,638.1 546.5,639.4 C546.9,640.7 547.0,641.2 547.1,642.7 C547.2,644.2 547.3,646.4 547.1,648.2 C546.9,650.0 546.4,652.2 546.0,653.7 C545.6,655.2 545.4,656.2 544.9,657.0 C544.4,657.8 543.5,658.2 542.7,658.6 C541.9,659.0 540.8,658.7 539.9,659.1 C539.0,659.5 538.2,660.4 537.2,661.3 C536.2,662.2 535.2,663.7 533.9,664.6 C532.6,665.5 530.8,665.9 529.5,666.8 C528.2,667.7 527.2,669.0 526.2,670.1 C525.2,671.2 524.0,672.1 523.5,673.4 C523.0,674.7 523.0,677.2 522.9,678.0"/>
<path d="M526.8,602.1 C527.2,601.4 528.4,600.4 529.0,600.4 C529.6,600.4 530.1,601.3 530.6,602.1 C531.1,602.9 531.8,604.2 532.3,605.4 C532.8,606.6 534.0,608.5 533.7,609.2 C533.4,609.9 531.6,609.8 530.6,609.5 C529.6,609.2 528.6,608.4 527.9,607.6 C527.2,606.8 526.6,605.7 526.4,604.8 C526.2,603.9 526.4,602.8 526.8,602.1Z"/>
<path d="M540.5,660.2 C540.7,659.4 541.8,658.3 542.7,658.0 C543.6,657.7 545.5,658.1 546.0,658.6 C546.5,659.1 546.1,660.6 545.4,661.3 C544.7,662.0 542.4,663.2 541.6,663.0 C540.8,662.8 540.3,661.0 540.5,660.2Z"/>
<path d="M549.3,678.0 C549.7,677.0 550.4,673.7 551.5,672.3 C552.6,670.9 554.3,670.2 555.9,669.6 C557.5,669.0 559.7,668.6 561.3,668.5 C562.9,668.4 564.4,668.5 565.7,669.0 C567.0,669.5 567.7,671.1 569.0,671.8 C570.3,672.5 571.9,673.3 573.4,673.4 C574.9,673.5 576.7,672.7 577.8,672.3 C578.9,671.9 580.5,671.1 580.0,671.2 C579.5,671.3 575.6,673.1 575.1,673.0 C574.6,672.9 576.4,671.4 577.3,670.8 C578.2,670.2 580.0,669.5 580.6,669.2"/>
<path d="M498.5,523.2 C498.9,522.3 500.2,522.5 501.0,522.6 C501.8,522.7 502.7,523.3 503.4,523.8 C504.1,524.3 504.4,525.1 505.2,525.6 C506.0,526.1 507.3,526.4 508.3,526.8 C509.3,527.2 510.3,527.4 511.3,528.0 C512.3,528.6 513.3,529.7 514.4,530.5 C515.5,531.3 517.0,532.1 518.0,532.9 C519.0,533.7 519.6,534.8 520.5,535.4 C521.4,536.0 522.5,536.0 523.5,536.6 C524.5,537.2 525.5,538.0 526.6,539.0 C527.7,540.0 529.2,541.6 530.2,542.7 C531.2,543.8 531.7,545.1 532.7,545.7 C533.7,546.3 535.2,545.8 536.3,546.3 C537.4,546.8 538.4,547.8 539.4,548.8 C540.4,549.8 541.5,551.2 542.4,552.4 C543.3,553.6 544.2,554.9 544.9,556.1 C545.6,557.3 546.3,558.6 546.7,559.8 C547.1,561.0 547.1,562.0 547.3,563.4 C547.5,564.8 547.7,566.7 547.9,568.3 C548.1,569.9 548.4,572.2 548.3,573.2 C548.2,574.2 547.7,574.6 547.3,574.4 C546.9,574.2 546.7,572.8 546.1,572.0 C545.5,571.2 544.5,570.1 543.7,569.5 C542.9,568.9 542.0,568.8 541.2,568.3 C540.4,567.8 539.8,567.1 538.8,566.5 C537.8,565.9 536.3,565.2 535.1,564.6 C533.9,564.0 532.7,563.5 531.5,562.8 C530.3,562.1 528.7,561.3 527.8,560.4 C526.9,559.5 526.7,558.4 526.0,557.3 C525.3,556.2 524.3,554.7 523.5,553.7 C522.7,552.7 521.9,552.1 521.1,551.2 C520.3,550.3 519.6,549.1 518.7,548.2 C517.8,547.3 516.6,546.2 515.6,545.7 C514.6,545.2 513.6,545.0 512.6,545.1 C511.6,545.2 510.4,545.7 509.5,546.3 C508.6,546.9 507.9,547.9 507.1,548.8 C506.3,549.7 505.4,550.8 504.6,551.8 C503.8,552.8 503.2,553.9 502.2,554.9 C501.2,555.9 499.6,557.0 498.5,557.9 C497.4,558.8 496.3,559.7 495.5,560.4 C494.7,561.1 494.1,562.3 493.7,562.2 C493.3,562.1 493.2,560.8 493.4,559.8 C493.6,558.8 494.3,557.1 494.9,556.1 C495.4,555.1 496.1,554.5 496.7,553.7 C497.3,552.9 498.3,552.4 498.5,551.2 C498.7,550.0 497.8,547.7 497.9,546.3 C498.0,544.9 499.0,543.9 499.1,542.7 C499.2,541.5 498.4,540.2 498.5,539.0 C498.6,537.8 499.4,536.6 499.5,535.4 C499.6,534.2 499.0,532.9 498.8,531.7 C498.6,530.5 498.6,529.4 498.5,528.0 C498.4,526.6 498.1,524.1 498.5,523.2Z"/>
<path d="M519.9,518.3 C520.2,517.5 520.8,516.6 521.7,516.8 C522.6,517.0 524.4,518.6 525.4,519.5 C526.4,520.4 527.2,521.0 527.8,522.0 C528.4,523.0 528.5,524.2 529.0,525.6 C529.5,527.0 530.4,528.9 530.9,530.5 C531.4,532.1 532.0,534.3 532.1,535.4 C532.2,536.5 532.0,537.2 531.5,537.2 C531.0,537.2 529.8,536.3 529.0,535.4 C528.2,534.5 527.4,532.9 526.6,531.7 C525.8,530.5 524.9,529.2 524.1,528.0 C523.3,526.8 522.4,525.5 521.7,524.4 C521.0,523.3 520.2,522.3 519.9,521.3 C519.6,520.3 519.6,519.0 519.9,518.3Z"/>
<path d="M514.0,498.7 C514.1,498.9 513.7,499.4 514.4,500.0 C515.1,500.6 516.8,501.6 518.0,502.4 C519.2,503.2 520.5,504.4 521.7,504.9 C522.9,505.4 524.4,505.5 525.4,505.5 C526.4,505.5 526.8,504.8 527.8,504.9 C528.8,505.0 530.5,505.5 531.5,506.1 C532.5,506.7 533.3,507.5 533.9,508.5 C534.5,509.5 534.7,511.0 535.1,512.2 C535.5,513.4 535.7,514.7 536.3,515.9 C536.9,517.1 538.0,518.4 538.8,519.5 C539.6,520.6 540.4,521.7 541.2,522.6 C542.0,523.5 542.8,524.5 543.7,525.0 C544.6,525.5 545.7,525.8 546.7,525.6 C547.7,525.4 549.2,524.6 549.8,523.8 C550.4,523.0 550.1,521.8 550.4,520.7 C550.7,519.6 551.2,518.5 551.6,517.1 C552.0,515.7 552.6,514.0 552.8,512.2 C553.0,510.4 552.9,507.7 552.8,506.1 C552.7,504.5 552.4,503.4 552.2,502.4 C552.0,501.4 552.1,500.9 551.6,500.0 C551.1,499.1 549.9,498.1 549.0,497.0 C548.1,495.9 547.1,494.2 546.0,493.3 C544.9,492.4 543.7,492.2 542.6,491.6 C541.5,491.0 540.4,489.8 539.2,489.5 C538.1,489.2 536.9,489.5 535.7,489.9 C534.5,490.3 532.9,491.9 532.0,492.0 C531.1,492.1 530.6,491.6 530.2,490.8 C529.8,490.0 529.7,488.3 529.8,487.3 C529.9,486.3 530.0,485.4 530.6,484.8 C531.2,484.2 532.8,484.0 533.2,483.9"/>
<path d="M526.6,502.4 C526.6,501.7 529.5,501.5 531.5,501.2 C533.5,500.9 536.6,500.6 538.8,500.6 C541.0,500.6 543.8,500.7 544.9,501.2 C546.0,501.7 546.1,502.9 545.5,503.7 C544.9,504.5 542.7,505.6 541.2,506.1 C539.7,506.6 537.9,506.8 536.3,506.7 C534.7,506.6 533.1,506.2 531.5,505.5 C529.9,504.8 526.6,503.1 526.6,502.4Z"/>
<path d="M552.5,530.0 C553.0,529.3 555.0,529.3 555.5,530.0 C556.0,530.7 556.0,533.3 555.5,534.0 C555.0,534.7 553.0,534.7 552.5,534.0 C552.0,533.3 552.0,530.7 552.5,530.0Z"/>
<path d="M553.4,553.6 C554.2,553.3 557.6,553.3 558.4,553.6 C559.2,553.9 559.2,555.1 558.4,555.4 C557.6,555.7 554.2,555.7 553.4,555.4 C552.6,555.1 552.6,553.9 553.4,553.6Z"/>
<path d="M590.0,525.6 C588.8,525.7 585.1,526.2 582.7,526.2 C580.3,526.2 577.9,525.9 575.4,525.6 C572.9,525.3 570.0,524.8 568.0,524.4 C566.0,524.0 564.3,523.3 563.2,523.2 C562.1,523.1 561.6,523.6 561.3,523.8 C561.0,524.0 561.0,523.3 561.3,524.4 C561.6,525.5 562.7,528.7 563.2,530.5 C563.7,532.3 563.9,533.8 564.4,535.4 C564.9,537.0 565.4,538.6 566.2,540.2 C567.0,541.8 568.2,543.5 569.3,545.1 C570.4,546.7 571.5,548.6 572.9,550.0 C574.3,551.4 576.2,552.8 577.8,553.7 C579.4,554.6 581.3,554.9 582.7,555.5 C584.1,556.1 585.3,556.6 586.3,557.3 C587.3,558.0 588.2,559.0 588.8,559.8 C589.4,560.6 589.3,561.5 590.0,562.2 C590.7,562.9 592.0,563.0 592.8,563.9 C593.6,564.8 594.1,566.3 594.9,567.4 C595.7,568.5 596.5,569.5 597.4,570.5 C598.3,571.5 599.5,572.9 600.5,573.1 C601.5,573.3 602.6,571.7 603.6,571.5 C604.6,571.3 605.9,571.5 606.6,572.0 C607.3,572.5 607.9,573.7 607.7,574.6 C607.5,575.5 606.2,576.3 605.6,577.2 C605.0,578.1 604.8,579.2 604.1,580.2 C603.4,581.2 602.5,582.5 601.5,583.3 C600.5,584.1 599.2,584.4 598.4,584.9 C597.5,585.4 596.9,585.8 596.4,586.4 C595.9,587.0 595.3,587.9 595.4,588.4 C595.5,588.9 596.2,589.2 596.9,589.5 C597.6,589.8 598.6,589.7 599.5,590.0 C600.4,590.3 601.2,590.9 602.0,591.5 C602.8,592.1 603.7,592.8 604.1,593.6 C604.5,594.5 604.7,595.6 604.6,596.6 C604.5,597.6 603.5,598.9 603.6,599.7 C603.7,600.5 604.6,601.1 605.1,601.2 C605.6,601.4 605.9,600.6 606.9,600.6 C607.9,600.6 610.0,600.7 611.3,601.1 C612.6,601.5 613.7,602.0 614.6,602.8 C615.5,603.6 616.2,604.9 616.8,606.1 C617.3,607.3 617.3,609.0 617.9,609.9 C618.5,610.8 619.2,611.4 620.1,611.6 C621.0,611.8 622.3,611.0 623.4,611.0 C624.5,611.0 625.6,611.6 626.7,611.6 C627.8,611.6 628.9,611.4 630.0,611.0 C631.1,610.6 632.2,609.4 633.3,609.4 C634.4,609.4 635.7,611.1 636.6,611.0 C637.5,610.9 638.1,609.8 638.8,608.8 C639.5,607.8 640.3,605.7 641.0,605.0 C641.7,604.3 642.2,604.0 643.1,604.4 C644.0,604.8 645.5,606.2 646.4,607.2 C647.3,608.2 647.9,609.2 648.6,610.5 C649.3,611.8 650.6,613.9 650.8,614.9 C651.0,615.9 650.2,616.5 649.7,616.5 C649.2,616.5 648.2,615.7 647.5,614.9 C646.8,614.1 646.1,612.7 645.3,611.6 C644.5,610.5 643.5,609.1 642.6,608.3 C641.7,607.5 640.7,607.2 639.9,606.6 C639.1,606.0 637.9,605.2 637.7,604.4 C637.5,603.6 638.2,602.5 638.8,601.7 C639.3,600.9 640.4,600.2 641.0,599.5 C641.6,598.8 642.5,598.0 642.6,597.3 C642.7,596.6 641.8,595.6 641.5,595.1 C641.2,594.6 641.4,592.9 641.0,594.0 C640.6,595.1 639.9,600.2 639.4,601.8 C638.9,603.4 638.1,603.5 637.9,603.8"/>
<path d="M620.5,528.0 C620.8,528.3 621.4,529.3 622.0,530.0 C622.6,530.7 623.7,531.2 624.1,532.1 C624.5,533.0 624.8,534.4 624.6,535.2 C624.4,536.1 623.1,536.4 623.0,537.2 C622.9,538.0 623.4,539.2 624.1,539.8 C624.8,540.4 626.1,540.5 627.1,540.8 C628.1,541.1 629.2,541.4 630.2,541.8 C631.2,542.2 632.4,542.8 633.3,543.4 C634.2,544.0 635.3,544.6 635.8,545.4 C636.3,546.2 636.5,547.4 636.3,548.0 C636.0,548.6 635.1,548.7 634.3,549.0 C633.5,549.3 631.9,549.4 631.7,550.0 C631.5,550.6 632.7,551.8 633.3,552.6 C633.9,553.4 635.3,553.8 635.3,554.6 C635.3,555.5 634.0,556.7 633.3,557.7 C632.6,558.7 631.6,559.8 631.2,560.8 C630.8,561.8 630.6,562.9 630.7,563.9 C630.8,564.9 631.5,565.7 631.7,566.9 C632.0,568.1 632.0,569.8 632.2,571.0 C632.4,572.2 632.8,573.1 632.8,574.1 C632.8,575.1 632.2,576.2 632.2,577.2 C632.2,578.2 632.4,579.2 632.8,580.2 C633.1,581.2 633.8,582.1 634.3,583.3 C634.8,584.5 635.2,586.0 635.8,587.4 C636.4,588.8 637.1,590.3 637.9,591.5 C638.7,592.7 639.7,593.8 640.4,594.6 C641.1,595.5 641.8,595.8 642.0,596.6 C642.2,597.5 641.9,598.8 641.5,599.7 C641.1,600.6 640.0,601.1 639.4,601.8 C638.8,602.5 638.2,603.1 637.9,603.8 C637.6,604.5 637.2,605.4 637.4,605.9 C637.6,606.4 638.2,607.2 638.9,606.9 C639.6,606.6 641.1,604.7 641.5,604.3"/>
<path d="M590.0,525.6 C591.7,525.7 596.7,526.3 600.0,526.0 C603.3,525.7 607.2,524.5 610.0,524.0 C612.8,523.5 615.2,522.3 617.0,523.0 C618.8,523.7 619.9,527.2 620.5,528.0"/>
<path d="M588.2,575.1 C588.6,575.0 589.5,575.6 590.2,576.1 C590.9,576.6 591.6,577.5 592.3,578.2 C593.0,578.9 593.7,579.4 594.3,580.2 C594.9,581.1 595.7,582.4 595.9,583.3 C596.1,584.2 595.8,585.3 595.4,585.4 C595.0,585.5 594.0,584.4 593.3,583.8 C592.6,583.2 592.0,582.6 591.3,581.8 C590.6,581.0 589.8,580.1 589.2,579.2 C588.6,578.4 587.9,577.4 587.7,576.7 C587.5,576.0 587.8,575.2 588.2,575.1Z"/>
<path d="M565.6,577.4 C566.1,576.9 567.9,576.3 569.3,576.2 C570.7,576.1 572.7,576.3 574.1,576.8 C575.5,577.3 576.8,578.3 577.8,579.3 C578.8,580.3 579.6,581.7 580.2,582.9 C580.8,584.1 581.7,585.7 581.5,586.6 C581.3,587.5 580.0,588.2 579.0,588.4 C578.0,588.6 576.4,588.1 575.4,587.8 C574.4,587.5 573.7,587.2 572.9,586.6 C572.1,586.0 571.3,585.0 570.5,584.1 C569.7,583.2 568.7,581.9 568.0,581.1 C567.3,580.3 566.6,579.9 566.2,579.3 C565.8,578.7 565.1,577.9 565.6,577.4Z"/>
<path d="M563.2,585.4 C563.6,585.8 564.8,586.8 565.6,587.8 C566.4,588.8 567.2,590.5 568.0,591.5 C568.8,592.5 569.5,593.7 570.5,593.9 C571.5,594.1 572.9,592.3 574.1,592.7 C575.3,593.1 576.4,595.5 577.8,596.3 C579.2,597.1 581.1,597.2 582.7,597.6 C584.3,598.0 586.4,598.8 587.6,598.8 C588.8,598.8 589.0,598.4 590.0,597.6 C591.0,596.8 593.3,594.2 593.8,594.0 C594.2,593.8 593.4,595.4 592.7,596.2 C592.0,597.0 590.7,598.3 589.4,598.9 C588.1,599.5 586.5,600.1 585.0,600.0 C583.5,599.9 581.9,599.4 580.6,598.4 C579.3,597.4 577.8,594.7 577.3,594.0"/>
<path d="M563.2,585.4 C563.4,586.2 564.0,588.6 564.4,590.2 C564.8,591.8 565.2,593.7 565.6,595.1 C566.0,596.5 566.4,597.4 566.8,598.8 C567.2,600.1 567.6,601.7 567.9,603.2 C568.2,604.7 568.5,606.1 568.5,607.6 C568.5,609.1 567.8,610.5 567.9,612.0 C568.0,613.5 568.9,614.8 569.0,616.3 C569.1,617.8 568.3,619.6 568.5,620.7 C568.7,621.8 569.3,622.2 570.1,622.9 C570.9,623.6 572.3,624.9 573.4,625.1 C574.5,625.3 576.0,624.7 576.7,624.0 C577.4,623.3 577.2,621.8 577.8,620.7 C578.3,619.6 579.0,617.6 580.0,617.4 C581.0,617.1 582.7,618.2 583.9,619.2 C585.1,620.2 586.1,622.1 587.2,623.6 C588.3,625.1 589.7,626.5 590.5,628.0 C591.3,629.5 591.8,630.8 592.1,632.4 C592.4,634.0 592.4,636.1 592.1,637.9 C591.8,639.7 591.0,641.6 590.5,643.4 C590.0,645.2 589.1,647.1 588.8,648.9 C588.5,650.7 588.4,652.8 588.8,654.4 C589.2,656.0 590.5,657.3 591.0,658.8 C591.5,660.2 591.7,661.6 591.6,663.1 C591.5,664.6 590.4,666.4 590.5,667.5 C590.6,668.6 591.2,669.2 592.1,669.7 C593.0,670.2 594.6,670.2 596.0,670.8 C597.4,671.3 599.0,672.3 600.3,673.0 C601.6,673.7 602.6,674.7 603.6,675.2 C604.6,675.8 605.9,676.7 606.4,676.3 C606.9,675.9 606.8,674.5 606.7,673.0 C606.6,671.5 606.1,669.3 605.8,667.5 C605.5,665.7 605.0,663.6 604.7,662.0 C604.4,660.4 604.4,658.8 604.2,657.7 C604.0,656.6 603.3,655.9 603.6,655.5 C603.9,655.1 605.1,654.8 605.8,655.5 C606.5,656.2 607.3,658.4 608.0,659.9 C608.7,661.4 609.5,663.1 610.2,664.2 C610.9,665.3 611.9,666.4 612.4,666.4 C612.9,666.4 613.0,664.8 613.5,664.2 C614.0,663.6 614.6,663.0 615.7,662.6 C616.8,662.2 619.2,662.6 620.1,662.0 C621.0,661.4 621.2,659.9 621.2,658.8 C621.2,657.7 620.7,656.4 620.1,655.5 C619.5,654.6 618.5,654.4 617.9,653.3 C617.3,652.2 616.7,650.4 616.3,648.9 C615.9,647.4 616.2,646.0 615.7,644.5 C615.2,643.0 614.2,641.6 613.5,640.1 C612.8,638.6 612.4,636.8 611.3,635.7 C610.2,634.6 608.0,634.2 606.9,633.5 C605.8,632.8 605.1,632.4 604.7,631.3 C604.3,630.2 604.5,628.4 604.7,626.9 C604.9,625.4 605.4,624.0 605.8,622.5 C606.2,621.0 606.7,620.1 606.9,618.1 C607.1,616.1 607.0,612.7 606.9,610.5 C606.8,608.3 606.6,606.1 606.4,605.0 C606.2,603.9 606.3,604.3 605.8,603.9 C605.3,603.5 604.1,603.5 603.6,602.8 C603.1,602.1 602.6,600.6 602.5,599.5 C602.4,598.4 603.1,597.1 603.1,596.2 C603.1,595.3 602.9,594.5 602.5,594.0 C602.1,593.5 601.3,593.3 600.5,593.0 C599.7,592.7 598.8,592.4 597.9,592.3 C597.0,592.2 596.2,592.1 595.4,592.5 C594.6,592.9 594.2,593.7 593.3,594.6 C592.4,595.5 590.7,597.2 590.2,597.7"/>
<path d="M574.0,624.7 C574.4,624.3 575.7,623.4 576.2,622.5 C576.8,621.6 576.6,620.0 577.3,619.2 C578.0,618.4 580.0,617.9 580.6,617.6"/>
<path d="M645.9,630.2 C646.0,629.5 646.9,628.9 647.5,629.1 C648.1,629.3 648.8,630.6 649.7,631.3 C650.6,631.9 652.2,632.4 653.0,633.0 C653.8,633.6 654.8,634.7 654.7,635.2 C654.6,635.8 653.3,636.3 652.5,636.3 C651.7,636.3 650.6,635.7 649.7,635.2 C648.8,634.7 647.6,634.3 647.0,633.5 C646.4,632.7 645.8,630.9 645.9,630.2Z"/>
<path d="M635.5,657.7 C636.0,657.0 637.0,656.0 637.7,655.5 C638.4,655.0 639.3,655.1 639.9,654.4 C640.5,653.7 640.9,651.8 641.5,651.1 C642.1,650.5 643.0,650.1 643.7,650.5 C644.4,650.9 645.6,651.7 645.9,653.3 C646.2,654.9 645.2,657.9 645.3,659.9 C645.4,661.9 646.3,663.5 646.4,665.3 C646.5,667.1 645.9,669.0 645.9,670.8 C645.9,672.6 646.4,674.9 646.4,676.3 C646.4,677.7 647.7,678.5 646.0,679.0 C644.3,679.5 637.4,679.8 636.0,679.0 C634.6,678.2 637.8,675.3 637.7,674.1 C637.6,672.9 636.0,672.7 635.5,671.8 C635.0,670.9 634.4,669.9 634.4,668.6 C634.4,667.3 635.4,665.7 635.5,664.2 C635.6,662.8 634.9,661.0 634.9,659.9 C634.9,658.8 635.0,658.4 635.5,657.7Z"/>
<path d="M611.9,669.7 C612.1,669.1 612.7,668.4 613.5,668.6 C614.3,668.8 615.9,669.9 616.8,670.8 C617.7,671.7 618.5,673.0 619.0,674.1 C619.5,675.2 620.4,676.9 620.1,677.4 C619.8,677.9 618.3,677.8 617.4,677.4 C616.5,677.0 615.4,676.0 614.6,675.2 C613.8,674.4 612.9,673.4 612.4,672.5 C611.9,671.6 611.7,670.4 611.9,669.7Z"/>
<path d="M562.0,636.0 C562.6,635.5 564.1,635.2 565.0,635.5 C565.9,635.8 567.1,636.7 567.3,637.5 C567.5,638.3 566.8,639.9 566.0,640.5 C565.2,641.1 563.2,641.3 562.5,641.0 C561.8,640.7 561.6,639.3 561.5,638.5 C561.4,637.7 561.4,636.5 562.0,636.0Z"/>
<path d="M569.0,635.7 C569.5,635.2 571.1,634.8 572.0,635.0 C572.9,635.2 574.2,636.2 574.5,637.0 C574.8,637.8 574.2,639.0 573.5,639.5 C572.8,640.0 570.8,640.3 570.0,640.0 C569.2,639.7 569.0,638.5 568.8,637.8 C568.6,637.1 568.5,636.2 569.0,635.7Z"/>
<path d="M526.8,528.0 C527.5,528.3 528.7,530.3 529.5,531.7 C530.3,533.1 531.4,535.3 531.4,536.2 C531.4,537.1 530.1,537.6 529.5,537.1 C528.9,536.6 528.5,534.7 527.7,533.5 C527.0,532.3 525.1,530.7 525.0,529.8 C524.9,528.9 526.0,527.7 526.8,528.0Z"/>
<path d="M296.3,547.2 C295.8,546.3 295.9,543.9 296.0,542.6 C296.1,541.3 296.6,540.0 297.2,539.3 C297.8,538.6 299.0,538.4 299.6,538.6 C300.2,538.9 300.2,540.1 300.9,540.8 C301.6,541.5 302.5,541.8 303.6,542.6 C304.7,543.4 306.2,544.5 307.3,545.4 C308.4,546.3 308.9,547.3 310.0,548.1 C311.1,548.9 312.6,549.9 313.7,550.0 C314.8,550.1 315.8,549.8 316.4,549.0 C317.0,548.2 316.9,545.9 317.3,545.4 C317.7,544.9 318.2,545.5 318.6,546.3 C319.0,547.1 319.0,549.1 319.7,550.0 C320.4,550.9 322.0,551.0 322.8,551.8 C323.6,552.5 324.6,553.6 324.7,554.5 C324.8,555.4 324.3,556.7 323.7,557.3 C323.1,557.9 322.1,558.2 321.0,558.2 C319.9,558.2 318.5,557.3 317.3,557.3 C316.1,557.3 314.9,558.2 313.7,558.2 C312.5,558.2 311.2,557.6 310.0,557.3 C308.8,557.0 307.5,556.9 306.4,556.4 C305.3,555.9 304.4,555.4 303.6,554.5 C302.8,553.6 302.1,552.0 301.4,550.9 C300.6,549.8 300.0,548.7 299.1,548.1 C298.2,547.5 296.8,548.1 296.3,547.2Z"/>
<path d="M317.3,560.6 C317.6,559.2 321.4,559.5 321.9,560.9 C322.4,562.3 320.9,569.2 320.1,569.2 C319.3,569.2 317.0,562.0 317.3,560.6Z"/>
<path d="M295.4,561.8 C295.8,561.0 297.2,560.1 298.1,560.0 C299.0,559.9 300.3,560.3 300.9,560.9 C301.5,561.5 301.0,563.1 301.8,563.7 C302.6,564.3 304.4,564.0 305.5,564.6 C306.6,565.2 307.8,566.2 308.2,567.3 C308.6,568.4 308.5,569.6 308.2,571.0 C307.9,572.4 307.2,574.4 306.4,575.6 C305.6,576.8 304.5,578.1 303.6,578.3 C302.7,578.4 301.5,577.6 300.9,576.5 C300.3,575.4 300.6,573.4 300.0,571.9 C299.4,570.4 297.9,568.5 297.2,567.3 C296.5,566.1 296.3,565.5 296.0,564.6 C295.7,563.7 295.0,562.6 295.4,561.8Z"/>
<path d="M273.6,592.5 C273.9,592.8 274.6,593.5 275.1,594.3 C275.6,595.1 276.1,596.5 276.6,597.3 C277.1,598.1 277.9,598.2 278.2,599.1 C278.5,600.0 278.6,601.5 278.4,602.6 C278.2,603.7 277.6,604.6 277.2,605.6 C276.8,606.6 276.4,607.5 276.0,608.6 C275.6,609.7 275.1,611.2 275.1,612.2 C275.1,613.2 276.0,613.8 276.0,614.6 C276.0,615.4 275.3,615.9 275.1,616.9 C274.9,617.9 274.7,619.1 274.6,620.5 C274.6,621.9 274.6,624.0 274.8,625.3 C275.0,626.6 275.4,627.6 276.0,628.3 C276.6,629.0 277.8,628.7 278.4,629.5 C279.0,630.3 279.2,631.9 279.6,633.0 C280.0,634.1 280.4,635.1 280.8,636.0 C281.2,636.9 281.6,637.8 282.0,638.4 C282.4,639.0 282.8,638.8 283.2,639.6 C283.6,640.4 283.9,642.3 284.4,643.2 C284.9,644.1 285.7,644.4 286.2,645.0 C286.7,645.6 287.4,646.2 287.3,646.7 C287.2,647.2 286.3,647.4 285.6,647.9 C284.9,648.4 284.0,649.1 283.2,649.7 C282.4,650.3 281.6,650.7 280.8,651.5 C280.0,652.3 279.2,653.8 278.4,654.5 C277.6,655.2 277.0,655.6 276.0,655.7 C275.0,655.8 273.6,655.2 272.4,655.3 C271.2,655.4 270.1,655.7 268.9,656.3 C267.7,656.9 266.5,657.7 265.3,658.7 C264.1,659.7 262.7,661.0 261.7,662.2 C260.7,663.4 259.9,664.4 259.3,665.8 C258.7,667.2 258.5,669.2 258.1,670.6 C257.7,672.0 257.5,673.4 256.9,674.2 C256.3,675.0 255.6,675.0 254.6,675.4 C253.6,675.8 252.2,676.1 251.0,676.5 C249.8,676.9 248.0,677.8 247.4,678.0"/>
<path d="M273.6,592.5 C273.4,592.9 272.8,594.0 272.4,594.9 C272.0,595.8 271.7,596.9 271.3,597.9 C270.9,598.9 270.4,599.9 270.1,600.9 C269.8,601.9 269.7,602.8 269.5,603.8 C269.3,604.8 269.1,606.0 268.9,606.8 C268.7,607.6 268.3,607.9 268.3,608.6 C268.3,609.3 269.1,610.3 268.9,611.0 C268.7,611.7 267.7,612.6 267.1,612.8 C266.5,613.0 265.8,612.1 265.3,612.2 C264.8,612.3 264.4,612.8 264.1,613.4 C263.8,614.0 263.4,615.0 263.5,615.8 C263.6,616.6 264.4,617.3 264.7,618.1 C265.0,618.9 265.4,619.8 265.3,620.5 C265.2,621.2 264.0,621.7 264.1,622.3 C264.2,622.9 265.3,623.5 265.9,624.1 C266.5,624.7 267.2,625.3 267.7,625.9 C268.2,626.5 268.5,627.1 268.9,627.7 C269.3,628.3 269.6,628.9 270.1,629.5 C270.6,630.1 271.4,630.5 271.8,631.3 C272.2,632.1 272.6,633.7 272.4,634.2 C272.2,634.7 271.3,634.5 270.7,634.2 C270.1,633.9 269.5,633.0 268.9,632.4 C268.3,631.8 267.7,631.3 267.1,630.7 C266.5,630.1 265.9,629.5 265.3,628.9 C264.7,628.3 264.1,627.7 263.5,627.1 C262.9,626.5 262.3,625.8 261.7,625.3 C261.1,624.8 260.5,624.7 259.9,624.1 C259.3,623.5 258.2,621.7 257.9,621.7 C257.6,621.7 257.9,623.3 258.1,624.1 C258.3,624.9 258.8,625.7 259.3,626.5 C259.8,627.3 260.7,628.3 261.1,628.9 C261.5,629.5 261.5,629.7 261.7,630.1 C261.9,630.5 262.0,630.8 262.3,631.3 C262.6,631.8 263.2,632.2 263.5,633.0 C263.8,633.8 264.2,634.9 264.3,636.0 C264.4,637.1 264.3,638.6 264.1,639.6 C263.9,640.6 263.4,641.2 262.9,642.0 C262.4,642.8 261.7,643.7 261.1,644.4 C260.5,645.1 259.8,645.7 259.3,646.2 C258.8,646.7 258.7,646.8 257.9,647.3 C257.1,647.8 255.5,648.4 254.6,649.1 C253.7,649.8 253.0,651.3 252.2,651.5 C251.4,651.7 250.4,650.3 249.8,650.3 C249.2,650.3 249.0,650.9 248.6,651.5 C248.2,652.1 247.9,653.3 247.4,653.9 C246.9,654.5 246.1,654.7 245.6,655.1 C245.1,655.5 244.8,655.9 244.4,656.3 C244.0,656.7 243.6,657.0 243.2,657.5 C242.8,658.0 242.3,658.7 242.1,659.3 C241.9,659.9 242.5,660.5 242.1,661.0 C241.7,661.5 240.4,661.8 239.7,662.2 C239.0,662.6 238.6,663.0 237.9,663.4 C237.2,663.8 236.2,664.2 235.5,664.6 C234.8,665.0 234.3,665.2 233.7,665.8 C233.1,666.4 232.3,667.4 231.9,668.2 C231.5,669.0 231.6,669.9 231.3,670.6 C231.0,671.3 230.6,671.9 230.1,672.4 C229.6,672.9 228.9,673.1 228.3,673.6 C227.7,674.1 227.2,674.7 226.6,675.4 C226.0,676.1 225.1,677.6 224.8,678.0"/>
<path d="M278.4,606.8 C278.7,606.4 279.7,606.0 280.2,606.2 C280.7,606.4 281.4,607.5 281.4,608.0 C281.4,608.5 280.7,609.1 280.2,609.2 C279.7,609.3 278.7,609.2 278.4,608.8 C278.1,608.4 278.1,607.2 278.4,606.8Z"/>
<path d="M289.1,645.0 C289.5,644.0 290.5,643.0 291.5,642.0 C292.5,641.0 293.9,639.3 295.1,639.0 C296.3,638.7 297.3,639.7 298.7,640.2 C300.1,640.7 302.4,641.3 303.4,642.0 C304.4,642.7 304.8,643.7 304.6,644.4 C304.4,645.1 303.2,645.7 302.2,646.2 C301.2,646.7 299.9,646.8 298.7,647.3 C297.5,647.8 296.1,648.4 295.1,649.1 C294.1,649.8 293.5,651.3 292.7,651.5 C291.9,651.7 290.9,650.9 290.3,650.3 C289.8,649.7 289.6,648.8 289.4,647.9 C289.2,647.0 288.8,646.0 289.1,645.0Z"/>
<path d="M392.4,566.1 C393.5,566.1 395.8,567.0 395.8,567.4 C395.8,567.8 393.5,568.7 392.4,568.7 C391.3,568.7 389.0,567.8 389.0,567.4 C389.0,567.0 391.3,566.1 392.4,566.1Z"/>
<path d="M406.6,500.7 C407.1,500.7 408.1,501.7 408.1,502.2 C408.1,502.7 407.1,503.7 406.6,503.7 C406.1,503.7 405.1,502.7 405.1,502.2 C405.1,501.7 406.1,500.7 406.6,500.7Z"/>
<path d="M367.7,463.0 C368.2,463.0 369.2,464.0 369.2,464.5 C369.2,465.0 368.2,466.0 367.7,466.0 C367.2,466.0 366.2,465.0 366.2,464.5 C366.2,464.0 367.2,463.0 367.7,463.0Z"/>
<path d="M440.5,522.6 C440.8,521.7 441.3,521.3 441.7,521.6 C442.1,521.9 442.5,523.4 442.7,524.5 C442.9,525.6 443.1,527.1 443.0,528.0 C442.9,528.9 442.7,529.8 442.3,530.0 C441.9,530.2 441.2,530.0 440.8,529.5 C440.4,529.0 439.9,528.1 439.9,527.0 C439.8,525.9 440.2,523.5 440.5,522.6Z"/>
<path d="M277.8,614.0 C277.9,613.3 279.0,612.8 279.6,612.8 C280.2,612.8 281.1,613.4 281.7,614.0 C282.2,614.6 282.9,615.8 282.9,616.4 C282.8,617.0 282.0,617.4 281.4,617.5 C280.8,617.6 279.6,617.5 279.0,616.9 C278.4,616.3 277.7,614.7 277.8,614.0Z"/>
<path d="M287.3,590.1 C287.5,589.3 289.3,588.3 290.3,587.7 C291.3,587.1 292.3,586.7 293.3,586.6 C294.3,586.5 295.8,586.6 296.3,587.2 C296.8,587.8 296.7,589.1 296.5,590.1 C296.3,591.1 295.6,592.3 295.1,593.1 C294.6,593.9 293.9,594.9 293.3,594.9 C292.7,594.9 292.2,593.5 291.5,593.1 C290.8,592.7 289.8,593.0 289.1,592.5 C288.4,592.0 287.1,590.9 287.3,590.1Z"/></g>
<line x1="424.5" y1="78" x2="424.5" y2="678" stroke="#555" stroke-opacity="0.75" stroke-width="1.3" stroke-dasharray="1.3,2.36" stroke-dashoffset="0.9"/>
<line x1="64.5" y1="318.6" x2="664.5" y2="318.6" stroke="#555" stroke-opacity="0.75" stroke-width="1.3" stroke-dasharray="1.3,2.36" stroke-dashoffset="-1.5"/>
<g id="arrows" fill="#000"><polygon points="97.2,79.4 96.6,80.3 95.8,78.9 93.6,86.2 99.4,81.3 97.8,81.1 98.4,80.2"/>
<polygon points="167.7,83.1 165.6,85.8 164.9,84.3 162.2,91.4 168.4,87.0 166.8,86.7 168.9,83.9"/>
<polygon points="177.9,79.0 177.4,79.4 177.2,78.0 173.4,83.1 179.4,81.0 178.2,80.3 178.7,80.0"/>
<polygon points="77.7,133.4 77.1,134.3 76.3,132.9 74.1,140.2 79.9,135.3 78.3,135.1 78.9,134.2"/>
<polygon points="99.2,142.9 98.8,143.4 98.2,142.0 95.5,148.4 101.2,144.6 99.8,144.2 100.2,143.7"/>
<polygon points="149.6,160.8 149.2,161.3 148.7,160.1 146.5,165.4 151.3,162.2 150.1,162.0 150.4,161.5"/>
<polygon points="201.4,162.1 201.4,162.5 200.5,162.0 201.6,166.7 203.3,162.2 202.3,162.6 202.4,162.1"/>
<polygon points="166.2,176.8 166.1,177.2 165.2,176.7 166.4,181.3 167.9,176.9 167.0,177.3 167.0,176.8"/>
<polygon points="136.4,193.6 136.4,194.1 135.3,193.5 136.8,199.1 138.7,193.7 137.5,194.2 137.6,193.6"/>
<polygon points="260.3,97.5 257.0,99.1 257.0,97.5 251.5,102.7 259.0,101.4 257.7,100.4 260.9,98.7"/>
<polygon points="275.3,97.8 271.0,99.6 271.1,98.0 265.2,102.7 272.7,102.0 271.5,100.9 275.9,99.2"/>
<polygon points="366.7,84.5 359.1,84.5 359.8,83.1 352.6,85.3 359.9,87.4 359.1,86.0 366.7,85.9"/>
<polygon points="340.6,113.5 335.7,113.4 336.5,112.0 329.2,114.0 336.4,116.3 335.7,114.8 340.6,114.9"/>
<polygon points="365.6,118.8 360.0,118.0 360.9,116.7 353.4,117.9 360.3,121.0 359.8,119.5 365.4,120.2"/>
<polygon points="266.4,131.8 265.5,132.2 265.6,130.6 259.7,135.3 267.2,134.6 266.0,133.5 267.0,133.2"/>
<polygon points="309.8,181.4 309.5,181.1 310.3,180.9 306.7,179.0 308.7,182.5 308.9,181.7 309.2,182.0"/>
<polygon points="265.2,201.9 265.6,202.3 264.3,202.8 269.8,205.7 266.9,200.2 266.4,201.5 266.0,201.1"/>
<polygon points="492.2,93.4 490.3,93.0 491.3,91.7 483.8,92.3 490.4,96.0 490.0,94.4 491.8,94.8"/>
<polygon points="438.3,121.6 435.8,121.1 436.8,119.8 429.3,120.4 435.9,124.1 435.5,122.5 437.9,123.0"/>
<polygon points="438.4,164.2 432.5,162.0 433.7,160.9 426.2,160.3 432.2,164.9 432.0,163.3 437.8,165.6"/>
<polygon points="453.0,165.6 449.1,163.5 450.4,162.6 443.0,161.2 448.4,166.5 448.5,164.8 452.4,166.8"/>
<polygon points="368.4,210.8 368.1,211.0 368.1,210.1 364.9,213.0 369.1,212.3 368.4,211.8 368.8,211.6"/>
<polygon points="534.3,84.3 532.3,83.6 533.5,82.4 525.9,82.0 532.0,86.5 531.8,84.9 533.9,85.7"/>
<polygon points="542.5,113.9 539.8,113.5 540.7,112.2 533.2,113.3 540.1,116.5 539.6,114.9 542.3,115.3"/>
<polygon points="535.7,124.5 533.4,124.1 534.3,122.8 526.8,123.7 533.6,127.1 533.1,125.5 535.5,125.9"/>
<polygon points="612.7,134.9 608.4,133.0 609.7,132.0 602.2,131.0 607.9,136.0 607.9,134.3 612.1,136.3"/>
<polygon points="636.5,141.3 631.5,139.2 632.7,138.2 625.2,137.4 631.0,142.2 630.9,140.6 635.9,142.7"/>
<polygon points="599.2,184.3 594.2,183.2 595.2,182.0 587.7,182.6 594.3,186.2 593.9,184.7 599.0,185.7"/>
<polygon points="667.1,192.1 664.7,191.7 665.6,190.4 658.1,191.4 664.9,194.7 664.4,193.1 666.9,193.5"/>
<polygon points="575.9,207.5 570.0,206.7 570.9,205.4 563.4,206.6 570.3,209.7 569.8,208.2 575.7,208.9"/>
<polygon points="113.7,232.5 113.6,233.2 112.4,232.3 113.4,239.0 116.2,232.9 114.8,233.3 114.9,232.7"/>
<polygon points="68.4,253.4 68.2,254.4 66.9,253.3 67.3,260.9 71.1,254.4 69.6,254.7 69.8,253.8"/>
<polygon points="137.9,280.7 137.9,281.3 136.6,280.6 138.3,287.4 140.6,280.8 139.2,281.4 139.3,280.7"/>
<polygon points="210.6,280.7 210.6,281.3 209.5,280.7 211.2,286.5 212.9,280.7 211.8,281.3 211.8,280.7"/>
<polygon points="210.7,291.7 210.7,292.4 209.4,291.7 211.4,298.4 213.4,291.7 212.1,292.4 212.1,291.7"/>
<polygon points="94.9,298.2 94.7,298.8 93.6,297.8 93.6,304.8 97.4,299.0 96.0,299.2 96.1,298.6"/>
<polygon points="164.4,300.7 164.2,301.3 163.1,300.4 163.7,307.0 166.9,301.2 165.5,301.6 165.6,300.9"/>
<polygon points="173.4,329.3 173.0,330.4 171.9,329.2 171.6,336.8 176.0,330.6 174.4,330.9 174.8,329.7"/>
<polygon points="233.2,242.7 233.6,243.2 232.2,243.4 237.4,247.8 235.5,241.2 234.7,242.5 234.4,241.9"/>
<polygon points="306.9,254.6 307.8,255.2 306.4,256.0 313.7,258.2 308.8,252.4 308.6,254.0 307.7,253.4"/>
<polygon points="331.2,227.7 333.1,228.4 331.9,229.5 339.5,230.0 333.5,225.4 333.6,227.0 331.8,226.3"/>
<polygon points="289.1,294.2 290.3,297.6 288.7,297.4 293.2,303.5 292.8,295.9 291.7,297.1 290.5,293.8"/>
<polygon points="304.2,313.5 303.8,314.9 302.6,313.7 302.5,321.3 306.8,315.0 305.2,315.3 305.6,313.9"/>
<polygon points="277.4,332.6 281.8,339.8 280.2,339.9 285.8,345.0 283.9,337.7 283.0,339.1 278.6,331.8"/>
<polygon points="291.8,364.3 298.9,371.0 297.3,371.5 304.1,374.9 300.3,368.3 299.8,369.9 292.8,363.3"/>
<polygon points="221.6,360.5 221.5,361.2 220.3,360.3 221.3,367.0 224.1,360.9 222.7,361.3 222.8,360.7"/>
<polygon points="325.8,313.3 325.4,313.6 325.2,312.5 322.1,316.6 327.0,314.9 326.0,314.4 326.4,314.1"/>
<polygon points="378.9,258.5 377.8,257.8 379.1,256.9 371.7,255.4 377.1,260.7 377.1,259.1 378.3,259.7"/>
<polygon points="380.6,277.7 380.0,277.5 380.9,276.4 374.1,277.0 380.1,280.2 379.7,278.8 380.4,278.9"/>
<polygon points="394.3,298.8 393.8,298.8 394.5,297.9 389.6,298.4 393.9,300.7 393.7,299.7 394.1,299.8"/>
<polygon points="415.1,308.6 413.6,308.0 414.8,307.0 407.3,306.2 413.2,311.0 413.1,309.4 414.5,310.0"/>
<polygon points="384.4,343.5 383.6,343.6 384.1,342.1 377.2,345.1 384.7,346.4 383.8,345.0 384.6,344.9"/>
<polygon points="418.6,247.4 418.5,247.3 418.7,247.2 417.5,246.8 418.3,247.8 418.3,247.5 418.4,247.6"/>
<polygon points="518.1,233.2 515.1,232.8 516.0,231.5 508.5,232.8 515.5,235.8 514.9,234.3 517.9,234.6"/>
<polygon points="491.8,250.5 488.6,250.2 489.4,248.8 482.0,250.3 489.0,253.1 488.4,251.6 491.6,251.9"/>
<polygon points="494.1,288.2 490.2,288.5 490.8,287.0 483.8,289.8 491.2,291.3 490.4,290.0 494.3,289.6"/>
<polygon points="484.6,314.7 480.0,315.5 480.5,313.9 473.7,317.3 481.2,318.2 480.3,316.9 484.8,316.1"/>
<polygon points="451.6,364.5 445.6,365.8 446.0,364.2 439.4,367.9 446.9,368.5 445.9,367.2 452.0,365.9"/>
<polygon points="491.6,374.5 484.7,375.5 485.2,373.9 478.3,377.1 485.8,378.2 484.9,376.9 491.8,375.9"/>
<polygon points="611.3,259.3 604.7,258.8 605.5,257.4 598.1,259.1 605.2,261.8 604.6,260.3 611.3,260.7"/>
<polygon points="661.8,256.0 654.9,255.8 655.7,254.4 648.4,256.4 655.6,258.7 654.9,257.3 661.8,257.4"/>
<polygon points="575.8,271.6 569.0,271.4 569.8,269.9 562.5,271.9 569.7,274.3 569.0,272.8 575.8,273.0"/>
<polygon points="577.9,308.7 570.2,309.4 570.8,307.9 563.8,310.7 571.2,312.2 570.4,310.8 578.1,310.1"/>
<polygon points="537.7,317.5 530.4,318.6 530.9,317.1 524.1,320.4 531.6,321.4 530.7,320.1 537.9,318.9"/>
<polygon points="614.8,353.5 606.5,355.4 606.9,353.8 600.3,357.5 607.9,358.0 606.8,356.8 615.2,354.9"/>
<polygon points="608.0,363.6 599.8,365.3 600.2,363.8 593.6,367.4 601.1,368.0 600.1,366.8 608.4,365.0"/>
<polygon points="91.2,380.9 88.9,384.5 88.1,383.1 86.0,390.4 91.7,385.5 90.1,385.3 92.4,381.7"/>
<polygon points="99.1,391.9 96.8,395.2 96.0,393.7 93.6,400.9 99.6,396.2 98.0,396.0 100.3,392.7"/>
<polygon points="125.2,379.8 123.0,382.9 122.2,381.4 119.8,388.6 125.8,384.0 124.2,383.7 126.4,380.6"/>
<polygon points="180.4,373.6 179.2,375.7 178.3,374.3 176.5,381.7 182.0,376.5 180.4,376.4 181.6,374.4"/>
<polygon points="197.9,390.3 197.3,390.9 196.7,389.4 193.5,396.3 199.9,392.3 198.4,391.9 198.9,391.3"/>
<polygon points="145.0,420.9 142.3,422.9 142.0,421.3 137.5,427.4 144.6,424.8 143.2,424.1 145.8,422.1"/>
<polygon points="69.0,444.3 68.1,445.2 67.6,443.6 64.0,450.3 70.7,446.7 69.1,446.2 70.0,445.3"/>
<polygon points="112.2,488.9 104.5,492.2 104.6,490.6 98.8,495.4 106.3,494.6 105.1,493.5 112.8,490.3"/>
<polygon points="154.2,516.4 147.7,519.7 147.7,518.1 142.3,523.4 149.7,522.0 148.4,521.0 154.8,517.6"/>
<polygon points="254.8,436.3 253.3,437.3 253.1,435.7 248.4,441.7 255.6,439.3 254.1,438.5 255.6,437.5"/>
<polygon points="283.1,432.3 281.1,433.5 281.0,431.9 275.8,437.4 283.2,435.6 281.8,434.7 283.9,433.5"/>
<polygon points="312.0,428.8 311.3,429.0 311.6,427.5 305.4,431.5 312.8,431.5 311.7,430.4 312.4,430.2"/>
<polygon points="236.8,465.6 232.2,468.6 232.1,467.0 227.2,472.8 234.4,470.6 233.0,469.8 237.6,466.8"/>
<polygon points="352.9,436.2 350.4,436.6 350.9,435.1 344.1,438.5 351.6,439.4 350.7,438.1 353.1,437.6"/>
<polygon points="347.8,483.9 347.2,484.1 347.4,482.6 341.5,486.5 348.6,486.4 347.6,485.3 348.2,485.1"/>
<polygon points="378.7,382.5 374.5,384.3 374.6,382.7 368.8,387.6 376.3,386.7 375.1,385.7 379.3,383.9"/>
<polygon points="428.0,401.3 421.1,403.7 421.3,402.1 415.2,406.5 422.8,406.2 421.6,405.1 428.4,402.7"/>
<polygon points="429.4,440.4 427.8,441.8 427.5,440.2 423.3,446.5 430.3,443.5 428.8,442.9 430.4,441.6"/>
<polygon points="470.0,430.4 464.6,432.5 464.8,430.9 458.8,435.6 466.3,435.0 465.1,433.9 470.6,431.8"/>
<polygon points="475.4,464.7 474.0,465.1 474.3,463.5 467.9,467.6 475.5,467.7 474.4,466.5 475.8,466.1"/>
<polygon points="482.7,492.9 479.8,493.7 480.2,492.1 473.7,496.0 481.3,496.3 480.2,495.1 483.1,494.3"/>
<polygon points="494.0,516.7 485.4,518.6 485.8,517.0 479.2,520.7 486.7,521.3 485.7,520.0 494.4,518.1"/>
<polygon points="546.8,415.2 537.8,416.3 538.3,414.8 531.4,417.9 538.9,419.1 538.0,417.8 547.0,416.6"/>
<polygon points="571.9,428.7 563.6,430.6 564.0,429.0 557.4,432.8 565.0,433.3 563.9,432.0 572.3,430.1"/>
<polygon points="568.6,433.8 560.9,435.3 561.3,433.8 554.6,437.3 562.1,438.0 561.1,436.7 568.8,435.2"/>
<polygon points="522.5,451.5 521.6,451.6 522.1,450.1 515.3,453.4 522.8,454.4 521.9,453.1 522.7,452.9"/>
<polygon points="534.7,495.8 530.0,497.6 530.1,496.0 524.1,500.6 531.7,500.1 530.5,499.0 535.3,497.2"/>
<polygon points="606.2,509.9 596.0,512.7 596.3,511.2 589.9,515.2 597.5,515.3 596.4,514.1 606.6,511.3"/>
<polygon points="114.6,528.8 107.7,532.0 107.7,530.3 102.0,535.3 109.5,534.3 108.2,533.3 115.2,530.2"/>
<polygon points="205.9,535.1 203.8,536.7 203.5,535.1 199.0,541.2 206.1,538.6 204.6,537.9 206.7,536.3"/>
<polygon points="112.6,563.1 106.8,566.3 106.8,564.7 101.5,570.1 108.9,568.5 107.6,567.6 113.4,564.3"/>
<polygon points="179.3,559.9 176.6,561.2 176.7,559.6 171.0,564.6 178.5,563.5 177.2,562.5 179.9,561.3"/>
<polygon points="202.2,564.5 200.1,565.7 200.0,564.0 194.8,569.5 202.2,567.8 200.8,566.9 203.0,565.7"/>
<polygon points="78.2,602.4 73.4,605.9 73.2,604.3 68.6,610.3 75.7,607.8 74.3,607.0 79.0,603.6"/>
<polygon points="197.2,603.8 189.1,607.0 189.3,605.4 183.3,610.0 190.8,609.4 189.6,608.3 197.8,605.2"/>
<polygon points="168.3,621.1 160.5,625.3 160.4,623.6 155.1,629.0 162.5,627.5 161.2,626.5 168.9,622.3"/>
<polygon points="134.0,635.9 126.0,640.4 126.0,638.8 120.7,644.2 128.1,642.5 126.7,641.6 134.8,637.1"/>
<polygon points="219.9,639.4 215.7,643.0 215.3,641.5 211.2,647.8 218.1,644.8 216.6,644.1 220.9,640.6"/>
<polygon points="213.4,649.1 208.7,655.1 208.0,653.6 205.2,660.6 211.4,656.3 209.8,656.0 214.6,650.1"/>
<polygon points="137.8,672.8 133.9,674.8 133.9,673.2 128.5,678.5 135.9,677.0 134.6,676.1 138.4,674.0"/>
<polygon points="240.0,533.9 238.4,535.5 237.9,534.0 234.5,540.8 241.0,537.0 239.5,536.5 241.0,534.9"/>
<polygon points="288.5,550.9 286.8,552.8 286.2,551.3 283.1,558.2 289.5,554.1 287.9,553.7 289.5,551.9"/>
<polygon points="359.2,550.7 346.5,554.1 346.8,552.5 340.4,556.5 348.0,556.7 346.9,555.5 359.6,552.1"/>
<polygon points="313.6,570.3 304.9,571.0 305.5,569.5 298.5,572.3 305.9,573.8 305.1,572.5 313.8,571.7"/>
<polygon points="284.3,586.7 275.2,588.1 275.7,586.5 268.9,589.8 276.4,590.8 275.5,589.5 284.5,588.1"/>
<polygon points="373.5,569.7 364.5,577.4 364.1,575.8 360.0,582.2 366.9,579.2 365.4,578.5 374.5,570.9"/>
<polygon points="338.2,613.8 329.2,621.6 328.8,620.0 324.7,626.4 331.6,623.3 330.1,622.7 339.2,614.8"/>
<polygon points="273.1,647.8 267.9,650.5 267.9,648.9 262.5,654.2 269.9,652.7 268.6,651.8 273.7,649.0"/>
<polygon points="289.5,673.4 288.4,674.2 288.2,672.6 283.5,678.5 290.7,676.1 289.3,675.3 290.3,674.6"/>
<polygon points="413.1,578.7 405.6,583.9 405.4,582.3 400.7,588.2 407.9,585.8 406.5,585.1 413.9,579.9"/>
<polygon points="395.5,587.9 388.0,595.2 387.5,593.7 383.8,600.3 390.5,596.8 389.0,596.3 396.5,588.9"/>
<polygon points="420.0,527.0 416.9,530.2 416.4,528.7 413.0,535.5 419.5,531.7 418.0,531.2 421.0,528.0"/>
<polygon points="478.5,599.1 473.6,601.9 473.5,600.2 468.3,605.7 475.7,604.0 474.3,603.1 479.3,600.3"/>
<polygon points="432.4,630.1 427.6,631.7 427.8,630.1 421.6,634.5 429.2,634.3 428.0,633.1 432.8,631.5"/>
<polygon points="402.6,658.2 402.6,660.1 401.1,659.4 403.3,666.6 405.5,659.4 404.0,660.1 404.0,658.2"/>
<polygon points="479.5,661.4 476.5,661.7 477.1,660.2 470.1,663.0 477.5,664.5 476.7,663.1 479.7,662.8"/>
<polygon points="367.2,537.5 367.8,537.8 366.7,538.6 373.0,539.8 368.3,535.4 368.3,536.7 367.8,536.5"/>
<polygon points="556.7,543.5 554.8,546.1 554.1,544.6 551.6,551.8 557.6,547.2 556.0,546.9 557.9,544.3"/>
<polygon points="532.8,568.3 528.6,572.0 528.2,570.4 524.1,576.8 531.0,573.7 529.5,573.1 533.8,569.5"/>
<polygon points="587.4,565.9 582.6,567.4 582.8,565.8 576.6,570.1 584.2,570.0 583.0,568.8 587.8,567.3"/>
<polygon points="642.6,564.8 636.5,568.2 636.4,566.6 631.2,572.1 638.6,570.4 637.2,569.5 643.4,566.0"/>
<polygon points="663.6,591.4 658.1,594.7 657.9,593.0 652.8,598.6 660.2,596.8 658.8,595.9 664.4,592.6"/>
<polygon points="597.6,602.2 593.9,602.7 594.5,601.2 587.6,604.4 595.1,605.5 594.2,604.2 597.8,603.6"/>
<polygon points="632.5,607.8 626.7,610.6 626.7,609.0 621.2,614.2 628.7,612.9 627.4,611.9 633.1,609.0"/>
<polygon points="533.6,658.2 529.6,659.9 529.7,658.3 523.8,663.0 531.3,662.3 530.1,661.2 534.2,659.6"/>
<polygon points="543.9,556.6 544.2,557.1 543.0,557.3 547.6,560.7 545.6,555.3 545.1,556.4 544.7,556.0"/>
<polygon points="676.2,519.3 666.0,522.1 666.3,520.6 659.9,524.6 667.5,524.7 666.4,523.5 676.6,520.7"/></g>
</g>
<rect x="64.5" y="78.5" width="600" height="600" fill="none" stroke="#000" stroke-width="1.15"/>
<!-- ticks -->
<line x1="59" y1="318.5" x2="64.5" y2="318.5" stroke="#000" stroke-width="1.1"/>
<line x1="424.5" y1="678.5" x2="424.5" y2="683.8" stroke="#000" stroke-width="1.1"/>
<text x="10.5" y="326" font-size="22.5" textLength="43.2" lengthAdjust="spacingAndGlyphs">16°N</text>
<text x="398.2" y="703" font-size="22.5" textLength="52.6" lengthAdjust="spacingAndGlyphs">122°E</text>
<!-- colorbar -->
<polygon points="68.5,770.5 660.5,770.5 690.1,787 660.5,803.5 68.5,803.5 38.9,787" fill="url(#cb)"/>
<polygon points="38.9,787 68.6,770.5 68.6,803.5" fill="#fff7ec"/>
<polygon points="690.1,787 660.4,770.5 660.4,803.5" fill="#7f0000"/>
<polygon points="68.5,770.5 660.5,770.5 690.1,787 660.5,803.5 68.5,803.5 38.9,787" fill="none" stroke="#000" stroke-width="1.1"/>
<g stroke="#000" stroke-width="1.1">
<line x1="68.5" y1="803.5" x2="68.5" y2="808.6"/>
<line x1="216.5" y1="803.5" x2="216.5" y2="808.6"/>
<line x1="364.5" y1="803.5" x2="364.5" y2="808.6"/>
<line x1="512.5" y1="803.5" x2="512.5" y2="808.6"/>
<line x1="660.5" y1="803.5" x2="660.5" y2="808.6"/>
</g>
<g font-size="18">
<text x="56.5" y="825" textLength="21.5" lengthAdjust="spacingAndGlyphs">0.0</text>
<text x="200.4" y="825" textLength="30.5" lengthAdjust="spacingAndGlyphs">62.5</text>
<text x="344.3" y="825" textLength="39.5" lengthAdjust="spacingAndGlyphs">125.0</text>
<text x="492.3" y="825" textLength="39.5" lengthAdjust="spacingAndGlyphs">187.5</text>
<text x="640.3" y="825" textLength="39.5" lengthAdjust="spacingAndGlyphs">250.0</text>
</g>
<text x="701.5" y="787" font-size="20" font-weight="bold" font-style="italic" textLength="109" lengthAdjust="spacingAndGlyphs">CObb (ppbv)</text>
</svg>
</body></html>
